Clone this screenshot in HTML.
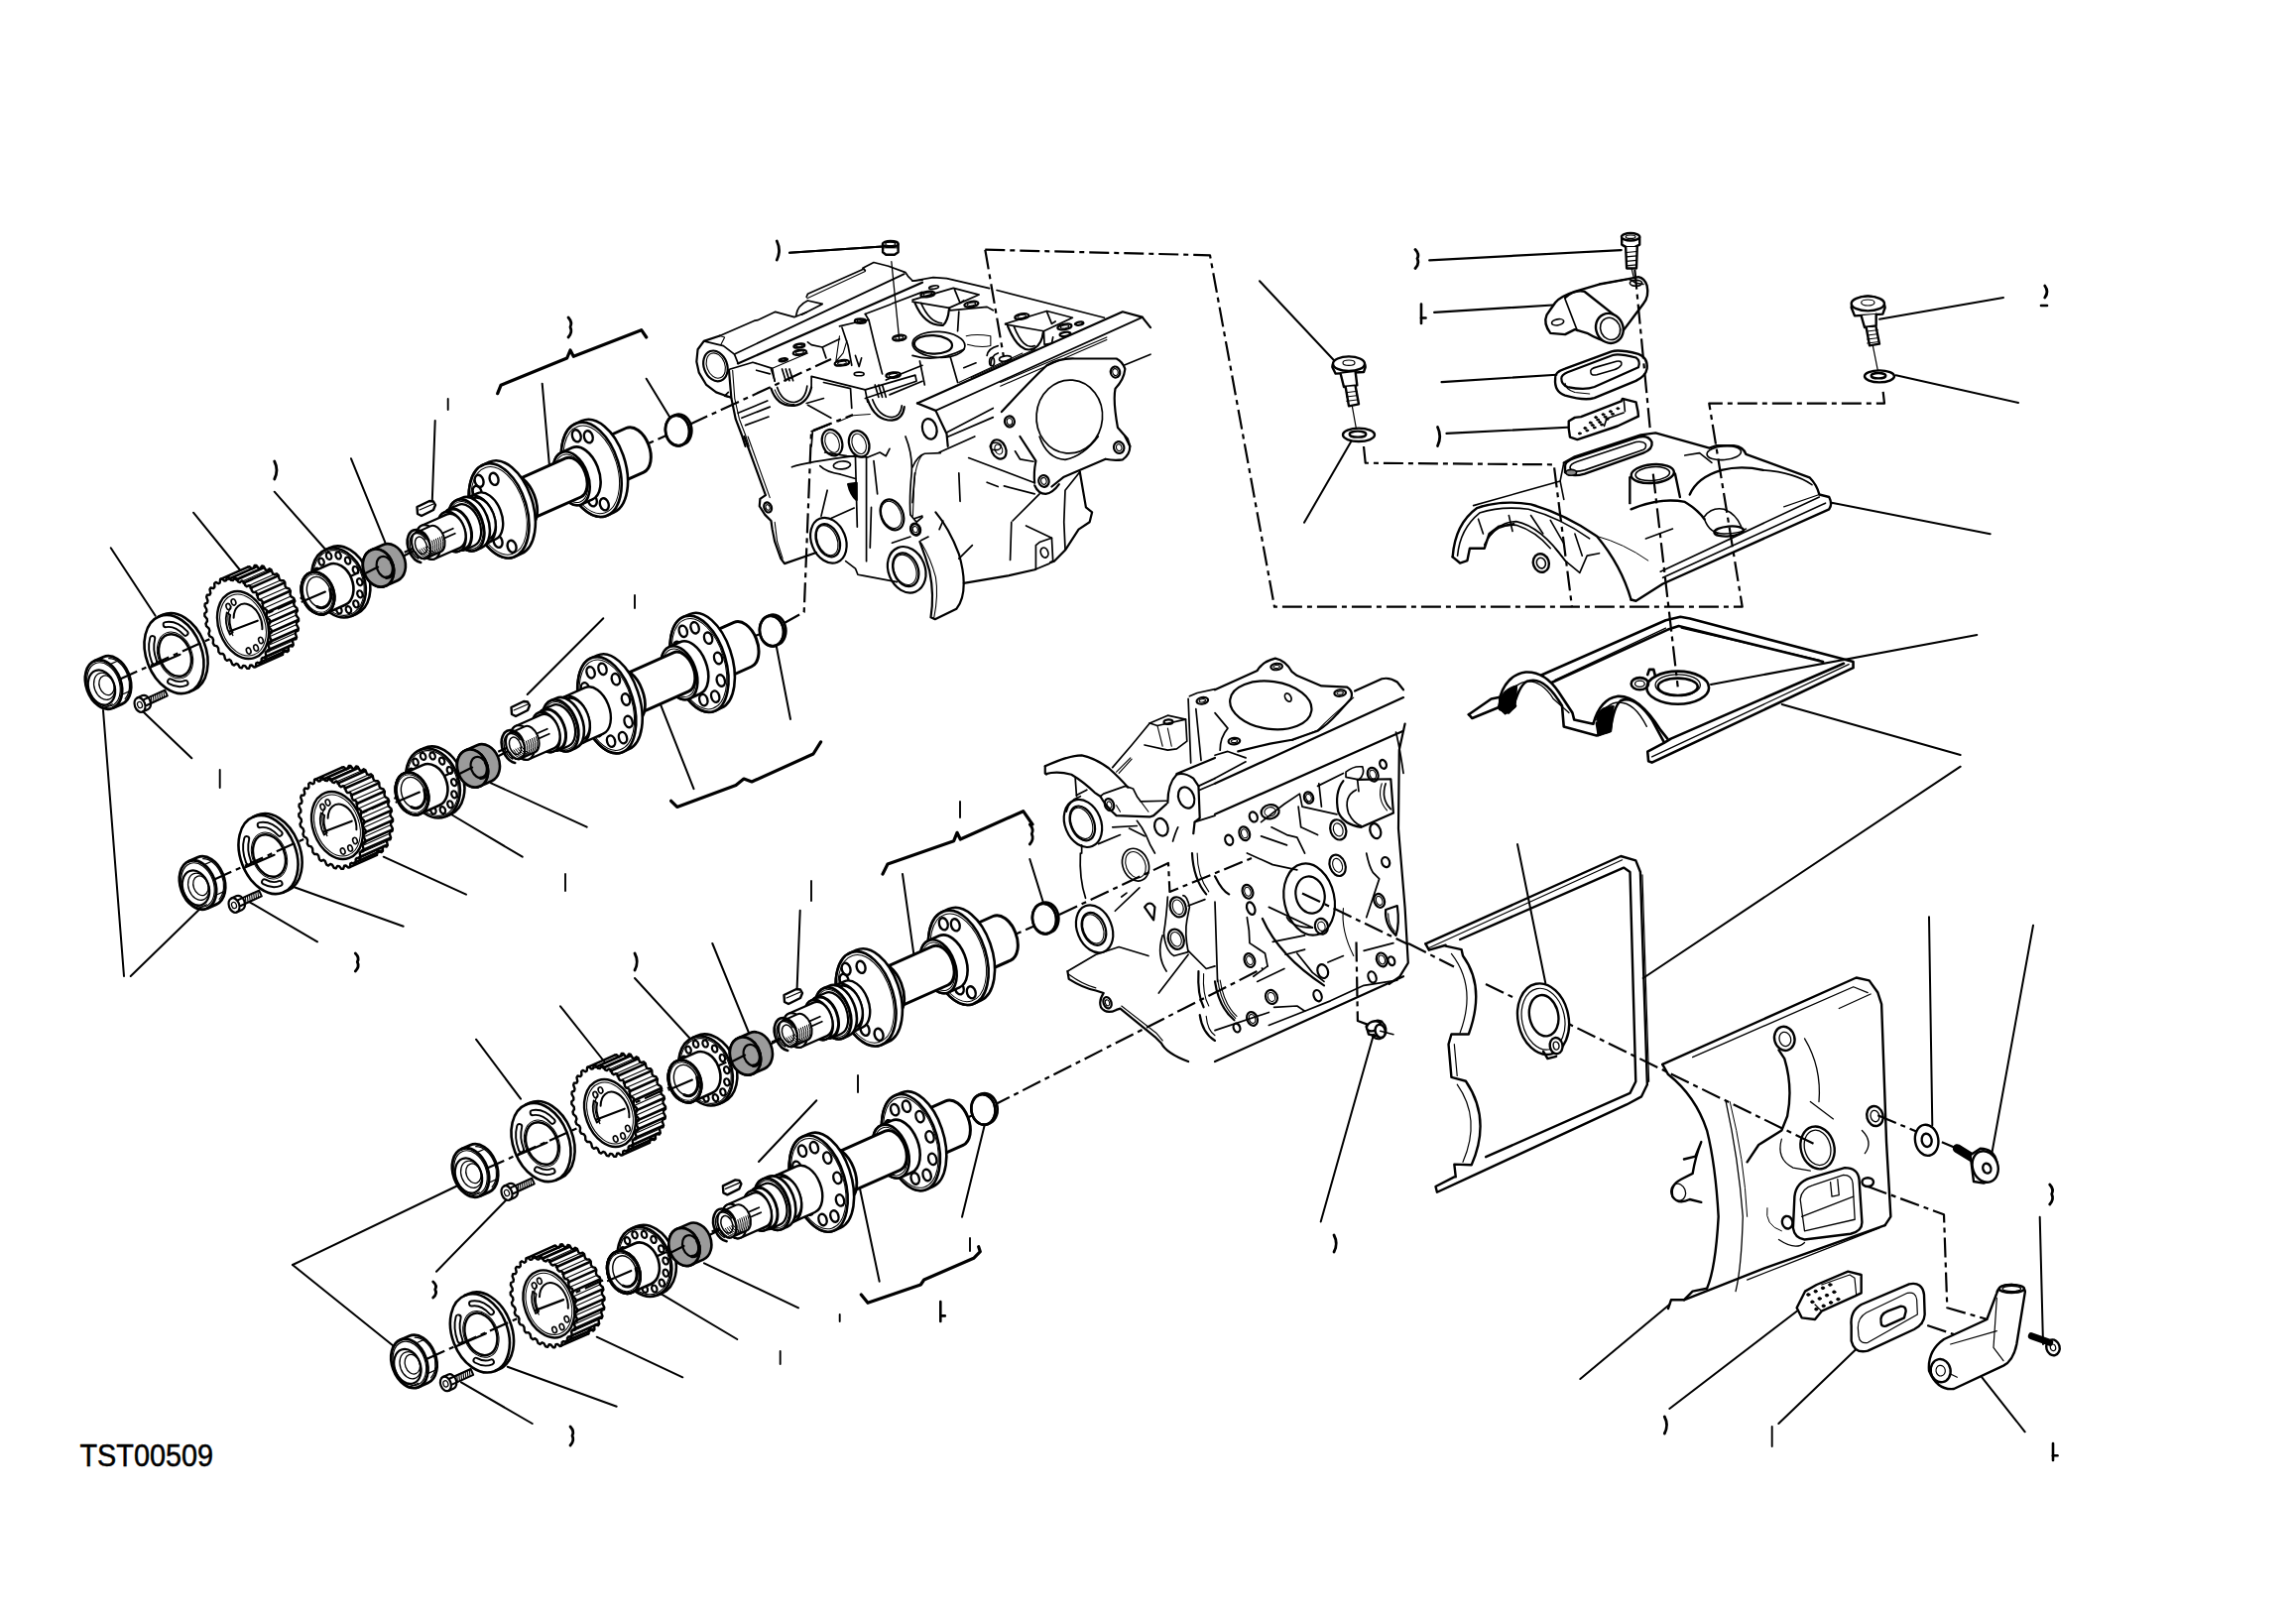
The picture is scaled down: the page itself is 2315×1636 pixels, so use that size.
<!DOCTYPE html>
<html><head><meta charset="utf-8"><style>
html,body{margin:0;padding:0;background:#fff;width:2315px;height:1636px;overflow:hidden}
svg{display:block;position:absolute;left:0;top:0}
.t{font-family:"Liberation Sans",sans-serif}
</style></head><body>
<svg width="2315" height="1636" viewBox="0 0 2315 1636">
<g fill="none" stroke="#000" stroke-linecap="round" stroke-linejoin="round">
<g transform="translate(690 250) scale(0.1232)">
<path d="M1695 110L1760 760" fill="none" stroke-width="1.3" vector-effect="non-scaling-stroke"/>
<path d="M380 1222L330 1205L260 1180L180 1120L120 1020L100 930L110 830L160 762L290 718" fill="none" stroke-width="2.2" vector-effect="non-scaling-stroke"/>
<ellipse cx="255" cy="965" rx="95" ry="128" transform="rotate(-20 255 965)" fill="none" stroke-width="2.2" vector-effect="non-scaling-stroke"/>
<ellipse cx="258" cy="962" rx="74" ry="106" transform="rotate(-20 258 962)" fill="none" stroke-width="1.1" vector-effect="non-scaling-stroke"/>
<path d="M160 762L320 800L410 870L440 945" fill="none" stroke-width="1.7" vector-effect="non-scaling-stroke"/>
<path d="M300 790L330 730L290 718" fill="none" stroke-width="1.1" vector-effect="non-scaling-stroke"/>
<path d="M290 718L570 596L600 590L745 522L900 565L940 550L1000 525" fill="none" stroke-width="1.7" vector-effect="non-scaling-stroke"/>
<path d="M915 550 Q925 470 1010 430 L1130 458 L960 545" fill="none" stroke-width="1.7" vector-effect="non-scaling-stroke"/>
<path d="M1000 400L1010 375L1470 170L1480 185" fill="none" stroke-width="1.7" vector-effect="non-scaling-stroke"/>
<path d="M1005 412L1480 190" fill="none" stroke-width="1.1" vector-effect="non-scaling-stroke"/>
<path d="M1460 165L1550 118L1670 148L1810 200L1830 230L1870 270L1948 262" fill="none" stroke-width="1.7" vector-effect="non-scaling-stroke"/>
<path d="M410 868L1800 212" fill="none" stroke-width="1.7" vector-effect="non-scaling-stroke"/>
<path d="M438 945L1948 282" fill="none" stroke-width="2.2" vector-effect="non-scaling-stroke"/>
<path d="M1480 540L1690 460" fill="none" stroke-width="1.7" vector-effect="non-scaling-stroke"/>
<path d="M1700 455L1948 360" fill="none" stroke-width="1.7" vector-effect="non-scaling-stroke"/>
<path d="M370 992L560 935L720 985L740 1090" fill="none" stroke-width="1.7" vector-effect="non-scaling-stroke"/>
<path d="M590 1000L700 1030" fill="none" stroke-width="1.7" vector-effect="non-scaling-stroke"/>
<path d="M720 985L1010 860" fill="none" stroke-width="1.1" vector-effect="non-scaling-stroke"/>
<path d="M365 1000L385 1230L420 1400L470 1530L500 1623" fill="none" stroke-width="2.2" vector-effect="non-scaling-stroke"/>
<path d="M395 1000L412 1230L450 1400L500 1530L530 1623" fill="none" stroke-width="1.1" vector-effect="non-scaling-stroke"/>
<path d="M370 1220L330 1210L360 1180" fill="none" stroke-width="1.7" vector-effect="non-scaling-stroke"/>
<path d="M710 1150 Q760 1300 900 1290 Q1010 1270 1040 1140" fill="none" stroke-width="2.2" vector-effect="non-scaling-stroke"/>
<path d="M760 1140 Q800 1260 900 1262 Q990 1250 1005 1130" fill="none" stroke-width="1.7" vector-effect="non-scaling-stroke"/>
<path d="M740 1160 Q790 1285 900 1278" fill="none" stroke-width="1.1" vector-effect="non-scaling-stroke"/>
<path d="M710 990L740 1085" fill="none" stroke-width="1.7" vector-effect="non-scaling-stroke"/>
<path d="M800 990L830 1085" fill="none" stroke-width="1.7" vector-effect="non-scaling-stroke"/>
<path d="M830 990L860 1085" fill="none" stroke-width="1.7" vector-effect="non-scaling-stroke"/>
<path d="M860 990L890 1085" fill="none" stroke-width="1.7" vector-effect="non-scaling-stroke"/>
<path d="M1040 1140L1040 1050L1480 1160L1890 1040L1900 1090L1480 1230" fill="none" stroke-width="1.7" vector-effect="non-scaling-stroke"/>
<path d="M1140 1100L1360 1150L1370 1310" fill="none" stroke-width="1.7" vector-effect="non-scaling-stroke"/>
<path d="M1480 1160L1500 1260" fill="none" stroke-width="1.7" vector-effect="non-scaling-stroke"/>
<path d="M1270 640L1420 605L1500 590" fill="none" stroke-width="1.7" vector-effect="non-scaling-stroke"/>
<path d="M1290 650L1340 800L1370 960" fill="none" stroke-width="1.7" vector-effect="non-scaling-stroke"/>
<path d="M1510 590L1560 800L1620 1030" fill="none" stroke-width="1.7" vector-effect="non-scaling-stroke"/>
<path d="M1480 540L1510 590" fill="none" stroke-width="1.7" vector-effect="non-scaling-stroke"/>
<path d="M1270 720 L1240 930 L1300 860 L1330 760" fill="none" stroke-width="1.1" vector-effect="non-scaling-stroke"/>
<path d="M1400 880L1430 970L1450 900" fill="none" stroke-width="1.7" vector-effect="non-scaling-stroke"/>
<ellipse cx="1440" cy="598" rx="45" ry="18" transform="rotate(0 1440 598)" fill="none" stroke-width="2.2" vector-effect="non-scaling-stroke"/>
<ellipse cx="1440" cy="598" rx="25" ry="9" transform="rotate(0 1440 598)" fill="none" stroke-width="1.1" vector-effect="non-scaling-stroke"/>
<path d="M1010 770L1040 792L1130 812L1270 745" fill="none" stroke-width="1.7" vector-effect="non-scaling-stroke"/>
<path d="M1130 812L1160 900" fill="none" stroke-width="1.7" vector-effect="non-scaling-stroke"/>
<ellipse cx="940" cy="800" rx="45" ry="16" transform="rotate(-8 940 800)" fill="none" stroke-width="2.2" vector-effect="non-scaling-stroke"/>
<ellipse cx="940" cy="800" rx="27" ry="8.8" transform="rotate(-8 940 800)" fill="none" stroke-width="1.1" vector-effect="non-scaling-stroke"/>
<ellipse cx="945" cy="855" rx="55" ry="20" transform="rotate(-8 945 855)" fill="none" stroke-width="2.2" vector-effect="non-scaling-stroke"/>
<ellipse cx="945" cy="855" rx="33" ry="11" transform="rotate(-8 945 855)" fill="none" stroke-width="1.1" vector-effect="non-scaling-stroke"/>
<ellipse cx="810" cy="915" rx="35" ry="12" transform="rotate(-8 810 915)" fill="none" stroke-width="2.2" vector-effect="non-scaling-stroke"/>
<ellipse cx="810" cy="915" rx="21" ry="6.6" transform="rotate(-8 810 915)" fill="none" stroke-width="1.1" vector-effect="non-scaling-stroke"/>
<ellipse cx="1290" cy="940" rx="60" ry="22" transform="rotate(-8 1290 940)" fill="none" stroke-width="2.2" vector-effect="non-scaling-stroke"/>
<ellipse cx="1290" cy="940" rx="36" ry="12.1" transform="rotate(-8 1290 940)" fill="none" stroke-width="1.1" vector-effect="non-scaling-stroke"/>
<ellipse cx="1760" cy="735" rx="55" ry="22" transform="rotate(-8 1760 735)" fill="none" stroke-width="2.2" vector-effect="non-scaling-stroke"/>
<ellipse cx="1760" cy="735" rx="33" ry="12.1" transform="rotate(-8 1760 735)" fill="none" stroke-width="1.1" vector-effect="non-scaling-stroke"/>
<ellipse cx="1710" cy="1040" rx="60" ry="22" transform="rotate(-8 1710 1040)" fill="none" stroke-width="2.2" vector-effect="non-scaling-stroke"/>
<ellipse cx="1710" cy="1040" rx="36" ry="12.1" transform="rotate(-8 1710 1040)" fill="none" stroke-width="1.1" vector-effect="non-scaling-stroke"/>
<ellipse cx="1430" cy="1030" rx="40" ry="15" transform="rotate(0 1430 1030)" fill="none" stroke-width="1.7" vector-effect="non-scaling-stroke"/>
<path d="M1500 1240 Q1560 1410 1700 1410 Q1790 1400 1800 1300" fill="none" stroke-width="2.2" vector-effect="non-scaling-stroke"/>
<path d="M1540 1240 Q1590 1380 1700 1385 Q1770 1380 1780 1290" fill="none" stroke-width="1.7" vector-effect="non-scaling-stroke"/>
<path d="M1560 1120L1590 1220" fill="none" stroke-width="1.7" vector-effect="non-scaling-stroke"/>
<path d="M1590 1120L1620 1220" fill="none" stroke-width="1.7" vector-effect="non-scaling-stroke"/>
<path d="M1620 1120L1650 1220" fill="none" stroke-width="1.7" vector-effect="non-scaling-stroke"/>
<path d="M1650 1080L1948 960" fill="none" stroke-width="1.7" vector-effect="non-scaling-stroke"/>
<path d="M1680 1200L1948 1090" fill="none" stroke-width="1.7" vector-effect="non-scaling-stroke"/>
<path d="M440 1350L680 1250" fill="none" stroke-width="1.7" vector-effect="non-scaling-stroke"/>
<path d="M470 1390L700 1300" fill="none" stroke-width="1.7" vector-effect="non-scaling-stroke"/>
<path d="M500 1450L690 1380" fill="none" stroke-width="1.7" vector-effect="non-scaling-stroke"/>
<path d="M1000 1270L1140 1230" fill="none" stroke-width="1.7" vector-effect="non-scaling-stroke"/>
<path d="M1010 1285L1200 1390" fill="none" stroke-width="1.7" vector-effect="non-scaling-stroke"/>
<path d="M1040 1500L1190 1440" fill="none" stroke-width="1.7" vector-effect="non-scaling-stroke"/>
<path d="M1040 1623L1050 1500L1190 1440" fill="none" stroke-width="1.7" vector-effect="non-scaling-stroke"/>
<path d="M1260 1420L1380 1370L1520 1360" fill="none" stroke-width="1.1" vector-effect="non-scaling-stroke"/>
</g>
<g transform="translate(920 250) scale(0.1232)">
<path d="M0 270L170 240L280 248L630 330" fill="none" stroke-width="1.7" vector-effect="non-scaling-stroke"/>
<path d="M690 345L1570 570" fill="none" stroke-width="1.7" vector-effect="non-scaling-stroke"/>
<path d="M0 425L335 328L545 382L300 490L0 440" fill="none" stroke-width="1.7" vector-effect="non-scaling-stroke"/>
<ellipse cx="125" cy="378" rx="58" ry="22" transform="rotate(-10 125 378)" fill="none" stroke-width="2.2" vector-effect="non-scaling-stroke"/>
<ellipse cx="125" cy="378" rx="35" ry="12" transform="rotate(-10 125 378)" fill="none" stroke-width="1.1" vector-effect="non-scaling-stroke"/>
<ellipse cx="175" cy="322" rx="40" ry="13" transform="rotate(-10 175 322)" fill="none" stroke-width="1.7" vector-effect="non-scaling-stroke"/>
<ellipse cx="482" cy="460" rx="58" ry="22" transform="rotate(-10 482 460)" fill="none" stroke-width="2.2" vector-effect="non-scaling-stroke"/>
<ellipse cx="482" cy="460" rx="35" ry="12" transform="rotate(-10 482 460)" fill="none" stroke-width="1.1" vector-effect="non-scaling-stroke"/>
<path d="M20 450 Q100 640 250 632 Q290 600 300 500" fill="none" stroke-width="2.2" vector-effect="non-scaling-stroke"/>
<path d="M70 450 Q140 610 240 615" fill="none" stroke-width="1.7" vector-effect="non-scaling-stroke"/>
<path d="M300 490L310 510L610 482L660 510" fill="none" stroke-width="1.7" vector-effect="non-scaling-stroke"/>
<path d="M380 520L370 680" fill="none" stroke-width="1.7" vector-effect="non-scaling-stroke"/>
<path d="M345 340L390 450L420 430" fill="none" stroke-width="1.7" vector-effect="non-scaling-stroke"/>
<path d="M760 620L1100 515L1310 570L1075 680L760 625" fill="none" stroke-width="1.7" vector-effect="non-scaling-stroke"/>
<ellipse cx="895" cy="560" rx="58" ry="22" transform="rotate(-10 895 560)" fill="none" stroke-width="2.2" vector-effect="non-scaling-stroke"/>
<ellipse cx="895" cy="560" rx="35" ry="12" transform="rotate(-10 895 560)" fill="none" stroke-width="1.1" vector-effect="non-scaling-stroke"/>
<ellipse cx="1245" cy="645" rx="58" ry="22" transform="rotate(-10 1245 645)" fill="none" stroke-width="2.2" vector-effect="non-scaling-stroke"/>
<ellipse cx="1245" cy="645" rx="35" ry="12" transform="rotate(-10 1245 645)" fill="none" stroke-width="1.1" vector-effect="non-scaling-stroke"/>
<ellipse cx="1365" cy="618" rx="35" ry="12" transform="rotate(-10 1365 618)" fill="none" stroke-width="2.2" vector-effect="non-scaling-stroke"/>
<ellipse cx="1250" cy="705" rx="45" ry="16" transform="rotate(-10 1250 705)" fill="none" stroke-width="2.2" vector-effect="non-scaling-stroke"/>
<path d="M780 640 Q880 880 1000 820 Q1060 780 1070 690" fill="none" stroke-width="2.2" vector-effect="non-scaling-stroke"/>
<path d="M830 640 Q910 840 1000 800" fill="none" stroke-width="1.7" vector-effect="non-scaling-stroke"/>
<path d="M1100 520L1140 620L1170 600" fill="none" stroke-width="1.7" vector-effect="non-scaling-stroke"/>
<path d="M1075 680L1080 790L1140 780L1150 730" fill="none" stroke-width="1.7" vector-effect="non-scaling-stroke"/>
<ellipse cx="170" cy="790" rx="155" ry="75" transform="rotate(3 170 790)" fill="none" stroke-width="2.2" vector-effect="non-scaling-stroke"/>
<ellipse cx="215" cy="790" rx="215" ry="105" transform="rotate(3 215 790)" fill="none" stroke-width="1.7" vector-effect="non-scaling-stroke"/>
<path d="M0 880 Q200 940 420 830" fill="none" stroke-width="1.7" vector-effect="non-scaling-stroke"/>
<path d="M60 925L100 1120" fill="none" stroke-width="1.7" vector-effect="non-scaling-stroke"/>
<path d="M310 890L370 1100" fill="none" stroke-width="1.7" vector-effect="non-scaling-stroke"/>
<path d="M440 720 Q520 700 640 720 L640 800 Q560 820 450 790" fill="none" stroke-width="1.1" vector-effect="non-scaling-stroke"/>
<path d="M610 880 Q620 820 700 800" fill="none" stroke-width="1.7" vector-effect="non-scaling-stroke"/>
<path d="M640 960 Q640 880 700 860" fill="none" stroke-width="1.7" vector-effect="non-scaling-stroke"/>
<path d="M420 980L520 940" fill="none" stroke-width="1.7" vector-effect="non-scaling-stroke"/>
<ellipse cx="760" cy="905" rx="50" ry="22" transform="rotate(-10 760 905)" fill="none" stroke-width="1.7" vector-effect="non-scaling-stroke"/>
<ellipse cx="650" cy="930" rx="20" ry="35" transform="rotate(0 650 930)" fill="none" stroke-width="1.7" vector-effect="non-scaling-stroke"/>
<path d="M380 1100L900 860" fill="none" stroke-width="1.1" vector-effect="non-scaling-stroke"/>
<path d="M480 1060L1000 830" fill="none" stroke-width="1.1" vector-effect="non-scaling-stroke"/>
<path d="M40 1270L1720 522L1880 565L1948 650" fill="none" stroke-width="2.2" vector-effect="non-scaling-stroke"/>
<path d="M190 1330L1885 565" fill="none" stroke-width="1.7" vector-effect="non-scaling-stroke"/>
<path d="M40 1270L190 1330L280 1520L290 1623" fill="none" stroke-width="2.2" vector-effect="non-scaling-stroke"/>
<path d="M280 1510L660 1310" fill="none" stroke-width="1.7" vector-effect="non-scaling-stroke"/>
<path d="M290 1545L660 1385" fill="none" stroke-width="1.7" vector-effect="non-scaling-stroke"/>
<path d="M720 1100L1590 730" fill="none" stroke-width="1.1" vector-effect="non-scaling-stroke"/>
<path d="M720 1130L1590 750" fill="none" stroke-width="1.1" vector-effect="non-scaling-stroke"/>
<path d="M1948 870L1730 960" fill="none" stroke-width="1.7" vector-effect="non-scaling-stroke"/>
<ellipse cx="140" cy="1480" rx="58" ry="85" transform="rotate(-15 140 1480)" fill="none" stroke-width="2.2" vector-effect="non-scaling-stroke"/>
<path d="M730 1340 Q950 1100 1100 960 Q1200 900 1330 905 L1670 905 Q1720 930 1740 990 Q1730 1080 1660 1150 Q1640 1250 1680 1470 L1760 1560 L1780 1623" fill="none" stroke-width="2.2" vector-effect="non-scaling-stroke"/>
<ellipse cx="1660" cy="1015" rx="38" ry="45" transform="rotate(-10 1660 1015)" fill="none" stroke-width="2.2" vector-effect="non-scaling-stroke"/>
<ellipse cx="1660" cy="1015" rx="22" ry="28" transform="rotate(-10 1660 1015)" fill="none" stroke-width="1.1" vector-effect="non-scaling-stroke"/>
<ellipse cx="795" cy="1420" rx="40" ry="45" transform="rotate(-10 795 1420)" fill="none" stroke-width="2.2" vector-effect="non-scaling-stroke"/>
<ellipse cx="795" cy="1420" rx="22" ry="28" transform="rotate(-10 795 1420)" fill="none" stroke-width="1.1" vector-effect="non-scaling-stroke"/>
<ellipse cx="1285" cy="1380" rx="270" ry="300" transform="rotate(5 1285 1380)" fill="none" stroke-width="1.7" vector-effect="non-scaling-stroke"/>
<ellipse cx="680" cy="1623" rx="45" ry="30" transform="rotate(0 680 1623)" fill="none" stroke-width="1.7" vector-effect="non-scaling-stroke"/>
</g>
<g transform="translate(690 440) scale(0.1232)">
<path d="M490 0L665 480L620 510L615 570L660 640L710 690L720 760L740 860L790 1000L820 1040L1080 950" fill="none" stroke-width="2.2" vector-effect="non-scaling-stroke"/>
<path d="M520 0L700 500" fill="none" stroke-width="1.1" vector-effect="non-scaling-stroke"/>
<path d="M740 700L760 860L805 1000" fill="none" stroke-width="1.1" vector-effect="non-scaling-stroke"/>
<ellipse cx="683" cy="580" rx="30" ry="42" transform="rotate(-20 683 580)" fill="none" stroke-width="2.2" vector-effect="non-scaling-stroke"/>
<ellipse cx="683" cy="580" rx="16" ry="24" transform="rotate(-20 683 580)" fill="none" stroke-width="1.1" vector-effect="non-scaling-stroke"/>
<ellipse cx="1180" cy="850" rx="140" ry="192" transform="rotate(-22 1180 850)" fill="none" stroke-width="2.2" vector-effect="non-scaling-stroke"/>
<ellipse cx="1175" cy="850" rx="92" ry="140" transform="rotate(-22 1175 850)" fill="none" stroke-width="2.2" vector-effect="non-scaling-stroke"/>
<ellipse cx="1170" cy="850" rx="80" ry="128" transform="rotate(-22 1170 850)" fill="none" stroke-width="1.1" vector-effect="non-scaling-stroke"/>
<ellipse cx="1700" cy="640" rx="90" ry="130" transform="rotate(-22 1700 640)" fill="none" stroke-width="2.2" vector-effect="non-scaling-stroke"/>
<ellipse cx="1695" cy="640" rx="78" ry="115" transform="rotate(-22 1695 640)" fill="none" stroke-width="1.1" vector-effect="non-scaling-stroke"/>
<path d="M1320 1020L1400 1080L1420 1130L1470 1140L1740 1190" fill="none" stroke-width="1.7" vector-effect="non-scaling-stroke"/>
<path d="M1400 170L1415 740" fill="none" stroke-width="1.7" vector-effect="non-scaling-stroke"/>
<path d="M1490 170L1490 1020" fill="none" stroke-width="1.7" vector-effect="non-scaling-stroke"/>
<path d="M1530 580L1520 910" fill="none" stroke-width="1.7" vector-effect="non-scaling-stroke"/>
<path d="M1550 200L1580 470" fill="none" stroke-width="1.7" vector-effect="non-scaling-stroke"/>
<ellipse cx="1210" cy="50" rx="80" ry="110" transform="rotate(-20 1210 50)" fill="none" stroke-width="2.2" vector-effect="non-scaling-stroke"/>
<ellipse cx="1210" cy="50" rx="55" ry="85" transform="rotate(-20 1210 50)" fill="none" stroke-width="1.1" vector-effect="non-scaling-stroke"/>
<ellipse cx="1430" cy="60" rx="80" ry="110" transform="rotate(-20 1430 60)" fill="none" stroke-width="2.2" vector-effect="non-scaling-stroke"/>
<ellipse cx="1430" cy="60" rx="55" ry="85" transform="rotate(-20 1430 60)" fill="none" stroke-width="1.1" vector-effect="non-scaling-stroke"/>
<path d="M1150 130L1330 160L1500 170L1600 130L1650 160L1680 100" fill="none" stroke-width="1.7" vector-effect="non-scaling-stroke"/>
<path d="M880 250 Q1000 210 1390 160" fill="none" stroke-width="1.7" vector-effect="non-scaling-stroke"/>
<ellipse cx="1290" cy="235" rx="70" ry="32" transform="rotate(-5 1290 235)" fill="none" stroke-width="1.7" vector-effect="non-scaling-stroke"/>
<path d="M1110 240 Q1160 290 1280 310 L1400 345" fill="none" stroke-width="1.7" vector-effect="non-scaling-stroke"/>
<path d="M1340 390 L1410 380 L1410 520 Q1360 480 1340 390 Z" fill="#000" stroke-width="2.2" vector-effect="non-scaling-stroke"/>
<path d="M1120 650L1170 440" fill="none" stroke-width="1.7" vector-effect="non-scaling-stroke"/>
<path d="M1200 670L1390 585" fill="none" stroke-width="1.7" vector-effect="non-scaling-stroke"/>
<path d="M1810 0 Q1870 150 1860 300 Q1840 500 1850 640 L1900 700 L1948 660" fill="none" stroke-width="1.7" vector-effect="non-scaling-stroke"/>
<path d="M1948 150 Q1890 220 1880 400 L1870 650" fill="none" stroke-width="1.1" vector-effect="non-scaling-stroke"/>
<ellipse cx="1890" cy="760" rx="35" ry="45" transform="rotate(-20 1890 760)" fill="none" stroke-width="2.2" vector-effect="non-scaling-stroke"/>
<ellipse cx="1890" cy="760" rx="20" ry="26" transform="rotate(-20 1890 760)" fill="none" stroke-width="1.1" vector-effect="non-scaling-stroke"/>
<path d="M1700 870L1850 820" fill="none" stroke-width="1.7" vector-effect="non-scaling-stroke"/>
<ellipse cx="1820" cy="1090" rx="150" ry="194" transform="rotate(-22 1820 1090)" fill="none" stroke-width="2.2" vector-effect="non-scaling-stroke"/>
<ellipse cx="1812" cy="1090" rx="100" ry="142" transform="rotate(-22 1812 1090)" fill="none" stroke-width="2.2" vector-effect="non-scaling-stroke"/>
<ellipse cx="1806" cy="1090" rx="88" ry="128" transform="rotate(-22 1806 1090)" fill="none" stroke-width="1.1" vector-effect="non-scaling-stroke"/>
</g>
<g transform="translate(920 440) scale(0.1232)">
<path d="M190 620 Q300 750 380 960 Q420 1100 420 1200 Q420 1340 360 1410 L185 1495 L150 1480 Q180 1300 140 1100 Q110 990 60 860" fill="none" stroke-width="2.2" vector-effect="non-scaling-stroke"/>
<path d="M75 875 Q150 1000 190 1150 Q215 1300 175 1490" fill="none" stroke-width="1.1" vector-effect="non-scaling-stroke"/>
<path d="M420 1200L780 1140L1000 1090L1010 1085" fill="none" stroke-width="2.2" vector-effect="non-scaling-stroke"/>
<path d="M1130 1030L1160 1020L1250 930L1360 760L1450 700L1470 620L1420 580L1370 290" fill="none" stroke-width="2.2" vector-effect="non-scaling-stroke"/>
<path d="M1250 920L1240 700L1250 440L1370 290" fill="none" stroke-width="1.7" vector-effect="non-scaling-stroke"/>
<path d="M1010 1085L1010 890L1040 865L1140 830L1150 1020L1120 1040L1010 1085" fill="none" stroke-width="1.7" vector-effect="non-scaling-stroke"/>
<ellipse cx="1080" cy="950" rx="30" ry="42" transform="rotate(-20 1080 950)" fill="none" stroke-width="1.7" vector-effect="non-scaling-stroke"/>
<path d="M930 730L1140 830" fill="none" stroke-width="1.7" vector-effect="non-scaling-stroke"/>
<path d="M820 690L1040 470" fill="none" stroke-width="1.7" vector-effect="non-scaling-stroke"/>
<path d="M800 1010L810 700" fill="none" stroke-width="1.7" vector-effect="non-scaling-stroke"/>
<path d="M220 130L510 0" fill="none" stroke-width="1.7" vector-effect="non-scaling-stroke"/>
<path d="M1580 185L1240 330L1140 410" fill="none" stroke-width="2.2" vector-effect="non-scaling-stroke"/>
<ellipse cx="1075" cy="365" rx="42" ry="48" transform="rotate(-15 1075 365)" fill="none" stroke-width="2.2" vector-effect="non-scaling-stroke"/>
<ellipse cx="1075" cy="365" rx="22" ry="28" transform="rotate(-15 1075 365)" fill="none" stroke-width="1.1" vector-effect="non-scaling-stroke"/>
<path d="M1000 380 Q990 300 1010 200 L880 0" fill="none" stroke-width="2.2" vector-effect="non-scaling-stroke"/>
<path d="M1000 400 Q1030 470 1090 470 Q1150 460 1200 390" fill="none" stroke-width="2.2" vector-effect="non-scaling-stroke"/>
<ellipse cx="1690" cy="90" rx="42" ry="48" transform="rotate(-15 1690 90)" fill="none" stroke-width="2.2" vector-effect="non-scaling-stroke"/>
<ellipse cx="1690" cy="90" rx="22" ry="28" transform="rotate(-15 1690 90)" fill="none" stroke-width="1.1" vector-effect="non-scaling-stroke"/>
<path d="M1580 185 Q1650 200 1720 190 Q1780 150 1780 80 L1740 0" fill="none" stroke-width="2.2" vector-effect="non-scaling-stroke"/>
<path d="M1040 0 Q1100 180 1250 190 Q1400 160 1520 0" fill="none" stroke-width="1.7" vector-effect="non-scaling-stroke"/>
<path d="M610 375L700 410" fill="none" stroke-width="1.7" vector-effect="non-scaling-stroke"/>
<path d="M750 405L1000 470" fill="none" stroke-width="1.7" vector-effect="non-scaling-stroke"/>
<path d="M460 175L990 375" fill="none" stroke-width="1.7" vector-effect="non-scaling-stroke"/>
<ellipse cx="705" cy="105" rx="58" ry="82" transform="rotate(-25 705 105)" fill="none" stroke-width="2.2" vector-effect="non-scaling-stroke"/>
<ellipse cx="705" cy="105" rx="30" ry="42" transform="rotate(-25 705 105)" fill="none" stroke-width="1.1" vector-effect="non-scaling-stroke"/>
<path d="M380 300L390 530" fill="none" stroke-width="1.7" vector-effect="non-scaling-stroke"/>
<path d="M0 250 Q40 160 100 140 L230 135" fill="none" stroke-width="1.7" vector-effect="non-scaling-stroke"/>
<path d="M0 540L20 300" fill="none" stroke-width="1.7" vector-effect="non-scaling-stroke"/>
<ellipse cx="25" cy="760" rx="40" ry="50" transform="rotate(-20 25 760)" fill="none" stroke-width="2.2" vector-effect="non-scaling-stroke"/>
<path d="M20 670L80 650" fill="none" stroke-width="1.7" vector-effect="non-scaling-stroke"/>
<path d="M70 850L130 820" fill="none" stroke-width="1.7" vector-effect="non-scaling-stroke"/>
<path d="M220 760L250 690" fill="none" stroke-width="1.7" vector-effect="non-scaling-stroke"/>
<path d="M380 1000L490 890" fill="none" stroke-width="1.7" vector-effect="non-scaling-stroke"/>
<path d="M840 120L880 185L990 205" fill="none" stroke-width="1.7" vector-effect="non-scaling-stroke"/>
</g>
<g transform="translate(690 240) scale(0.24641)">
<path d="M812 25L812 58L825 68L860 68L875 58L875 25" fill="#fff" stroke-width="2.4" vector-effect="non-scaling-stroke"/>
<ellipse cx="843" cy="24" rx="32" ry="12" transform="rotate(0 843 24)" fill="#fff" stroke-width="2.4" vector-effect="non-scaling-stroke"/>
<ellipse cx="843" cy="24" rx="20" ry="7" transform="rotate(0 843 24)" fill="none" stroke-width="1.2" vector-effect="non-scaling-stroke"/>
<path d="M815 40L872 40" fill="none" stroke-width="1.0" vector-effect="non-scaling-stroke"/>
</g>
<path d="M889.6 248.6L796 254.8" stroke-width="2.0"/>
<g transform="translate(1035 650) scale(0.12943)">
<path d="M145 945 Q330 860 430 860 Q530 880 640 960 Q730 1040 790 1110" fill="none" stroke-width="2.2" vector-effect="non-scaling-stroke"/>
<path d="M150 1005 Q240 980 350 1010 Q450 1070 530 1150 L575 1180 Q620 1260 700 1330 L960 1340 L990 1330 L1090 1240" fill="none" stroke-width="2.2" vector-effect="non-scaling-stroke"/>
<path d="M145 945L145 1000L155 1008" fill="none" stroke-width="2.2" vector-effect="non-scaling-stroke"/>
<path d="M575 1180L600 1160L770 1100L830 1120L860 1180L890 1220L1090 1215" fill="none" stroke-width="1.7" vector-effect="non-scaling-stroke"/>
<path d="M890 1220L950 1300" fill="none" stroke-width="1.1" vector-effect="non-scaling-stroke"/>
<path d="M730 1300L700 1250" fill="none" stroke-width="1.1" vector-effect="non-scaling-stroke"/>
<ellipse cx="645" cy="1245" rx="35" ry="48" transform="rotate(-20 645 1245)" fill="none" stroke-width="2.2" vector-effect="non-scaling-stroke"/>
<ellipse cx="645" cy="1245" rx="18" ry="26" transform="rotate(-20 645 1245)" fill="none" stroke-width="1.1" vector-effect="non-scaling-stroke"/>
<ellipse cx="440" cy="1390" rx="140" ry="192" transform="rotate(-22 440 1390)" fill="none" stroke-width="2.2" vector-effect="non-scaling-stroke"/>
<ellipse cx="435" cy="1390" rx="90" ry="140" transform="rotate(-22 435 1390)" fill="none" stroke-width="2.2" vector-effect="non-scaling-stroke"/>
<ellipse cx="430" cy="1390" rx="78" ry="126" transform="rotate(-22 430 1390)" fill="none" stroke-width="1.1" vector-effect="non-scaling-stroke"/>
<path d="M310 1300 Q330 1210 420 1180" fill="none" stroke-width="1.7" vector-effect="non-scaling-stroke"/>
<path d="M380 1040L390 1180" fill="none" stroke-width="1.7" vector-effect="non-scaling-stroke"/>
<path d="M390 1170L470 1130" fill="none" stroke-width="1.7" vector-effect="non-scaling-stroke"/>
<path d="M670 1420L860 1410" fill="none" stroke-width="1.7" vector-effect="non-scaling-stroke"/>
<path d="M800 1430L920 1490" fill="none" stroke-width="1.7" vector-effect="non-scaling-stroke"/>
<path d="M560 1550L730 1480" fill="none" stroke-width="1.7" vector-effect="non-scaling-stroke"/>
<path d="M430 1560L430 1623" fill="none" stroke-width="1.7" vector-effect="non-scaling-stroke"/>
<ellipse cx="1050" cy="1420" rx="50" ry="70" transform="rotate(-20 1050 1420)" fill="none" stroke-width="2.2" vector-effect="non-scaling-stroke"/>
<path d="M860 1370 Q900 1420 930 1480 Q960 1560 1000 1623" fill="none" stroke-width="1.7" vector-effect="non-scaling-stroke"/>
<path d="M1140 1530 Q1160 1460 1180 1420" fill="none" stroke-width="1.7" vector-effect="non-scaling-stroke"/>
<ellipse cx="1245" cy="1190" rx="60" ry="85" transform="rotate(-20 1245 1190)" fill="none" stroke-width="2.2" vector-effect="non-scaling-stroke"/>
<path d="M1100 1230 Q1100 1080 1170 1010 Q1230 990 1300 1040 L1340 1100 L1350 1350 L1310 1380 L1300 1470" fill="none" stroke-width="2.2" vector-effect="non-scaling-stroke"/>
<path d="M1170 1005L1468 880" fill="none" stroke-width="2.2" vector-effect="non-scaling-stroke"/>
<path d="M1340 1100L1468 1040" fill="none" stroke-width="1.7" vector-effect="non-scaling-stroke"/>
<path d="M1350 1130L1468 1080" fill="none" stroke-width="1.7" vector-effect="non-scaling-stroke"/>
<path d="M1310 1380L1468 1330" fill="none" stroke-width="1.7" vector-effect="non-scaling-stroke"/>
<path d="M960 610L1100 550L1240 580L1250 750L1170 810L1100 820L920 780" fill="none" stroke-width="1.7" vector-effect="non-scaling-stroke"/>
<path d="M960 610L1020 630L1240 580" fill="none" stroke-width="1.7" vector-effect="non-scaling-stroke"/>
<path d="M1020 630L1060 790" fill="none" stroke-width="1.1" vector-effect="non-scaling-stroke"/>
<ellipse cx="1105" cy="600" rx="35" ry="18" transform="rotate(-5 1105 600)" fill="none" stroke-width="2.2" vector-effect="non-scaling-stroke"/>
<path d="M1100 650L1130 790" fill="none" stroke-width="1.1" vector-effect="non-scaling-stroke"/>
<path d="M670 955L820 780L960 610" fill="none" stroke-width="1.7" vector-effect="non-scaling-stroke"/>
<path d="M700 990L810 880" fill="none" stroke-width="1.1" vector-effect="non-scaling-stroke"/>
<path d="M720 1000L820 890" fill="none" stroke-width="1.1" vector-effect="non-scaling-stroke"/>
<path d="M1270 400L1330 375L1468 345" fill="none" stroke-width="1.7" vector-effect="non-scaling-stroke"/>
<path d="M1260 420L1280 920" fill="none" stroke-width="1.7" vector-effect="non-scaling-stroke"/>
<path d="M1320 500L1360 900" fill="none" stroke-width="1.7" vector-effect="non-scaling-stroke"/>
<ellipse cx="1370" cy="435" rx="45" ry="25" transform="rotate(-10 1370 435)" fill="none" stroke-width="2.2" vector-effect="non-scaling-stroke"/>
<ellipse cx="1370" cy="435" rx="25" ry="12" transform="rotate(-10 1370 435)" fill="none" stroke-width="1.1" vector-effect="non-scaling-stroke"/>
</g>
<g transform="translate(1225 650) scale(0.12943)">
<path d="M0 350 L330 200 Q370 130 470 105 Q550 120 600 210 L640 240 L830 320 L1030 330 Q1080 360 1060 420 L950 540 Q880 620 800 670 L600 740 L430 770 L180 830" fill="none" stroke-width="2.2" vector-effect="non-scaling-stroke"/>
<path d="M40 820 Q40 720 100 650 L0 530" fill="none" stroke-width="1.7" vector-effect="non-scaling-stroke"/>
<path d="M600 745 L800 665 Q900 560 1080 410" fill="none" stroke-width="1.1" vector-effect="non-scaling-stroke"/>
<ellipse cx="480" cy="170" rx="45" ry="25" transform="rotate(-5 480 170)" fill="none" stroke-width="2.2" vector-effect="non-scaling-stroke"/>
<ellipse cx="480" cy="170" rx="25" ry="12" transform="rotate(-5 480 170)" fill="none" stroke-width="1.1" vector-effect="non-scaling-stroke"/>
<ellipse cx="975" cy="375" rx="45" ry="25" transform="rotate(-5 975 375)" fill="none" stroke-width="2.2" vector-effect="non-scaling-stroke"/>
<ellipse cx="975" cy="375" rx="25" ry="12" transform="rotate(-5 975 375)" fill="none" stroke-width="1.1" vector-effect="non-scaling-stroke"/>
<ellipse cx="150" cy="750" rx="45" ry="25" transform="rotate(-5 150 750)" fill="none" stroke-width="2.2" vector-effect="non-scaling-stroke"/>
<ellipse cx="150" cy="750" rx="25" ry="12" transform="rotate(-5 150 750)" fill="none" stroke-width="1.1" vector-effect="non-scaling-stroke"/>
<ellipse cx="435" cy="470" rx="320" ry="185" transform="rotate(8 435 470)" fill="none" stroke-width="2.2" vector-effect="non-scaling-stroke"/>
<ellipse cx="570" cy="410" rx="22" ry="35" transform="rotate(-30 570 410)" fill="none" stroke-width="1.7" vector-effect="non-scaling-stroke"/>
<path d="M1090 360 L1300 265 Q1360 250 1420 290 L1468 350" fill="none" stroke-width="2.2" vector-effect="non-scaling-stroke"/>
<path d="M0 1080L1468 410" fill="none" stroke-width="2.2" vector-effect="non-scaling-stroke"/>
<path d="M0 1320L1468 670" fill="none" stroke-width="2.2" vector-effect="non-scaling-stroke"/>
<path d="M0 1040L240 910" fill="none" stroke-width="1.7" vector-effect="non-scaling-stroke"/>
<path d="M0 860L100 830L240 880" fill="none" stroke-width="1.7" vector-effect="non-scaling-stroke"/>
<path d="M1410 680 Q1440 800 1468 1000" fill="none" stroke-width="1.7" vector-effect="non-scaling-stroke"/>
<path d="M1000 1060 Q930 1150 960 1300 Q1000 1400 1140 1420 L1390 1310 L1370 1045 L1110 1050" fill="none" stroke-width="2.2" vector-effect="non-scaling-stroke"/>
<path d="M1100 1130 Q1000 1180 1040 1310 Q1080 1390 1140 1410" fill="none" stroke-width="1.7" vector-effect="non-scaling-stroke"/>
<path d="M1330 1080 Q1290 1200 1370 1280" fill="none" stroke-width="1.7" vector-effect="non-scaling-stroke"/>
<path d="M1300 1080 Q1260 1200 1340 1290" fill="none" stroke-width="1.1" vector-effect="non-scaling-stroke"/>
<path d="M1020 990 Q1080 940 1150 950 Q1170 1010 1120 1050 L1020 1030 Z" fill="none" stroke-width="1.7" vector-effect="non-scaling-stroke"/>
<path d="M1110 1050L1120 1140" fill="none" stroke-width="1.7" vector-effect="non-scaling-stroke"/>
<ellipse cx="1230" cy="1010" rx="40" ry="55" transform="rotate(-20 1230 1010)" fill="none" stroke-width="2.2" vector-effect="non-scaling-stroke"/>
<ellipse cx="1230" cy="1010" rx="24" ry="35.8" transform="rotate(-20 1230 1010)" fill="none" stroke-width="1.1" vector-effect="non-scaling-stroke"/>
<ellipse cx="730" cy="1190" rx="35" ry="45" transform="rotate(-20 730 1190)" fill="none" stroke-width="2.2" vector-effect="non-scaling-stroke"/>
<ellipse cx="730" cy="1190" rx="21" ry="29.2" transform="rotate(-20 730 1190)" fill="none" stroke-width="1.1" vector-effect="non-scaling-stroke"/>
<ellipse cx="230" cy="1470" rx="40" ry="55" transform="rotate(-20 230 1470)" fill="none" stroke-width="2.2" vector-effect="non-scaling-stroke"/>
<ellipse cx="230" cy="1470" rx="24" ry="35.8" transform="rotate(-20 230 1470)" fill="none" stroke-width="1.1" vector-effect="non-scaling-stroke"/>
<ellipse cx="960" cy="1440" rx="60" ry="80" transform="rotate(-20 960 1440)" fill="none" stroke-width="2.2" vector-effect="non-scaling-stroke"/>
<ellipse cx="960" cy="1440" rx="36" ry="52" transform="rotate(-20 960 1440)" fill="none" stroke-width="1.1" vector-effect="non-scaling-stroke"/>
<ellipse cx="1310" cy="930" rx="25" ry="35" transform="rotate(-20 1310 930)" fill="none" stroke-width="2.2" vector-effect="non-scaling-stroke"/>
<ellipse cx="300" cy="1340" rx="30" ry="40" transform="rotate(-20 300 1340)" fill="none" stroke-width="2.2" vector-effect="non-scaling-stroke"/>
<ellipse cx="110" cy="1520" rx="30" ry="40" transform="rotate(-20 110 1520)" fill="none" stroke-width="2.2" vector-effect="non-scaling-stroke"/>
<ellipse cx="1250" cy="1450" rx="40" ry="60" transform="rotate(-20 1250 1450)" fill="none" stroke-width="2.2" vector-effect="non-scaling-stroke"/>
<path d="M360 1380L540 1240L660 1160L680 1260L950 1320" fill="none" stroke-width="1.7" vector-effect="non-scaling-stroke"/>
<path d="M650 1260L670 1420L800 1480" fill="none" stroke-width="1.7" vector-effect="non-scaling-stroke"/>
<path d="M440 1420L560 1480L640 1500L700 1623" fill="none" stroke-width="1.7" vector-effect="non-scaling-stroke"/>
<path d="M360 1490L560 1560" fill="none" stroke-width="1.7" vector-effect="non-scaling-stroke"/>
<ellipse cx="430" cy="1300" rx="70" ry="55" transform="rotate(-10 430 1300)" fill="none" stroke-width="2.2" vector-effect="non-scaling-stroke"/>
<ellipse cx="430" cy="1300" rx="45" ry="35" transform="rotate(-10 430 1300)" fill="none" stroke-width="1.1" vector-effect="non-scaling-stroke"/>
<path d="M810 1080L830 1260" fill="none" stroke-width="1.7" vector-effect="non-scaling-stroke"/>
<path d="M800 1100L1000 1000" fill="none" stroke-width="1.7" vector-effect="non-scaling-stroke"/>
</g>
<g transform="translate(1035 860) scale(0.12943)">
<ellipse cx="530" cy="590" rx="135" ry="192" transform="rotate(-22 530 590)" fill="none" stroke-width="2.2" vector-effect="non-scaling-stroke"/>
<ellipse cx="525" cy="590" rx="88" ry="132" transform="rotate(-22 525 590)" fill="none" stroke-width="2.2" vector-effect="non-scaling-stroke"/>
<ellipse cx="520" cy="590" rx="76" ry="118" transform="rotate(-22 520 590)" fill="none" stroke-width="1.1" vector-effect="non-scaling-stroke"/>
<path d="M320 920L540 790L720 730L950 800" fill="none" stroke-width="1.7" vector-effect="non-scaling-stroke"/>
<path d="M320 920 L330 980 Q440 1050 540 1070 L600 1090 Q560 1150 580 1200 Q620 1260 700 1220 L730 1210 L1000 1430 L1050 1480 Q1090 1560 1260 1623" fill="none" stroke-width="2.2" vector-effect="non-scaling-stroke"/>
<path d="M330 945 Q440 1025 540 1050" fill="none" stroke-width="1.1" vector-effect="non-scaling-stroke"/>
<path d="M740 1190 L1010 1400 L1060 1460" fill="none" stroke-width="1.1" vector-effect="non-scaling-stroke"/>
<ellipse cx="630" cy="1165" rx="30" ry="45" transform="rotate(-20 630 1165)" fill="none" stroke-width="2.2" vector-effect="non-scaling-stroke"/>
<ellipse cx="630" cy="1165" rx="16" ry="24" transform="rotate(-20 630 1165)" fill="none" stroke-width="1.1" vector-effect="non-scaling-stroke"/>
<path d="M420 0 Q410 200 460 350" fill="none" stroke-width="1.7" vector-effect="non-scaling-stroke"/>
<ellipse cx="850" cy="90" rx="100" ry="130" transform="rotate(-22 850 90)" fill="none" stroke-width="1.7" vector-effect="non-scaling-stroke"/>
<ellipse cx="850" cy="90" rx="75" ry="105" transform="rotate(-22 850 90)" fill="none" stroke-width="1.1" vector-effect="non-scaling-stroke"/>
<path d="M920 420 Q960 360 1000 420 L990 520 Z" fill="none" stroke-width="2.2" vector-effect="non-scaling-stroke"/>
<path d="M690 450L880 270" fill="none" stroke-width="1.7" vector-effect="non-scaling-stroke"/>
<path d="M740 340L780 310" fill="none" stroke-width="1.7" vector-effect="non-scaling-stroke"/>
<ellipse cx="1180" cy="420" rx="60" ry="80" transform="rotate(-20 1180 420)" fill="none" stroke-width="2.2" vector-effect="non-scaling-stroke"/>
<ellipse cx="1180" cy="420" rx="40" ry="58" transform="rotate(-20 1180 420)" fill="none" stroke-width="1.1" vector-effect="non-scaling-stroke"/>
<ellipse cx="1165" cy="670" rx="60" ry="80" transform="rotate(-20 1165 670)" fill="none" stroke-width="2.2" vector-effect="non-scaling-stroke"/>
<ellipse cx="1165" cy="670" rx="40" ry="58" transform="rotate(-20 1165 670)" fill="none" stroke-width="1.1" vector-effect="non-scaling-stroke"/>
<path d="M1100 340 Q1090 500 1070 620 Q1080 760 1150 800 L1260 770 Q1230 620 1250 520 L1270 420 Q1250 330 1220 330" fill="none" stroke-width="1.7" vector-effect="non-scaling-stroke"/>
<path d="M1060 640 Q1010 800 1090 920" fill="none" stroke-width="1.7" vector-effect="non-scaling-stroke"/>
<path d="M1030 1090L1260 790" fill="none" stroke-width="1.7" vector-effect="non-scaling-stroke"/>
<path d="M1260 410L1390 360" fill="none" stroke-width="1.7" vector-effect="non-scaling-stroke"/>
<path d="M1290 0 Q1300 200 1400 320" fill="none" stroke-width="2.2" vector-effect="non-scaling-stroke"/>
<path d="M1330 0 Q1330 180 1420 300" fill="none" stroke-width="1.1" vector-effect="non-scaling-stroke"/>
<path d="M1340 920 Q1330 1100 1380 1200" fill="none" stroke-width="2.2" vector-effect="non-scaling-stroke"/>
<path d="M1380 940 Q1370 1100 1420 1190" fill="none" stroke-width="1.1" vector-effect="non-scaling-stroke"/>
<path d="M1350 1260 Q1370 1400 1468 1460" fill="none" stroke-width="2.2" vector-effect="non-scaling-stroke"/>
<path d="M1400 1270 Q1410 1380 1468 1420" fill="none" stroke-width="1.1" vector-effect="non-scaling-stroke"/>
<path d="M1260 760L1400 900L1468 880" fill="none" stroke-width="1.7" vector-effect="non-scaling-stroke"/>
</g>
<g transform="translate(1225 860) scale(0.12943)">
<ellipse cx="735" cy="360" rx="195" ry="282" transform="rotate(-12 735 360)" fill="none" stroke-width="2.2" vector-effect="non-scaling-stroke"/>
<ellipse cx="742" cy="325" rx="112" ry="145" transform="rotate(-12 742 325)" fill="none" stroke-width="2.2" vector-effect="non-scaling-stroke"/>
<path d="M560 500 Q600 580 760 580" fill="none" stroke-width="1.7" vector-effect="non-scaling-stroke"/>
<ellipse cx="830" cy="570" rx="50" ry="62" transform="rotate(-15 830 570)" fill="none" stroke-width="2.2" vector-effect="non-scaling-stroke"/>
<ellipse cx="830" cy="570" rx="28" ry="36" transform="rotate(-15 830 570)" fill="none" stroke-width="1.1" vector-effect="non-scaling-stroke"/>
<ellipse cx="1270" cy="1375" rx="62" ry="72" transform="rotate(-10 1270 1375)" fill="#fff" stroke-width="2.2" vector-effect="non-scaling-stroke"/>
<path d="M1195 1340L1230 1320L1300 1310" fill="none" stroke-width="2.2" vector-effect="non-scaling-stroke"/>
<path d="M0 1623L1468 960" fill="none" stroke-width="2.2" vector-effect="non-scaling-stroke"/>
<path d="M0 1380L420 1240" fill="none" stroke-width="1.7" vector-effect="non-scaling-stroke"/>
<path d="M420 1340L700 1230L900 1150L1160 1030L1420 990" fill="none" stroke-width="1.7" vector-effect="non-scaling-stroke"/>
<path d="M0 380L20 1000" fill="none" stroke-width="1.7" vector-effect="non-scaling-stroke"/>
<path d="M250 500 Q270 600 270 700 L390 780 L410 880" fill="none" stroke-width="1.7" vector-effect="non-scaling-stroke"/>
<ellipse cx="255" cy="300" rx="40" ry="55" transform="rotate(-20 255 300)" fill="none" stroke-width="2.2" vector-effect="non-scaling-stroke"/>
<ellipse cx="255" cy="300" rx="24" ry="35.8" transform="rotate(-20 255 300)" fill="none" stroke-width="1.1" vector-effect="non-scaling-stroke"/>
<ellipse cx="270" cy="835" rx="40" ry="55" transform="rotate(-20 270 835)" fill="none" stroke-width="2.2" vector-effect="non-scaling-stroke"/>
<ellipse cx="270" cy="835" rx="24" ry="35.8" transform="rotate(-20 270 835)" fill="none" stroke-width="1.1" vector-effect="non-scaling-stroke"/>
<ellipse cx="290" cy="1290" rx="40" ry="55" transform="rotate(-20 290 1290)" fill="none" stroke-width="2.2" vector-effect="non-scaling-stroke"/>
<ellipse cx="290" cy="1290" rx="24" ry="35.8" transform="rotate(-20 290 1290)" fill="none" stroke-width="1.1" vector-effect="non-scaling-stroke"/>
<ellipse cx="1300" cy="830" rx="40" ry="55" transform="rotate(-20 1300 830)" fill="none" stroke-width="2.2" vector-effect="non-scaling-stroke"/>
<ellipse cx="1300" cy="830" rx="24" ry="35.8" transform="rotate(-20 1300 830)" fill="none" stroke-width="1.1" vector-effect="non-scaling-stroke"/>
<ellipse cx="1280" cy="370" rx="40" ry="55" transform="rotate(-20 1280 370)" fill="none" stroke-width="2.2" vector-effect="non-scaling-stroke"/>
<ellipse cx="1280" cy="370" rx="24" ry="35.8" transform="rotate(-20 1280 370)" fill="none" stroke-width="1.1" vector-effect="non-scaling-stroke"/>
<ellipse cx="955" cy="95" rx="60" ry="85" transform="rotate(-20 955 95)" fill="none" stroke-width="2.2" vector-effect="non-scaling-stroke"/>
<ellipse cx="955" cy="95" rx="36" ry="55.2" transform="rotate(-20 955 95)" fill="none" stroke-width="1.1" vector-effect="non-scaling-stroke"/>
<ellipse cx="440" cy="1120" rx="45" ry="55" transform="rotate(-20 440 1120)" fill="none" stroke-width="2.2" vector-effect="non-scaling-stroke"/>
<ellipse cx="440" cy="1120" rx="27" ry="35.8" transform="rotate(-20 440 1120)" fill="none" stroke-width="1.1" vector-effect="non-scaling-stroke"/>
<ellipse cx="280" cy="430" rx="30" ry="50" transform="rotate(-20 280 430)" fill="none" stroke-width="2.2" vector-effect="non-scaling-stroke"/>
<ellipse cx="170" cy="1360" rx="25" ry="35" transform="rotate(-20 170 1360)" fill="none" stroke-width="2.2" vector-effect="non-scaling-stroke"/>
<ellipse cx="800" cy="1110" rx="30" ry="45" transform="rotate(-20 800 1110)" fill="none" stroke-width="2.2" vector-effect="non-scaling-stroke"/>
<ellipse cx="1375" cy="840" rx="25" ry="35" transform="rotate(-20 1375 840)" fill="none" stroke-width="2.2" vector-effect="non-scaling-stroke"/>
<ellipse cx="1225" cy="965" rx="30" ry="45" transform="rotate(-20 1225 965)" fill="none" stroke-width="2.2" vector-effect="non-scaling-stroke"/>
<ellipse cx="1330" cy="70" rx="30" ry="40" transform="rotate(-20 1330 70)" fill="none" stroke-width="2.2" vector-effect="non-scaling-stroke"/>
<ellipse cx="840" cy="920" rx="40" ry="55" transform="rotate(-20 840 920)" fill="none" stroke-width="2.2" vector-effect="non-scaling-stroke"/>
<path d="M1330 440 L1420 410 Q1440 550 1410 640 Q1320 560 1330 440 Z" fill="none" stroke-width="2.2" vector-effect="non-scaling-stroke"/>
<path d="M1350 470 Q1350 560 1400 610" fill="none" stroke-width="1.1" vector-effect="non-scaling-stroke"/>
<path d="M0 1000 Q30 1200 150 1300" fill="none" stroke-width="2.2" vector-effect="non-scaling-stroke"/>
<path d="M40 990 Q70 1180 170 1270" fill="none" stroke-width="1.1" vector-effect="non-scaling-stroke"/>
<path d="M20 980 Q50 1190 160 1285" fill="none" stroke-width="1.1" vector-effect="non-scaling-stroke"/>
<path d="M0 180 Q60 300 110 320" fill="none" stroke-width="2.2" vector-effect="non-scaling-stroke"/>
<path d="M370 510 Q500 800 850 1030" fill="none" stroke-width="2.2" vector-effect="non-scaling-stroke"/>
<path d="M420 420L760 580" fill="none" stroke-width="1.7" vector-effect="non-scaling-stroke"/>
<path d="M450 690L700 640" fill="none" stroke-width="1.7" vector-effect="non-scaling-stroke"/>
<path d="M550 790L700 750" fill="none" stroke-width="1.7" vector-effect="non-scaling-stroke"/>
<path d="M640 780L760 930L850 1000" fill="none" stroke-width="1.7" vector-effect="non-scaling-stroke"/>
<path d="M300 960L410 880" fill="none" stroke-width="1.7" vector-effect="non-scaling-stroke"/>
<path d="M330 1000L540 900" fill="none" stroke-width="1.7" vector-effect="non-scaling-stroke"/>
<path d="M460 1200L640 1190L700 1230" fill="none" stroke-width="1.7" vector-effect="non-scaling-stroke"/>
<path d="M250 0L450 90L640 130" fill="none" stroke-width="1.7" vector-effect="non-scaling-stroke"/>
<path d="M1160 760L1390 700" fill="none" stroke-width="1.7" vector-effect="non-scaling-stroke"/>
<path d="M880 850L1000 800" fill="none" stroke-width="1.7" vector-effect="non-scaling-stroke"/>
<path d="M1000 430 Q980 600 1080 800" fill="none" stroke-width="1.1" vector-effect="non-scaling-stroke"/>
<path d="M1180 0 Q1200 100 1230 150 L1280 200 L1180 500" fill="none" stroke-width="1.7" vector-effect="non-scaling-stroke"/>
</g>
<path d="M1416.6 729.5L1410.8 756L1410 835.5L1416.6 915L1419.8 970.6L1411.3 984.4L1400.7 991.9" fill="none" stroke-width="2.2"/>
<g transform="translate(1440 220) scale(0.24648)">
<path d="M792 78L792 108L810 118L845 118L865 108L865 78" fill="#fff" stroke-width="2.4" vector-effect="non-scaling-stroke"/>
<ellipse cx="828" cy="76" rx="37" ry="15" transform="rotate(0 828 76)" fill="#fff" stroke-width="2.4" vector-effect="non-scaling-stroke"/>
<ellipse cx="828" cy="76" rx="20" ry="7" transform="rotate(0 828 76)" fill="none" stroke-width="1.2" vector-effect="non-scaling-stroke"/>
<path d="M808 118L812 205L852 205L855 118" fill="#fff" stroke-width="2.4" vector-effect="non-scaling-stroke"/>
<path d="M810 140L854 136" fill="none" stroke-width="1.2" vector-effect="non-scaling-stroke"/>
<path d="M810 158L854 154" fill="none" stroke-width="1.2" vector-effect="non-scaling-stroke"/>
<path d="M810 176L854 172" fill="none" stroke-width="1.2" vector-effect="non-scaling-stroke"/>
<path d="M810 194L854 190" fill="none" stroke-width="1.2" vector-effect="non-scaling-stroke"/>
<path d="M832 205L845 260" fill="none" stroke-width="1.2" vector-effect="non-scaling-stroke"/>
<path d="M485 395 Q470 430 500 470 L560 475 L600 455 L650 470 Q700 500 740 505 L790 470 L880 350 Q905 320 895 275 Q885 245 860 240 L820 248 L700 270 L600 300 Q540 320 520 345 Z" fill="#fff" stroke-width="2.4" vector-effect="non-scaling-stroke"/>
<path d="M560 325 Q600 290 640 300 L760 395" fill="none" stroke-width="2.4" vector-effect="non-scaling-stroke"/>
<ellipse cx="742" cy="450" rx="55" ry="62" transform="rotate(-25 742 450)" fill="#fff" stroke-width="2.4" vector-effect="non-scaling-stroke"/>
<ellipse cx="745" cy="452" rx="40" ry="46" transform="rotate(-25 745 452)" fill="none" stroke-width="1.6" vector-effect="non-scaling-stroke"/>
<ellipse cx="530" cy="425" rx="25" ry="12" transform="rotate(-10 530 425)" fill="none" stroke-width="1.6" vector-effect="non-scaling-stroke"/>
<path d="M820 248L850 265L880 270" fill="none" stroke-width="1.6" vector-effect="non-scaling-stroke"/>
<ellipse cx="850" cy="265" rx="25" ry="12" transform="rotate(0 850 265)" fill="none" stroke-width="1.6" vector-effect="non-scaling-stroke"/>
<path d="M700 270L810 250" fill="none" stroke-width="1.6" vector-effect="non-scaling-stroke"/>
<path d="M560 330L610 460" fill="none" stroke-width="1.6" vector-effect="non-scaling-stroke"/>
<path d="M520 655 Q515 630 560 615 L750 545 Q780 535 860 555 Q900 570 895 615 Q890 645 850 665 L680 735 Q640 748 560 725 Q515 710 520 655 Z" fill="#fff" stroke-width="2.4" vector-effect="non-scaling-stroke"/>
<path d="M545 655 Q545 640 570 630 L755 560 Q780 552 850 570 Q870 585 860 610 L680 690 Q640 705 570 690 Q545 680 545 655 Z" fill="none" stroke-width="2.2" vector-effect="non-scaling-stroke"/>
<path d="M560 675 Q560 700 600 712 L660 718" fill="none" stroke-width="1.2" vector-effect="non-scaling-stroke"/>
<path d="M665 630 Q660 615 690 608 L770 585 Q795 580 790 600 Q780 615 760 620 L690 640 Q665 645 665 630 Z" fill="none" stroke-width="1.6" vector-effect="non-scaling-stroke"/>
<path d="M575 830L600 815L625 812L790 748L795 738L850 752L858 790L860 810L775 850L610 905L580 895L575 860L575 830" fill="#fff" stroke-width="2.4" vector-effect="non-scaling-stroke"/>
<path d="M720 850L730 820L800 795" fill="none" stroke-width="1.6" vector-effect="non-scaling-stroke"/>
<path d="M800 740L805 790" fill="none" stroke-width="1.6" vector-effect="non-scaling-stroke"/>
<ellipse cx="620" cy="880" rx="6" ry="4" transform="rotate(0 620 880)" fill="#000" stroke-width="1.0" vector-effect="non-scaling-stroke"/>
<ellipse cx="642" cy="858" rx="6" ry="4" transform="rotate(0 642 858)" fill="#000" stroke-width="1.0" vector-effect="non-scaling-stroke"/>
<ellipse cx="664" cy="836" rx="6" ry="4" transform="rotate(0 664 836)" fill="#000" stroke-width="1.0" vector-effect="non-scaling-stroke"/>
<ellipse cx="686" cy="814" rx="6" ry="4" transform="rotate(0 686 814)" fill="#000" stroke-width="1.0" vector-effect="non-scaling-stroke"/>
<ellipse cx="650" cy="868" rx="6" ry="4" transform="rotate(0 650 868)" fill="#000" stroke-width="1.0" vector-effect="non-scaling-stroke"/>
<ellipse cx="672" cy="846" rx="6" ry="4" transform="rotate(0 672 846)" fill="#000" stroke-width="1.0" vector-effect="non-scaling-stroke"/>
<ellipse cx="694" cy="824" rx="6" ry="4" transform="rotate(0 694 824)" fill="#000" stroke-width="1.0" vector-effect="non-scaling-stroke"/>
<ellipse cx="716" cy="802" rx="6" ry="4" transform="rotate(0 716 802)" fill="#000" stroke-width="1.0" vector-effect="non-scaling-stroke"/>
<ellipse cx="680" cy="856" rx="6" ry="4" transform="rotate(0 680 856)" fill="#000" stroke-width="1.0" vector-effect="non-scaling-stroke"/>
<ellipse cx="702" cy="834" rx="6" ry="4" transform="rotate(0 702 834)" fill="#000" stroke-width="1.0" vector-effect="non-scaling-stroke"/>
<ellipse cx="724" cy="812" rx="6" ry="4" transform="rotate(0 724 812)" fill="#000" stroke-width="1.0" vector-effect="non-scaling-stroke"/>
<ellipse cx="746" cy="790" rx="6" ry="4" transform="rotate(0 746 790)" fill="#000" stroke-width="1.0" vector-effect="non-scaling-stroke"/>
<ellipse cx="710" cy="844" rx="6" ry="4" transform="rotate(0 710 844)" fill="#000" stroke-width="1.0" vector-effect="non-scaling-stroke"/>
<ellipse cx="732" cy="822" rx="6" ry="4" transform="rotate(0 732 822)" fill="#000" stroke-width="1.0" vector-effect="non-scaling-stroke"/>
<ellipse cx="754" cy="800" rx="6" ry="4" transform="rotate(0 754 800)" fill="#000" stroke-width="1.0" vector-effect="non-scaling-stroke"/>
<ellipse cx="776" cy="778" rx="6" ry="4" transform="rotate(0 776 778)" fill="#000" stroke-width="1.0" vector-effect="non-scaling-stroke"/>
<path d="M5 172L790 130" fill="none" stroke-width="2.2" vector-effect="non-scaling-stroke"/>
<path d="M25 385L510 355" fill="none" stroke-width="2.2" vector-effect="non-scaling-stroke"/>
<path d="M55 670L525 640" fill="none" stroke-width="2.2" vector-effect="non-scaling-stroke"/>
<path d="M75 880L570 855" fill="none" stroke-width="2.2" vector-effect="non-scaling-stroke"/>
<path d="M100 1385 Q110 1250 200 1185 Q300 1150 420 1170 Q560 1210 690 1300 Q790 1420 830 1560" fill="none" stroke-width="2.4" vector-effect="non-scaling-stroke"/>
<path d="M120 1380 Q130 1270 210 1205 Q300 1175 410 1190 Q540 1225 660 1310" fill="none" stroke-width="1.6" vector-effect="non-scaling-stroke"/>
<path d="M100 1385L130 1410L160 1400L170 1350L230 1350L250 1290L290 1260L350 1250" fill="none" stroke-width="2.4" vector-effect="non-scaling-stroke"/>
<path d="M250 1300 Q290 1250 360 1255 Q440 1280 500 1350" fill="none" stroke-width="1.6" vector-effect="non-scaling-stroke"/>
<path d="M520 1350L560 1400L620 1450L650 1380L700 1370" fill="none" stroke-width="1.6" vector-effect="non-scaling-stroke"/>
<ellipse cx="462" cy="1410" rx="32" ry="38" transform="rotate(-20 462 1410)" fill="none" stroke-width="2.4" vector-effect="non-scaling-stroke"/>
<ellipse cx="462" cy="1410" rx="18" ry="22" transform="rotate(-20 462 1410)" fill="none" stroke-width="1.6" vector-effect="non-scaling-stroke"/>
<path d="M205 1230L225 1290" fill="none" stroke-width="1.6" vector-effect="non-scaling-stroke"/>
<path d="M330 1215L345 1280" fill="none" stroke-width="1.6" vector-effect="non-scaling-stroke"/>
<path d="M420 1215L470 1290" fill="none" stroke-width="1.6" vector-effect="non-scaling-stroke"/>
<path d="M500 1235L555 1330" fill="none" stroke-width="1.6" vector-effect="non-scaling-stroke"/>
<path d="M600 1290L630 1380" fill="none" stroke-width="1.6" vector-effect="non-scaling-stroke"/>
<path d="M230 1335 Q280 1240 360 1240 Q460 1260 560 1400" fill="none" stroke-width="1.6" vector-effect="non-scaling-stroke"/>
<path d="M185 1175L380 1120L540 1075L555 1000" fill="none" stroke-width="1.6" vector-effect="non-scaling-stroke"/>
<path d="M540 1075L555 1150" fill="none" stroke-width="1.6" vector-effect="non-scaling-stroke"/>
<path d="M830 1560 L850 1565 L960 1495 L1640 1190 Q1655 1170 1640 1140 L1600 1130 Q1590 1090 1560 1060 L1300 965 Q1290 935 1250 930 L1180 930 L1150 940 L930 878 L870 886 L600 975 L555 1000" fill="none" stroke-width="2.4" vector-effect="non-scaling-stroke"/>
<path d="M960 1470L1625 1165" fill="none" stroke-width="1.6" vector-effect="non-scaling-stroke"/>
<path d="M950 1445L1600 1140" fill="none" stroke-width="1.6" vector-effect="non-scaling-stroke"/>
<path d="M1455 1180L1600 1130" fill="none" stroke-width="1.2" vector-effect="non-scaling-stroke"/>
<path d="M560 1020 Q555 995 600 980 L860 895 Q900 885 915 915 Q920 945 880 960 L640 1045 Q590 1060 560 1040 Z" fill="none" stroke-width="2.4" vector-effect="non-scaling-stroke"/>
<path d="M580 1020 Q580 1005 610 995 L850 915 Q880 910 890 925 Q895 945 870 950 L640 1030 Q600 1040 585 1030 Z" fill="none" stroke-width="1.6" vector-effect="non-scaling-stroke"/>
<ellipse cx="585" cy="1040" rx="22" ry="12" transform="rotate(0 585 1040)" fill="#888" stroke-width="1.6" vector-effect="non-scaling-stroke"/>
<path d="M825 1165L825 1060" fill="none" stroke-width="2.4" vector-effect="non-scaling-stroke"/>
<path d="M1010 1045L1030 1140" fill="none" stroke-width="2.4" vector-effect="non-scaling-stroke"/>
<ellipse cx="918" cy="1045" rx="88" ry="38" transform="rotate(-5 918 1045)" fill="none" stroke-width="2.4" vector-effect="non-scaling-stroke"/>
<ellipse cx="918" cy="1045" rx="70" ry="28" transform="rotate(-5 918 1045)" fill="none" stroke-width="1.6" vector-effect="non-scaling-stroke"/>
<path d="M1070 1130 Q1100 1060 1200 1030 Q1280 1010 1370 1030" fill="none" stroke-width="2.4" vector-effect="non-scaling-stroke"/>
<path d="M830 1190 Q950 1140 1050 1160 Q1100 1190 1130 1230" fill="none" stroke-width="2.4" vector-effect="non-scaling-stroke"/>
<path d="M1130 1230 Q1150 1290 1210 1290 Q1280 1290 1300 1270" fill="none" stroke-width="1.6" vector-effect="non-scaling-stroke"/>
<ellipse cx="1230" cy="1280" rx="60" ry="20" transform="rotate(-5 1230 1280)" fill="none" stroke-width="2.4" vector-effect="non-scaling-stroke"/>
<path d="M1130 1220 Q1160 1180 1210 1190 Q1260 1210 1280 1260" fill="none" stroke-width="1.6" vector-effect="non-scaling-stroke"/>
<path d="M1370 1030 Q1500 1040 1570 1090" fill="none" stroke-width="1.6" vector-effect="non-scaling-stroke"/>
<path d="M1050 970L1110 960L1160 1000" fill="none" stroke-width="1.6" vector-effect="non-scaling-stroke"/>
<ellipse cx="1210" cy="960" rx="70" ry="28" transform="rotate(-5 1210 960)" fill="none" stroke-width="1.6" vector-effect="non-scaling-stroke"/>
<path d="M690 1300 Q800 1330 900 1400" fill="none" stroke-width="1.0" vector-effect="non-scaling-stroke"/>
<path d="M890 1310L1000 1270" fill="none" stroke-width="1.6" vector-effect="non-scaling-stroke"/>
</g>
<path d="M993.3 251.7L1220 257.3L1285 611.7L1756.7 611.7L1723.3 406.7L1900 406.7L1898.3 391.7" fill="none" stroke-width="2.2" stroke-dasharray="20 5 5 5" stroke-linecap="butt"/>
<path d="M993.3 251.7L1012 360" fill="none" stroke-width="2.2" stroke-dasharray="20 5 5 5" stroke-linecap="butt"/>
<path d="M1375 450L1376.7 466.7L1566.7 468.3L1585 612" fill="none" stroke-width="2.2" stroke-dasharray="20 5 5 5" stroke-linecap="butt"/>
<path d="M1648.3 271.8L1664.3 438" fill="none" stroke-width="2.2" stroke-dasharray="20 5 5 5" stroke-linecap="butt"/>
<path d="M1666.8 477.6L1691.7 692.3" fill="none" stroke-width="2.2" stroke-dasharray="20 5 5 5" stroke-linecap="butt"/>
<path d="M1420 951L1466 974.5" fill="none" stroke-width="2.2" stroke-dasharray="20 5 5 5" stroke-linecap="butt"/>
<path d="M1498 992L1527 1006" fill="none" stroke-width="2.2" stroke-dasharray="20 5 5 5" stroke-linecap="butt"/>
<path d="M1559 1021L1831 1154" fill="none" stroke-width="2.2" stroke-dasharray="20 5 5 5" stroke-linecap="butt"/>
<path d="M1893.3 1124.3L1973.3 1157.7" fill="none" stroke-width="2.2" stroke-dasharray="20 5 5 5" stroke-linecap="butt"/>
<path d="M1883.3 1196L1960 1224.3L1963.3 1318.3L2010 1331.7" fill="none" stroke-width="2.2" stroke-dasharray="20 5 5 5" stroke-linecap="butt"/>
<path d="M1910 1325L2010 1358.3" fill="none" stroke-width="2.2" stroke-dasharray="20 5 5 5" stroke-linecap="butt"/>
<path d="M120 685L683 434" fill="none" stroke-width="2.2" stroke-dasharray="20 5 5 5" stroke-linecap="butt"/>
<path d="M695 428L838 362" fill="none" stroke-width="2.2" stroke-dasharray="20 5 5 5" stroke-linecap="butt"/>
<path d="M215 887L775 635" fill="none" stroke-width="2.2" stroke-dasharray="20 5 5 5" stroke-linecap="butt"/>
<path d="M788.6 629.3L810.7 617L818 434.7L860 418" fill="none" stroke-width="2.2" stroke-dasharray="20 5 5 5" stroke-linecap="butt"/>
<path d="M490 1178L1055 928" fill="none" stroke-width="2.2" stroke-dasharray="20 5 5 5" stroke-linecap="butt"/>
<path d="M1068 922L1178 870L1179.4 899L1263 864.6" fill="none" stroke-width="2.2" stroke-dasharray="20 5 5 5" stroke-linecap="butt"/>
<path d="M430 1370L990 1120" fill="none" stroke-width="2.2" stroke-dasharray="20 5 5 5" stroke-linecap="butt"/>
<path d="M1000 1115L1273.5 976" fill="none" stroke-width="2.2" stroke-dasharray="20 5 5 5" stroke-linecap="butt"/>
<path d="M1313 900.4L1420 952" fill="none" stroke-width="2.2" stroke-dasharray="20 5 5 5" stroke-linecap="butt"/>
<path d="M1367.5 949.4L1368.9 1029L1385 1035" fill="none" stroke-width="2.2" stroke-dasharray="20 5 5 5" stroke-linecap="butt"/>
<path d="M1270 283.3L1346.7 365" stroke-width="2.0"/>
<path d="M1315 526.7L1363.3 443.3" stroke-width="2.0"/>
<path d="M1895 321.7L2020 300" stroke-width="2.0"/>
<path d="M1911.7 378.3L2035 406" stroke-width="2.0"/>
<path d="M1846.7 506.7L2006.7 538.3" stroke-width="2.0"/>
<path d="M1725 690L1993.3 640" stroke-width="2.0"/>
<path d="M1796.7 710L1976.7 761" stroke-width="2.0"/>
<path d="M1656.7 986L1976.7 772.7" stroke-width="2.0"/>
<path d="M1530 851L1558.3 991" stroke-width="2.0"/>
<path d="M1945 924.3L1948.3 1134.3" stroke-width="2.0"/>
<path d="M2050 932.7L2008.3 1162.7" stroke-width="2.0"/>
<path d="M1683.3 1315L1593.3 1390" stroke-width="2.0"/>
<path d="M1811.7 1321.7L1683.3 1420" stroke-width="2.0"/>
<path d="M1873.3 1358.3L1793.3 1435" stroke-width="2.0"/>
<path d="M1998.3 1388.3L2041.7 1443.3" stroke-width="2.0"/>
<path d="M2056.7 1226.7L2060 1355" stroke-width="2.0"/>
<path d="M796 254.8L889.6 248.6" stroke-width="2.0"/>
<g transform="translate(1460 600) scale(0.17422)">
<path d="M540 462L1260 145L1345 125L1400 135L2345 385L2345 420L1180 968L1160 960L1155 905L1250 855L1290 830L2290 395" fill="none" stroke-width="2.6" vector-effect="non-scaling-stroke"/>
<path d="M600 505L1270 200L1335 178L2170 385" fill="none" stroke-width="2.6" vector-effect="non-scaling-stroke"/>
<path d="M620 490L1260 190" fill="none" stroke-width="1.3" vector-effect="non-scaling-stroke"/>
<path d="M1350 190L2150 375" fill="none" stroke-width="1.3" vector-effect="non-scaling-stroke"/>
<path d="M1180 935L2320 400" fill="none" stroke-width="1.3" vector-effect="non-scaling-stroke"/>
<path d="M120 690 L140 712 L290 650 L320 670 L380 640 Q420 500 470 495 Q560 470 660 640 L670 760 L860 812 L940 780 Q960 640 1000 610 Q1080 575 1180 720 L1250 850" fill="none" stroke-width="2.6" vector-effect="non-scaling-stroke"/>
<path d="M120 690 L250 600 L300 590 Q340 460 450 445 Q560 440 640 560 L720 680 L730 720 L840 745 Q880 600 980 585 Q1100 575 1230 780 L1270 830" fill="none" stroke-width="2.6" vector-effect="non-scaling-stroke"/>
<path d="M330 620 Q380 510 450 500 Q540 490 610 600 L700 680" fill="none" stroke-width="1.3" vector-effect="non-scaling-stroke"/>
<path d="M860 720 Q920 620 990 620 Q1080 620 1150 760" fill="none" stroke-width="1.3" vector-effect="non-scaling-stroke"/>
<path d="M300 590L300 660L350 680L390 640" fill="none" stroke-width="2.6" vector-effect="non-scaling-stroke"/>
<path d="M860 740L870 800L930 790L940 720" fill="none" stroke-width="2.6" vector-effect="non-scaling-stroke"/>
<path d="M300 600 Q320 540 400 520 L390 650 L330 690 L290 650 Z" fill="#000" stroke-width="1.0" vector-effect="non-scaling-stroke"/>
<path d="M860 700 Q880 640 960 640 L945 790 L870 815 Z" fill="#000" stroke-width="1.0" vector-effect="non-scaling-stroke"/>
<ellipse cx="1330" cy="535" rx="180" ry="95" transform="rotate(0 1330 535)" fill="none" stroke-width="2.6" vector-effect="non-scaling-stroke"/>
<ellipse cx="1330" cy="530" rx="115" ry="50" transform="rotate(0 1330 530)" fill="none" stroke-width="2.6" vector-effect="non-scaling-stroke"/>
<ellipse cx="1330" cy="520" rx="130" ry="62" transform="rotate(0 1330 520)" fill="none" stroke-width="1.3" vector-effect="non-scaling-stroke"/>
<ellipse cx="1110" cy="512" rx="50" ry="35" transform="rotate(0 1110 512)" fill="none" stroke-width="2.6" vector-effect="non-scaling-stroke"/>
<ellipse cx="1110" cy="512" rx="28" ry="18" transform="rotate(0 1110 512)" fill="none" stroke-width="1.3" vector-effect="non-scaling-stroke"/>
<path d="M1155 460L1165 430L1190 430L1200 470" fill="none" stroke-width="2.6" vector-effect="non-scaling-stroke"/>
</g>
<g transform="translate(1420 850) scale(0.28951)">
<path d="M60 350L740 45L792 60L808 100L832 840L812 882L760 910L215 1162L100 1215L95 1195L160 1162" fill="none" stroke-width="2.4" vector-effect="non-scaling-stroke"/>
<path d="M180 335L750 85L772 100L792 830L772 870L270 1092" fill="none" stroke-width="2.4" vector-effect="non-scaling-stroke"/>
<path d="M70 365L745 58" fill="none" stroke-width="1.2" vector-effect="non-scaling-stroke"/>
<path d="M815 110L838 830" fill="none" stroke-width="1.2" vector-effect="non-scaling-stroke"/>
<path d="M60 350L72 372L130 355" fill="none" stroke-width="2.4" vector-effect="non-scaling-stroke"/>
<path d="M130 358 L185 370 L190 392 Q270 500 210 665 L150 665 L140 700 L150 815 L200 828 Q290 960 220 1120 L160 1118 L165 1162" fill="none" stroke-width="2.4" vector-effect="non-scaling-stroke"/>
<path d="M150 385 Q240 500 180 660" fill="none" stroke-width="1.2" vector-effect="non-scaling-stroke"/>
<path d="M170 840 Q255 960 190 1110" fill="none" stroke-width="1.2" vector-effect="non-scaling-stroke"/>
<path d="M160 700L170 810" fill="none" stroke-width="1.2" vector-effect="non-scaling-stroke"/>
<ellipse cx="470" cy="612" rx="88" ry="125" transform="rotate(-12 470 612)" fill="#fff" stroke-width="2.4" vector-effect="non-scaling-stroke"/>
<ellipse cx="472" cy="600" rx="50" ry="72" transform="rotate(-12 472 600)" fill="none" stroke-width="2.4" vector-effect="non-scaling-stroke"/>
<ellipse cx="470" cy="612" rx="74" ry="108" transform="rotate(-12 470 612)" fill="none" stroke-width="1.2" vector-effect="non-scaling-stroke"/>
<ellipse cx="515" cy="705" rx="22" ry="28" transform="rotate(-10 515 705)" fill="#fff" stroke-width="2.4" vector-effect="non-scaling-stroke"/>
<ellipse cx="515" cy="705" rx="10" ry="14" transform="rotate(-10 515 705)" fill="none" stroke-width="1.4" vector-effect="non-scaling-stroke"/>
<path d="M470 725L485 750L515 742" fill="none" stroke-width="2.4" vector-effect="non-scaling-stroke"/>
</g>
<g transform="translate(1420 850) scale(0.28951)">
<path d="M885 770L1560 468L1605 478L1635 520L1648 560L1665 1040L1680 1300L1660 1330" fill="none" stroke-width="2.4" vector-effect="non-scaling-stroke"/>
<path d="M990 745L1550 500L1600 520" fill="none" stroke-width="1.3" vector-effect="non-scaling-stroke"/>
<path d="M1500 575L1610 525" fill="none" stroke-width="1.3" vector-effect="non-scaling-stroke"/>
<path d="M885 770 L905 805 Q1000 880 1040 1000 Q1070 1120 1080 1300 Q1070 1480 1040 1550 L990 1560 L960 1590 L915 1590 L905 1620" fill="none" stroke-width="2.4" vector-effect="non-scaling-stroke"/>
<path d="M1105 895 Q1150 1100 1165 1300 Q1160 1480 1140 1560" fill="none" stroke-width="1.3" vector-effect="non-scaling-stroke"/>
<path d="M1120 900 Q1170 1100 1180 1300" fill="none" stroke-width="1.0" vector-effect="non-scaling-stroke"/>
<path d="M960 1590L1240 1480L1660 1330" fill="none" stroke-width="2.4" vector-effect="non-scaling-stroke"/>
<path d="M1180 1520L1640 1340" fill="none" stroke-width="1.3" vector-effect="non-scaling-stroke"/>
<path d="M960 1100 L1000 1090 L1020 1040 Q1000 1090 990 1150 L950 1170 Q910 1190 920 1230 Q940 1260 980 1240 L1020 1250" fill="none" stroke-width="2.4" vector-effect="non-scaling-stroke"/>
<ellipse cx="940" cy="1215" rx="25" ry="30" transform="rotate(-20 940 1215)" fill="none" stroke-width="1.3" vector-effect="non-scaling-stroke"/>
<ellipse cx="1310" cy="680" rx="35" ry="42" transform="rotate(-15 1310 680)" fill="none" stroke-width="2.4" vector-effect="non-scaling-stroke"/>
<ellipse cx="1312" cy="682" rx="20" ry="25" transform="rotate(-15 1312 682)" fill="none" stroke-width="1.3" vector-effect="non-scaling-stroke"/>
<path d="M1290 720 L1310 750 Q1340 850 1320 950 L1300 1000 L1220 1050 L1180 1110" fill="none" stroke-width="2.4" vector-effect="non-scaling-stroke"/>
<path d="M1380 680 Q1440 780 1430 900" fill="none" stroke-width="1.3" vector-effect="non-scaling-stroke"/>
<path d="M1300 1030 Q1280 1100 1340 1130 L1400 1140" fill="none" stroke-width="1.2" vector-effect="non-scaling-stroke"/>
<ellipse cx="1425" cy="1060" rx="58" ry="75" transform="rotate(-15 1425 1060)" fill="none" stroke-width="2.4" vector-effect="non-scaling-stroke"/>
<ellipse cx="1425" cy="1060" rx="45" ry="62" transform="rotate(-15 1425 1060)" fill="none" stroke-width="1.3" vector-effect="non-scaling-stroke"/>
<ellipse cx="1625" cy="950" rx="28" ry="35" transform="rotate(-15 1625 950)" fill="none" stroke-width="2.4" vector-effect="non-scaling-stroke"/>
<ellipse cx="1625" cy="950" rx="15" ry="20" transform="rotate(-15 1625 950)" fill="none" stroke-width="1.3" vector-effect="non-scaling-stroke"/>
<path d="M1400 900 L1480 960" fill="none" stroke-width="1.3" vector-effect="non-scaling-stroke"/>
<path d="M1580 1000 Q1620 1040 1590 1080" fill="none" stroke-width="1.3" vector-effect="non-scaling-stroke"/>
<path d="M1345 1230 Q1350 1180 1400 1165 L1520 1130 Q1565 1130 1570 1170 L1580 1320 Q1580 1350 1540 1360 L1380 1380 Q1345 1375 1340 1340 Z" fill="none" stroke-width="2.4" vector-effect="non-scaling-stroke"/>
<path d="M1365 1240 Q1370 1200 1410 1190 L1515 1155 Q1545 1155 1548 1185 L1555 1310 L1380 1350 Z" fill="none" stroke-width="1.3" vector-effect="non-scaling-stroke"/>
<path d="M1370 1300L1550 1230" fill="none" stroke-width="1.3" vector-effect="non-scaling-stroke"/>
<path d="M1470 1180L1475 1230L1500 1225L1495 1170" fill="none" stroke-width="1.3" vector-effect="non-scaling-stroke"/>
<ellipse cx="1320" cy="1320" rx="18" ry="22" transform="rotate(-15 1320 1320)" fill="none" stroke-width="2.4" vector-effect="non-scaling-stroke"/>
<path d="M1250 1270 Q1240 1330 1300 1350" fill="none" stroke-width="1.0" vector-effect="non-scaling-stroke"/>
<path d="M1290 1380 Q1350 1420 1380 1390" fill="none" stroke-width="1.3" vector-effect="non-scaling-stroke"/>
<ellipse cx="1600" cy="1180" rx="20" ry="15" transform="rotate(0 1600 1180)" fill="none" stroke-width="2.4" vector-effect="non-scaling-stroke"/>
</g>
<g transform="translate(1530 1095) scale(0.3333333333333333)">
<path d="M845 670L870 620L905 600L1000 560L1040 570L1040 625L1020 635L920 680L900 705L860 700L845 670" fill="#fff" stroke-width="2.4" vector-effect="non-scaling-stroke"/>
<path d="M920 600L1005 570L1020 580L1025 630" fill="none" stroke-width="1.2" vector-effect="non-scaling-stroke"/>
<path d="M900 660L920 680" fill="none" stroke-width="1.2" vector-effect="non-scaling-stroke"/>
<ellipse cx="880" cy="630" rx="5" ry="4" transform="rotate(0 880 630)" fill="#000" stroke-width="1.0" vector-effect="non-scaling-stroke"/>
<ellipse cx="902" cy="620" rx="5" ry="4" transform="rotate(0 902 620)" fill="#000" stroke-width="1.0" vector-effect="non-scaling-stroke"/>
<ellipse cx="924" cy="610" rx="5" ry="4" transform="rotate(0 924 610)" fill="#000" stroke-width="1.0" vector-effect="non-scaling-stroke"/>
<ellipse cx="946" cy="600" rx="5" ry="4" transform="rotate(0 946 600)" fill="#000" stroke-width="1.0" vector-effect="non-scaling-stroke"/>
<ellipse cx="892" cy="652" rx="5" ry="4" transform="rotate(0 892 652)" fill="#000" stroke-width="1.0" vector-effect="non-scaling-stroke"/>
<ellipse cx="914" cy="642" rx="5" ry="4" transform="rotate(0 914 642)" fill="#000" stroke-width="1.0" vector-effect="non-scaling-stroke"/>
<ellipse cx="936" cy="632" rx="5" ry="4" transform="rotate(0 936 632)" fill="#000" stroke-width="1.0" vector-effect="non-scaling-stroke"/>
<ellipse cx="958" cy="622" rx="5" ry="4" transform="rotate(0 958 622)" fill="#000" stroke-width="1.0" vector-effect="non-scaling-stroke"/>
<ellipse cx="904" cy="674" rx="5" ry="4" transform="rotate(0 904 674)" fill="#000" stroke-width="1.0" vector-effect="non-scaling-stroke"/>
<ellipse cx="926" cy="664" rx="5" ry="4" transform="rotate(0 926 664)" fill="#000" stroke-width="1.0" vector-effect="non-scaling-stroke"/>
<ellipse cx="948" cy="654" rx="5" ry="4" transform="rotate(0 948 654)" fill="#000" stroke-width="1.0" vector-effect="non-scaling-stroke"/>
<ellipse cx="970" cy="644" rx="5" ry="4" transform="rotate(0 970 644)" fill="#000" stroke-width="1.0" vector-effect="non-scaling-stroke"/>
<path d="M1010 725 Q1005 680 1040 660 L1185 598 Q1225 590 1230 630 L1232 690 Q1230 720 1200 735 L1060 800 Q1020 810 1010 770 Z" fill="#fff" stroke-width="2.4" vector-effect="non-scaling-stroke"/>
<path d="M1030 730 Q1030 700 1055 685 L1180 625 Q1205 620 1208 645 L1210 690 L1060 775 Q1035 780 1032 755 Z" fill="none" stroke-width="1.2" vector-effect="non-scaling-stroke"/>
<path d="M1100 715 Q1095 690 1120 680 L1160 665 Q1175 665 1175 680 L1170 700 L1115 725 Q1100 728 1100 715 Z" fill="none" stroke-width="2.4" vector-effect="non-scaling-stroke"/>
<path d="M1245 860 Q1240 800 1290 765 L1420 705 L1450 625 Q1455 600 1495 600 Q1540 605 1535 625 L1510 780 Q1500 830 1470 845 L1320 915 Q1270 920 1245 860 Z" fill="#fff" stroke-width="2.4" vector-effect="non-scaling-stroke"/>
<ellipse cx="1495" cy="612" rx="38" ry="12" transform="rotate(0 1495 612)" fill="#fff" stroke-width="2.4" vector-effect="non-scaling-stroke"/>
<ellipse cx="1495" cy="612" rx="28" ry="8" transform="rotate(0 1495 612)" fill="none" stroke-width="1.2" vector-effect="non-scaling-stroke"/>
<ellipse cx="1280" cy="860" rx="30" ry="35" transform="rotate(-10 1280 860)" fill="none" stroke-width="2.4" vector-effect="non-scaling-stroke"/>
<ellipse cx="1280" cy="860" rx="14" ry="16" transform="rotate(-10 1280 860)" fill="none" stroke-width="1.2" vector-effect="non-scaling-stroke"/>
<path d="M1450 640L1440 790L1470 830" fill="none" stroke-width="1.2" vector-effect="non-scaling-stroke"/>
<path d="M1310 780L1450 740" fill="none" stroke-width="1.2" vector-effect="non-scaling-stroke"/>
<path d="M1310 870L1330 880" fill="none" stroke-width="1.2" vector-effect="non-scaling-stroke"/>
<ellipse cx="1620" cy="790" rx="20" ry="24" transform="rotate(-15 1620 790)" fill="#fff" stroke-width="2.4" vector-effect="non-scaling-stroke"/>
<ellipse cx="1620" cy="790" rx="8" ry="10" transform="rotate(-15 1620 790)" fill="none" stroke-width="1.2" vector-effect="non-scaling-stroke"/>
<path d="M1555 755L1610 775" fill="none" stroke-width="7.0" vector-effect="non-scaling-stroke"/>
</g>
<g transform="translate(1530 741) scale(0.3333333333333333)">
<ellipse cx="1238" cy="1225" rx="35" ry="47" transform="rotate(-10 1238 1225)" fill="#fff" stroke-width="2.4" vector-effect="non-scaling-stroke"/>
<ellipse cx="1238" cy="1225" rx="15" ry="20" transform="rotate(-10 1238 1225)" fill="none" stroke-width="2.4" vector-effect="non-scaling-stroke"/>
<path d="M1330 1250L1395 1290" fill="none" stroke-width="9.0" vector-effect="non-scaling-stroke"/>
<path d="M1370 1270 L1400 1250 Q1440 1250 1450 1290 Q1455 1340 1410 1355 L1380 1350 Z" fill="#fff" stroke-width="2.4" vector-effect="non-scaling-stroke"/>
<ellipse cx="1415" cy="1305" rx="38" ry="48" transform="rotate(-20 1415 1305)" fill="#fff" stroke-width="2.4" vector-effect="non-scaling-stroke"/>
<ellipse cx="1420" cy="1310" rx="12" ry="15" transform="rotate(-20 1420 1310)" fill="none" stroke-width="2.4" vector-effect="non-scaling-stroke"/>
</g>
<g transform="translate(1530 200) scale(0.3333333333333333)">
<path d="M1010 330 Q1010 300 1060 295 Q1110 300 1112 330 L1105 350 L1020 355 Z" fill="#fff" stroke-width="2.4" vector-effect="non-scaling-stroke"/>
<ellipse cx="1060" cy="318" rx="50" ry="22" transform="rotate(0 1060 318)" fill="#fff" stroke-width="2.4" vector-effect="non-scaling-stroke"/>
<ellipse cx="1060" cy="315" rx="20" ry="9" transform="rotate(0 1060 315)" fill="none" stroke-width="1.2" vector-effect="non-scaling-stroke"/>
<path d="M1040 355L1050 390L1085 385L1085 350" fill="#fff" stroke-width="2.4" vector-effect="non-scaling-stroke"/>
<path d="M1055 390L1065 445L1095 440L1085 390" fill="#fff" stroke-width="2.4" vector-effect="non-scaling-stroke"/>
<path d="M1058 402L1090 398" fill="none" stroke-width="1.0" vector-effect="non-scaling-stroke"/>
<path d="M1058 414L1090 410" fill="none" stroke-width="1.0" vector-effect="non-scaling-stroke"/>
<path d="M1058 426L1090 422" fill="none" stroke-width="1.0" vector-effect="non-scaling-stroke"/>
<path d="M1058 438L1090 434" fill="none" stroke-width="1.0" vector-effect="non-scaling-stroke"/>
<path d="M1075 445L1090 520" fill="none" stroke-width="1.2" vector-effect="non-scaling-stroke"/>
<ellipse cx="1095" cy="538" rx="45" ry="18" transform="rotate(0 1095 538)" fill="#fff" stroke-width="2.4" vector-effect="non-scaling-stroke"/>
<ellipse cx="1092" cy="536" rx="22" ry="8" transform="rotate(0 1092 536)" fill="none" stroke-width="2.4" vector-effect="non-scaling-stroke"/>
</g>
<g transform="translate(765 200) scale(0.3333333333333333)">
<path d="M1735 510 Q1735 485 1785 480 Q1835 485 1835 510 L1830 525 L1745 530 Z" fill="#fff" stroke-width="2.4" vector-effect="non-scaling-stroke"/>
<ellipse cx="1785" cy="500" rx="48" ry="22" transform="rotate(0 1785 500)" fill="#fff" stroke-width="2.4" vector-effect="non-scaling-stroke"/>
<ellipse cx="1785" cy="497" rx="18" ry="8" transform="rotate(0 1785 497)" fill="none" stroke-width="1.2" vector-effect="non-scaling-stroke"/>
<path d="M1760 530L1770 570L1810 565L1805 525" fill="#fff" stroke-width="2.4" vector-effect="non-scaling-stroke"/>
<path d="M1775 570L1785 628L1815 622L1805 568" fill="#fff" stroke-width="2.4" vector-effect="non-scaling-stroke"/>
<path d="M1778 587L1810 583" fill="none" stroke-width="1.0" vector-effect="non-scaling-stroke"/>
<path d="M1778 600L1810 596" fill="none" stroke-width="1.0" vector-effect="non-scaling-stroke"/>
<path d="M1778 613L1810 609" fill="none" stroke-width="1.0" vector-effect="non-scaling-stroke"/>
<path d="M1795 628L1808 700" fill="none" stroke-width="1.2" vector-effect="non-scaling-stroke"/>
<ellipse cx="1815" cy="715" rx="48" ry="20" transform="rotate(0 1815 715)" fill="#fff" stroke-width="2.4" vector-effect="non-scaling-stroke"/>
<ellipse cx="1812" cy="713" rx="25" ry="9" transform="rotate(0 1812 713)" fill="none" stroke-width="2.4" vector-effect="non-scaling-stroke"/>
</g>
<g transform="translate(765 741) scale(0.3333333333333333)">
<path d="M1838 880L1845 905L1880 912L1895 890" fill="#fff" stroke-width="2.4" vector-effect="non-scaling-stroke"/>
<ellipse cx="1860" cy="880" rx="22" ry="14" transform="rotate(-20 1860 880)" fill="#fff" stroke-width="2.4" vector-effect="non-scaling-stroke"/>
<ellipse cx="1880" cy="895" rx="15" ry="20" transform="rotate(-15 1880 895)" fill="#fff" stroke-width="2.4" vector-effect="non-scaling-stroke"/>
<path d="M1880 895L1920 905" fill="none" stroke-width="1.5" vector-effect="non-scaling-stroke"/>
</g>
<path d="M156.7 620.7L111.7 552.3" stroke-width="2.0"/>
<path d="M242.3 575L195 516.7" stroke-width="2.0"/>
<path d="M328.3 554L276.7 495.7" stroke-width="2.0"/>
<path d="M388.3 546.7L354 462.3" stroke-width="2.0"/>
<path d="M435.7 506.7L438.7 424" stroke-width="2.0"/>
<path d="M554 470L546.7 386.7" stroke-width="2.0"/>
<path d="M676.7 422.7L651.7 381.7" stroke-width="2.0"/>
<path d="M104 716L125 984" stroke-width="2.0"/>
<path d="M144.9 718L193.3 764.3" stroke-width="2.0"/>
<path d="M201.7 916L131.7 984" stroke-width="2.0"/>
<path d="M251.7 909.3L320 949.3" stroke-width="2.0"/>
<path d="M296.7 894.3L406.7 933.7" stroke-width="2.0"/>
<path d="M386.7 863.7L470 901.7" stroke-width="2.0"/>
<path d="M455 821L526.7 863.7" stroke-width="2.0"/>
<path d="M495 789.3L591.7 833.7" stroke-width="2.0"/>
<path d="M665.2 708.2L699.5 795.1" stroke-width="2.0"/>
<path d="M782.6 650.3L797 725" stroke-width="2.0"/>
<path d="M608.3 623.3L531.7 700" stroke-width="2.0"/>
<path d="M525 1107.7L480 1047.7" stroke-width="2.0"/>
<path d="M610 1071L565 1014.3" stroke-width="2.0"/>
<path d="M695 1046L640 986" stroke-width="2.0"/>
<path d="M755 1041L718.3 951" stroke-width="2.0"/>
<path d="M461.7 1195L295 1275" stroke-width="2.0"/>
<path d="M510 1210L440 1281.7" stroke-width="2.0"/>
<path d="M806.7 917.7L803.3 1004.3" stroke-width="2.0"/>
<path d="M910 881L921.7 964.3" stroke-width="2.0"/>
<path d="M1038.3 866L1053.3 914.3" stroke-width="2.0"/>
<path d="M396.7 1356.7L295 1275" stroke-width="2.0"/>
<path d="M465 1393.3L536.7 1435" stroke-width="2.0"/>
<path d="M511.7 1377.7L621.7 1417.7" stroke-width="2.0"/>
<path d="M601.7 1347.7L688.3 1388.3" stroke-width="2.0"/>
<path d="M666.7 1304.3L743.3 1350" stroke-width="2.0"/>
<path d="M710 1273.3L805 1318.3" stroke-width="2.0"/>
<path d="M823.3 1109.3L765 1171" stroke-width="2.0"/>
<path d="M866.7 1196.7L886.7 1291.7" stroke-width="2.0"/>
<path d="M993.3 1131.7L970 1226.7" stroke-width="2.0"/>
<path d="M1385 1042.7L1331.7 1231.5" stroke-width="2.0"/>
<path d="M501.7 396.7L505 388.3L571.7 361L575 353L578.3 359.3L646.7 332.7L651.7 340" fill="none" stroke-width="3.2"/>
<path d="M676.6 807.3L682.7 813.4L742 791.5L750 785L758 788L820 760L827.6 747.9" fill="none" stroke-width="3.2"/>
<path d="M890 881L895 871L961.7 847.7L965 839.3L968.3 846L1031.7 817.7L1041 831" fill="none" stroke-width="3.2"/>
<path d="M868.3 1305L875 1313.3L928.3 1295L931.7 1290L981.7 1268.3L988.3 1261.7L986.7 1256.7" fill="none" stroke-width="3.2"/>
<path d="M783.3 243Q787.8 252.5 783.3 262" fill="none" stroke-width="2.8"/>
<path d="M1427 251.5Q1431.5 256.2 1429 260.6 Q1431.5 265.8 1427 270.5" fill="none" stroke-width="2.8"/>
<path d="M1433 306.5L1433 326" stroke-width="2.6"/>
<path d="M1433 320.5L1437.5 320.5" stroke-width="2.6"/>
<path d="M1449.5 430.5Q1454 440 1449.5 449.5" fill="none" stroke-width="2.8"/>
<path d="M2061.7 288Q2066.2 294 2061.7 300" fill="none" stroke-width="2.8"/>
<path d="M573 320Q577.5 325 575 329.6 Q577.5 335 573 340" fill="none" stroke-width="2.8"/>
<path d="M276.7 465Q281.2 474 276.7 483" fill="none" stroke-width="2.8"/>
<path d="M451.7 402L451.7 413" stroke-width="1.9"/>
<path d="M640 600L640 613" stroke-width="1.9"/>
<path d="M221.7 776L221.7 794" stroke-width="1.9"/>
<path d="M358.3 961Q362.8 965.5 360.3 969.6 Q362.8 974.5 358.3 979" fill="none" stroke-width="2.8"/>
<path d="M570 881L570 898" stroke-width="1.9"/>
<path d="M640 961Q644.5 969.5 640 978" fill="none" stroke-width="2.8"/>
<path d="M1038.3 831Q1042.8 836 1040.3 840.6 Q1042.8 846 1038.3 851" fill="none" stroke-width="2.8"/>
<path d="M818 888L818 908" stroke-width="1.9"/>
<path d="M968 808L968 824" stroke-width="1.9"/>
<path d="M865 1084L865 1101" stroke-width="1.9"/>
<path d="M978 1248L978 1261" stroke-width="1.9"/>
<path d="M1345 1245Q1349.5 1253.5 1345 1262" fill="none" stroke-width="2.8"/>
<path d="M436.7 1292Q441.2 1296 438.7 1299.7 Q441.2 1304 436.7 1308" fill="none" stroke-width="2.8"/>
<path d="M575 1438Q579.5 1442.8 577 1447.1 Q579.5 1452.2 575 1457" fill="none" stroke-width="2.8"/>
<path d="M948.3 1312L948.3 1332" stroke-width="2.6"/>
<path d="M948.3 1326.4L952.8 1326.4" stroke-width="2.6"/>
<path d="M846.7 1325L846.7 1332" stroke-width="1.9"/>
<path d="M786.7 1362L786.7 1375" stroke-width="1.9"/>
<path d="M2066.7 1194Q2071.2 1199 2068.7 1203.6 Q2071.2 1209 2066.7 1214" fill="none" stroke-width="2.8"/>
<path d="M1678.3 1428Q1682.8 1436.5 1678.3 1445" fill="none" stroke-width="2.8"/>
<path d="M1786.7 1438L1786.7 1458" stroke-width="1.9"/>
<path d="M2070 1455L2070 1472" stroke-width="2.6"/>
<path d="M2070 1467.2L2074.5 1467.2" stroke-width="2.6"/>
<path d="M2058 308L2064 308" stroke-width="2.6"/>
<path d="M114 713.6L123.1 709.6A25.5 17.5 70 0 0 129.6 678.8A25.5 17.5 70 0 0 104.1 662.3L95 666.4" fill="none" stroke-width="2.8"/>
<ellipse cx="104.5" cy="690" rx="25.5" ry="17.5" transform="rotate(70 104.5 690)" fill="none" stroke-width="2.8"/>
<ellipse cx="104.5" cy="690" rx="22.9" ry="15.8" transform="rotate(70 104.5 690)" fill="none" stroke-width="1.2"/>
<ellipse cx="102.5" cy="693" rx="18" ry="13" transform="rotate(70 102.5 693)" fill="none" stroke-width="2.2"/>
<ellipse cx="105.2" cy="691.8" rx="14" ry="10.1" transform="rotate(70 105.2 691.8)" fill="none" stroke-width="1.3" stroke-dasharray="0"/>
<ellipse cx="107.5" cy="690.8" rx="10.1" ry="7.3" transform="rotate(70 107.5 690.8)" fill="none" stroke-width="1.3" stroke-dasharray="0"/>
<path d="M122.8 700.2L131.9 696.1" stroke-width="1.2"/>
<path d="M111 669.6L120.1 665.5" stroke-width="1.2"/>
<path d="M104.3 713.9L113.4 709.8" stroke-width="1.2"/>
<path d="M126.1 704.4A22.9 15.8 70 0 0 109.7 663.7" fill="none" stroke-width="1.2"/>
<path d="M143.8 717.5L149.3 715A7.5 5.2 70 0 0 151.2 705.9A7.5 5.2 70 0 0 143.7 701.1L138.2 703.5" fill="none" stroke-width="2.2"/>
<ellipse cx="141" cy="710.5" rx="7.5" ry="5.2" transform="rotate(70 141 710.5)" fill="none" stroke-width="2.2"/>
<ellipse cx="141" cy="710.5" rx="3.2" ry="2.4" transform="rotate(70 141 710.5)" fill="none" stroke-width="1.2"/>
<path d="M147.8 711L168.8 701.4L166.2 695.6L145.2 705.1" fill="none" stroke-width="2.0"/>
<path d="M153 708.6L152.3 701.9" stroke-width="1.1"/>
<path d="M155.1 707.6L154.4 701" stroke-width="1.1"/>
<path d="M157.2 706.7L156.5 700" stroke-width="1.1"/>
<path d="M159.3 705.7L158.6 699.1" stroke-width="1.1"/>
<path d="M161.4 704.8L160.7 698.1" stroke-width="1.1"/>
<path d="M163.5 703.8L162.8 697.2" stroke-width="1.1"/>
<path d="M165.6 702.9L164.9 696.2" stroke-width="1.1"/>
<path d="M191.1 697.4L195.2 695.6A41 28 69 0 0 205.2 646.3A41 28 69 0 0 164 619.8L159.9 621.6" fill="none" stroke-width="2.6"/>
<ellipse cx="175.5" cy="659.5" rx="41" ry="28" transform="rotate(69 175.5 659.5)" fill="none" stroke-width="2.6"/>
<ellipse cx="176.5" cy="660.5" rx="22" ry="15.5" transform="rotate(69 176.5 660.5)" fill="none" stroke-width="2.4"/>
<ellipse cx="176.5" cy="660.5" rx="24.2" ry="17.1" transform="rotate(69 176.5 660.5)" fill="none" stroke-width="1.0"/>
<path d="M187 638.2A31.2 21.3 69 0 0 167.2 629.6" fill="none" stroke-width="7.0"/>
<path d="M187 638.2A31.2 21.3 69 0 0 167.2 629.6" fill="none" stroke="#fff" stroke-width="3.2"/>
<path d="M153.7 643.6A31.2 21.3 69 0 0 155.5 666.8" fill="none" stroke-width="7.0"/>
<path d="M153.7 643.6A31.2 21.3 69 0 0 155.5 666.8" fill="none" stroke="#fff" stroke-width="3.2"/>
<path d="M171.6 686.9A31.2 21.3 69 0 0 187 688.5" fill="none" stroke-width="7.0"/>
<path d="M171.6 686.9A31.2 21.3 69 0 0 187 688.5" fill="none" stroke="#fff" stroke-width="3.2"/>
<path d="M256.2 672.6L257.9 672L258.3 668.6L259.7 667.7L262.4 669.1L263.8 667.9L263.6 664.3L264.8 662.9L267.5 663.5L268.5 661.9L267.7 658.1L268.6 656.4L271.2 656.2L271.8 654.1L270.5 650.5L270.9 648.4L273.3 647.4L273.5 645L271.7 641.7L271.7 639.4L273.7 637.7L273.6 635.1L271.3 632.3L271 629.9L272.5 627.4L271.9 624.9L269.4 622.6L268.6 620.2L269.6 617.2L268.6 614.7L265.9 613.2L264.9 611L265.2 607.6L263.9 605.3L261.2 604.6L259.9 602.6L259.6 598.9L258 597L255.4 597.1L253.9 595.5L253 591.7L251.2 590.2L248.9 591.2L247.2 590L245.8 586.4L243.9 585.4L241.9 587.1L240.1 586.4L238.2 583.1L236.3 582.6L234.8 585.1L233 584.9L230.7 582.1L228.9 582.2L227.9 585.2L226.3 585.5L223.8 583.4L222.1 584L221.7 587.4L220.3 588.3L217.6 586.9L216.2 588.1L216.4 591.7L215.2 593.1L212.5 592.5L211.5 594.1L212.3 597.9L211.4 599.6L208.8 599.8L208.2 601.9L209.5 605.5L209.1 607.6L206.7 608.6L206.5 611L208.3 614.3L208.3 616.6L206.3 618.3L206.4 620.9L208.7 623.7L209 626.1L207.5 628.6L208.1 631.1L210.6 633.4L211.4 635.8L210.4 638.8L211.4 641.3L214.1 642.8L215.1 645L214.8 648.4L216.1 650.7L218.8 651.4L220.1 653.4L220.4 657.1L222 659L224.6 658.9L226.1 660.5L227 664.3L228.8 665.8L231.1 664.8L232.8 666L234.2 669.6L236.1 670.6L238.1 668.9L239.9 669.6L241.8 672.9L243.7 673.4L245.2 670.9L247 671.1L249.3 673.9L251.1 673.8L252.1 670.8L253.7 670.5L256.2 672.6Z" fill="#fff" stroke-width="2.4"/>
<path d="M285 659.9L285.4 656.5L286.9 655.6L289.6 657.1L291 655.9L290.8 652.3L292 650.9L294.7 651.6L295.8 650L295 646.2L295.8 644.5L298.4 644.3L299.1 642.3L297.8 638.7L298.3 636.6L300.6 635.6L300.9 633.3L299.1 629.9L299.1 627.6L301.1 625.9L301 623.4L298.8 620.5L298.4 618.1L300 615.7L299.4 613.1L296.9 610.9L296.2 608.5L297.2 605.5L296.2 603L293.5 601.4L292.5 599.2L292.9 595.8L291.6 593.5L288.9 592.7L287.5 590.7L287.3 587.1L285.7 585.1L283.1 585.2L281.5 583.5L280.7 579.8L279 578.3L276.6 579.2L274.9 578L273.5 574.4L271.6 573.3L269.6 575L267.8 574.3L265.9 571L264.1 570.5L262.5 572.9L260.7 572.7L258.5 569.9L256.7 570L255.6 572.9L254 573.3L251.5 571.1L249.8 571.7" fill="none" stroke-width="2.4"/>
<path d="M257.6 672.1L285 659.9" stroke-width="2.4"/>
<path d="M222.4 583.9L249.8 571.7" stroke-width="2.4"/>
<path d="M261.8 667.9L289.2 655.7" stroke-width="2.6"/>
<path d="M263.6 664.3L291 652.1" stroke-width="1.1"/>
<path d="M266.7 662.5L294.1 650.3" stroke-width="2.6"/>
<path d="M267.7 658.1L295.1 645.9" stroke-width="1.1"/>
<path d="M270.2 655.3L297.6 643.1" stroke-width="2.6"/>
<path d="M270.5 650.5L297.9 638.3" stroke-width="1.1"/>
<path d="M272.3 646.8L299.7 634.6" stroke-width="2.6"/>
<path d="M271.7 641.7L299.1 629.5" stroke-width="1.1"/>
<path d="M272.7 637.4L300.1 625.2" stroke-width="2.6"/>
<path d="M271.3 632.3L298.7 620.1" stroke-width="1.1"/>
<path d="M271.5 627.4L298.9 615.2" stroke-width="2.6"/>
<path d="M269.4 622.6L296.8 610.4" stroke-width="1.1"/>
<path d="M268.7 617.5L296.1 605.3" stroke-width="2.6"/>
<path d="M265.9 613.2L293.3 601" stroke-width="1.1"/>
<path d="M264.5 608.2L291.9 596" stroke-width="2.6"/>
<path d="M261.2 604.6L288.6 592.4" stroke-width="1.1"/>
<path d="M259 599.8L286.4 587.6" stroke-width="2.6"/>
<path d="M255.4 597.1L282.8 584.9" stroke-width="1.1"/>
<path d="M252.6 592.8L280 580.6" stroke-width="2.6"/>
<path d="M248.9 591.2L276.3 579" stroke-width="1.1"/>
<path d="M245.6 587.6L273 575.4" stroke-width="2.6"/>
<path d="M241.9 587.1L269.3 574.9" stroke-width="1.1"/>
<path d="M238.3 584.5L265.7 572.3" stroke-width="2.6"/>
<path d="M234.8 585.1L262.2 572.9" stroke-width="1.1"/>
<path d="M231 583.5L258.4 571.3" stroke-width="2.6"/>
<path d="M227.9 585.2L255.3 573" stroke-width="1.1"/>
<ellipse cx="245" cy="630" rx="35" ry="24.5" transform="rotate(70 245 630)" fill="none" stroke-width="2.4"/>
<ellipse cx="245" cy="630" rx="32" ry="22" transform="rotate(70 245 630)" fill="none" stroke-width="1.0"/>
<path d="M264.4 634.3A20 13.5 70 0 0 250.7 609.5A20 13.5 70 0 0 235.6 622.8" fill="none" stroke-width="2.0"/>
<path d="M233 611.2A24 16 70 0 0 234.9 640.6" fill="none" stroke-width="1.2"/>
<ellipse cx="235.5" cy="606.9" rx="3.2" ry="2.2" transform="rotate(70 235.5 606.9)" fill="none" stroke-width="1.6"/>
<ellipse cx="230.3" cy="611.5" rx="3.2" ry="2.2" transform="rotate(70 230.3 611.5)" fill="none" stroke-width="1.6"/>
<ellipse cx="250.7" cy="656.1" rx="3.2" ry="2.2" transform="rotate(70 250.7 656.1)" fill="none" stroke-width="1.6"/>
<ellipse cx="258.1" cy="653.1" rx="3.2" ry="2.2" transform="rotate(70 258.1 653.1)" fill="none" stroke-width="1.6"/>
<ellipse cx="263" cy="645.4" rx="3.2" ry="2.2" transform="rotate(70 263 645.4)" fill="none" stroke-width="1.6"/>
<path d="M228.7 617.4A24 16 70 0 0 231.8 639.6L234.7 637.5A19 12.5 70 0 1 232.2 620Z" fill="none" stroke-width="1.8"/>
<path d="M355 620.8L359.6 618.8A36 26 70 0 0 369.8 574.9A36 26 70 0 0 332.5 552.1L328 554.2" fill="none" stroke-width="2.6"/>
<ellipse cx="341.5" cy="587.5" rx="36" ry="26" transform="rotate(70 341.5 587.5)" fill="none" stroke-width="2.6"/>
<ellipse cx="341.5" cy="587.5" rx="33.8" ry="24.4" transform="rotate(70 341.5 587.5)" fill="none" stroke-width="1.1"/>
<ellipse cx="351.4" cy="614.6" rx="3.6" ry="2.6" transform="rotate(70 351.4 614.6)" fill="none" stroke-width="2.2"/>
<ellipse cx="358.9" cy="608.8" rx="3.6" ry="2.6" transform="rotate(70 358.9 608.8)" fill="none" stroke-width="2.2"/>
<ellipse cx="362.9" cy="598.8" rx="3.6" ry="2.6" transform="rotate(70 362.9 598.8)" fill="none" stroke-width="2.2"/>
<ellipse cx="362.7" cy="586.6" rx="3.6" ry="2.6" transform="rotate(70 362.7 586.6)" fill="none" stroke-width="2.2"/>
<ellipse cx="358.4" cy="574.5" rx="3.6" ry="2.6" transform="rotate(70 358.4 574.5)" fill="none" stroke-width="2.2"/>
<ellipse cx="350.6" cy="565.1" rx="3.6" ry="2.6" transform="rotate(70 350.6 565.1)" fill="none" stroke-width="2.2"/>
<ellipse cx="341.1" cy="560" rx="3.6" ry="2.6" transform="rotate(70 341.1 560)" fill="none" stroke-width="2.2"/>
<ellipse cx="331.6" cy="560.4" rx="3.6" ry="2.6" transform="rotate(70 331.6 560.4)" fill="none" stroke-width="2.2"/>
<ellipse cx="324.1" cy="566.2" rx="3.6" ry="2.6" transform="rotate(70 324.1 566.2)" fill="none" stroke-width="2.2"/>
<ellipse cx="320.1" cy="576.2" rx="3.6" ry="2.6" transform="rotate(70 320.1 576.2)" fill="none" stroke-width="2.2"/>
<ellipse cx="320.3" cy="588.4" rx="3.6" ry="2.6" transform="rotate(70 320.3 588.4)" fill="none" stroke-width="2.2"/>
<ellipse cx="324.6" cy="600.5" rx="3.6" ry="2.6" transform="rotate(70 324.6 600.5)" fill="none" stroke-width="2.2"/>
<ellipse cx="332.4" cy="609.9" rx="3.6" ry="2.6" transform="rotate(70 332.4 609.9)" fill="none" stroke-width="2.2"/>
<ellipse cx="341.9" cy="615" rx="3.6" ry="2.6" transform="rotate(70 341.9 615)" fill="none" stroke-width="2.2"/>
<path d="M328.8 618.4L348 609.8A22 16 70 0 0 354.3 582.9A22 16 70 0 0 331.4 569.1L312.2 577.6A22 16 70 0 0 305.9 604.5A22 16 70 0 0 328.8 618.4Z" fill="#fff" stroke-width="2.6"/>
<ellipse cx="320.5" cy="598" rx="22" ry="16" transform="rotate(70 320.5 598)" fill="none" stroke-width="2.6"/>
<ellipse cx="320.5" cy="598" rx="22" ry="16" transform="rotate(70 320.5 598)" fill="none" stroke-width="2.6"/>
<ellipse cx="320.5" cy="598" rx="19.8" ry="14.4" transform="rotate(70 320.5 598)" fill="none" stroke-width="1.0"/>
<ellipse cx="321.5" cy="597" rx="16" ry="11.5" transform="rotate(70 321.5 597)" fill="none" stroke-width="1.4"/>
<path d="M319.9 611.6A16 11.5 70 0 0 332.7 594.1" fill="none" stroke-width="3.0"/>
<path d="M388.9 590.5L400.8 585.2A19.5 15 70 0 0 407.1 561.1A19.5 15 70 0 0 386 549.2L374.1 554.5A19.5 15 70 0 0 367.8 578.6A19.5 15 70 0 0 388.9 590.5Z" fill="#9b9b9b" stroke-width="2.6"/>
<ellipse cx="381.5" cy="572.5" rx="19.5" ry="15" transform="rotate(70 381.5 572.5)" fill="none" stroke-width="2.6"/>
<ellipse cx="381.5" cy="572.5" rx="19.5" ry="15" transform="rotate(70 381.5 572.5)" fill="#9b9b9b" stroke-width="2.6"/>
<ellipse cx="388" cy="571.5" rx="11" ry="8" transform="rotate(70 388 571.5)" fill="#9b9b9b" stroke-width="2.2"/>
<path d="M389.4 582.2A11 8 70 0 0 394.5 566.5" fill="none" stroke-width="3.5"/>
<path d="M150.7 673.1L181.5 659.8" stroke-width="2.2"/>
<path d="M231.4 636.5L259.7 625.7" stroke-width="2.2"/>
<path d="M304.6 606.6L327.9 596.6" stroke-width="2.2"/>
<path d="M367.8 578.3L381.1 571.6" stroke-width="2.2"/>
<path d="M407.8 560L421 553.3" stroke-width="2.2"/>
<path d="M612.4 492.4L648.9 476.1A24 14.9 70 0 0 653.7 447.7A24 14.9 70 0 0 631.3 431.5L594.8 447.8A24 14.9 70 0 0 590 476.1A24 14.9 70 0 0 612.4 492.4Z" fill="#fff" stroke-width="3.0"/>
<ellipse cx="603.6" cy="470.1" rx="24" ry="14.9" transform="rotate(70 603.6 470.1)" fill="#fff" stroke-width="3.0"/>
<path d="M612.4 519.5L618.8 516.6A49 28 73 0 0 628.4 459A49 28 73 0 0 586.5 424.3L580.1 427.1A49 28 73 0 0 570.6 484.8A49 28 73 0 0 612.4 519.5Z" fill="#fff" stroke-width="2.6"/>
<ellipse cx="596.3" cy="473.3" rx="49" ry="28" transform="rotate(73 596.3 473.3)" fill="#fff" stroke-width="2.6"/>
<ellipse cx="596.3" cy="473.3" rx="45.6" ry="26" transform="rotate(73 596.3 473.3)" fill="none" stroke-width="1.0"/>
<ellipse cx="581.3" cy="439.3" rx="6.2" ry="4.3" transform="rotate(73 581.3 439.3)" fill="none" stroke-width="2.4"/>
<ellipse cx="593.3" cy="440.3" rx="6.2" ry="4.3" transform="rotate(73 593.3 440.3)" fill="none" stroke-width="2.4"/>
<ellipse cx="597.3" cy="504.3" rx="6.2" ry="4.3" transform="rotate(73 597.3 504.3)" fill="none" stroke-width="2.4"/>
<ellipse cx="609.3" cy="508.3" rx="6.2" ry="4.3" transform="rotate(73 609.3 508.3)" fill="none" stroke-width="2.4"/>
<path d="M586.4 508.3L597.4 503.4A28 16.8 70 0 0 602.5 470.5A28 16.8 70 0 0 576.9 451.3L565.9 456.2A28 16.8 70 0 0 560.8 489.1A28 16.8 70 0 0 586.4 508.3Z" fill="#fff" stroke-width="2.6"/>
<ellipse cx="576.2" cy="482.3" rx="28" ry="16.8" transform="rotate(70 576.2 482.3)" fill="#fff" stroke-width="2.6"/>
<ellipse cx="576.2" cy="482.3" rx="25.2" ry="15.1" transform="rotate(70 576.2 482.3)" fill="none" stroke-width="1.0"/>
<path d="M521.8 529.4L585.7 501A21 13 70 0 0 589.9 476.2A21 13 70 0 0 570.3 461.9L506.3 490.4A21 13 70 0 0 502.1 515.2A21 13 70 0 0 521.8 529.4Z" fill="#fff" stroke-width="3.0"/>
<ellipse cx="514.1" cy="509.9" rx="21" ry="13" transform="rotate(70 514.1 509.9)" fill="#fff" stroke-width="3.0"/>
<path d="M525.6 534.3L534.8 530.2A27 14.9 70 0 0 538.6 499A27 14.9 70 0 0 515.3 479.9L506.1 484A27 14.9 70 0 0 502.3 515.2A27 14.9 70 0 0 525.6 534.3Z" fill="#fff" stroke-width="2.8"/>
<ellipse cx="515.9" cy="509.1" rx="27" ry="14.9" transform="rotate(70 515.9 509.1)" fill="#fff" stroke-width="2.8"/>
<path d="M519.3 561L525.7 558.1A49 28 73 0 0 535.2 500.5A49 28 73 0 0 493.3 465.8L486.9 468.6A49 28 73 0 0 477.4 526.3A49 28 73 0 0 519.3 561Z" fill="#fff" stroke-width="2.6"/>
<ellipse cx="503.1" cy="514.8" rx="49" ry="28" transform="rotate(73 503.1 514.8)" fill="#fff" stroke-width="2.6"/>
<ellipse cx="503.1" cy="514.8" rx="45.6" ry="26" transform="rotate(73 503.1 514.8)" fill="none" stroke-width="1.0"/>
<ellipse cx="483.1" cy="484.8" rx="6.2" ry="4.3" transform="rotate(73 483.1 484.8)" fill="none" stroke-width="2.4"/>
<ellipse cx="498.1" cy="482.8" rx="6.2" ry="4.3" transform="rotate(73 498.1 482.8)" fill="none" stroke-width="2.4"/>
<ellipse cx="481.1" cy="495.8" rx="6.2" ry="4.3" transform="rotate(73 481.1 495.8)" fill="none" stroke-width="2.4"/>
<ellipse cx="502.1" cy="545.8" rx="6.2" ry="4.3" transform="rotate(73 502.1 545.8)" fill="none" stroke-width="2.4"/>
<ellipse cx="516.1" cy="550.8" rx="6.2" ry="4.3" transform="rotate(73 516.1 550.8)" fill="none" stroke-width="2.4"/>
<path d="M492.2 547L499.5 543.7A25 15.5 70 0 0 504.5 514.2A25 15.5 70 0 0 481.1 497.3L473.8 500.5A25 15.5 70 0 0 468.8 530.1A25 15.5 70 0 0 492.2 547Z" fill="#fff" stroke-width="2.4"/>
<ellipse cx="483" cy="523.8" rx="25" ry="15.5" transform="rotate(70 483 523.8)" fill="#fff" stroke-width="2.4"/>
<ellipse cx="483" cy="523.8" rx="22.5" ry="14" transform="rotate(70 483 523.8)" fill="none" stroke-width="1.0"/>
<path d="M483.8 547.5L492.9 543.4A22 13.6 70 0 0 497.3 517.4A22 13.6 70 0 0 476.7 502.5L467.6 506.6A22 13.6 70 0 0 463.2 532.6A22 13.6 70 0 0 483.8 547.5Z" fill="#fff" stroke-width="2.2"/>
<ellipse cx="475.7" cy="527" rx="22" ry="13.6" transform="rotate(70 475.7 527)" fill="#fff" stroke-width="2.2"/>
<path d="M480.1 554.5L485.6 552.1A27 16.7 70 0 0 491 520.2A27 16.7 70 0 0 465.8 501.9L460.3 504.3A27 16.7 70 0 0 454.9 536.3A27 16.7 70 0 0 480.1 554.5Z" fill="#fff" stroke-width="2.6"/>
<ellipse cx="470.2" cy="529.4" rx="27" ry="16.7" transform="rotate(70 470.2 529.4)" fill="#fff" stroke-width="2.6"/>
<ellipse cx="470.2" cy="529.4" rx="24.8" ry="15.4" transform="rotate(70 470.2 529.4)" fill="none" stroke-width="1.0"/>
<path d="M469.1 554L478.3 549.9A22 13.6 70 0 0 482.7 523.9A22 13.6 70 0 0 462.1 509L453 513.1A22 13.6 70 0 0 448.6 539.1A22 13.6 70 0 0 469.1 554Z" fill="#fff" stroke-width="2.2"/>
<ellipse cx="461.1" cy="533.5" rx="22" ry="13.6" transform="rotate(70 461.1 533.5)" fill="#fff" stroke-width="2.2"/>
<path d="M463.3 555.5L468.8 553A21 13 70 0 0 473 528.2A21 13 70 0 0 453.4 514L447.9 516.4A21 13 70 0 0 443.7 541.3A21 13 70 0 0 463.3 555.5Z" fill="#fff" stroke-width="2.4"/>
<ellipse cx="455.6" cy="536" rx="21" ry="13" transform="rotate(70 455.6 536)" fill="#fff" stroke-width="2.4"/>
<ellipse cx="455.6" cy="536" rx="18.9" ry="11.7" transform="rotate(70 455.6 536)" fill="none" stroke-width="1.0"/>
<path d="M438.4 563.3L464 551.9A18 11.2 70 0 0 467.6 530.6A18 11.2 70 0 0 450.8 518.4L425.2 529.8A18 11.2 70 0 0 421.6 551.1A18 11.2 70 0 0 438.4 563.3Z" fill="#fff" stroke-width="2.2"/>
<ellipse cx="431.8" cy="546.5" rx="18" ry="11.2" transform="rotate(70 431.8 546.5)" fill="#fff" stroke-width="2.2"/>
<path d="M438.5 540.9L456.8 532.8" stroke-width="1.8"/>
<path d="M440.5 545.9L458.8 537.8" stroke-width="1.8"/>
<path d="M429.7 562.8L444.3 556.3A14 8.7 70 0 0 447.1 539.7A14 8.7 70 0 0 434 530.3L419.4 536.8A14 8.7 70 0 0 416.6 553.3A14 8.7 70 0 0 429.7 562.8Z" fill="#fff" stroke-width="2.0"/>
<ellipse cx="424.5" cy="549.8" rx="14" ry="8.7" transform="rotate(70 424.5 549.8)" fill="#fff" stroke-width="2.0"/>
<path d="M418.9 555.8A14 8.7 70 0 0 431.4 561.9A14 8.7 70 0 0 433.5 546" fill="none" stroke-width="1.0"/>
<path d="M420.9 554.9A14 8.7 70 0 0 433.4 561A14 8.7 70 0 0 435.5 545.1" fill="none" stroke-width="1.0"/>
<path d="M422.9 554A14 8.7 70 0 0 435.4 560.2A14 8.7 70 0 0 437.5 544.2" fill="none" stroke-width="1.0"/>
<path d="M424.9 553.1A14 8.7 70 0 0 437.4 559.3A14 8.7 70 0 0 439.5 543.3" fill="none" stroke-width="1.0"/>
<path d="M426.9 552.2A14 8.7 70 0 0 439.4 558.4A14 8.7 70 0 0 441.5 542.4" fill="none" stroke-width="1.0"/>
<path d="M428.9 551.3A14 8.7 70 0 0 441.4 557.5A14 8.7 70 0 0 443.5 541.6" fill="none" stroke-width="1.0"/>
<path d="M430.9 550.4A14 8.7 70 0 0 443.5 556.6A14 8.7 70 0 0 445.5 540.7" fill="none" stroke-width="1.0"/>
<ellipse cx="424.5" cy="549.8" rx="9" ry="5.6" transform="rotate(70 424.5 549.8)" fill="none" stroke-width="1.5"/>
<path d="M432.4 544.7A17 11.2 70 0 0 411.7 540.3A17 11.2 70 0 0 424.2 566.9" fill="none" stroke-width="2.6"/>
<path d="M429.2 543.6A13.6 9 70 0 0 413.9 542.4A13.6 9 70 0 0 421.9 563" fill="none" stroke-width="1.4"/>
<path d="M687.7 448.6L690 447.6A15.5 12 82 0 0 696.4 428A15.5 12 82 0 0 680.6 418.4L678.3 419.4A15.5 12 82 0 0 671.9 439A15.5 12 82 0 0 687.7 448.6Z" fill="#fff" stroke-width="2.6"/>
<ellipse cx="683" cy="434" rx="15.5" ry="12" transform="rotate(82 683 434)" fill="#fff" stroke-width="2.6"/>
<ellipse cx="683" cy="434" rx="14.4" ry="11.2" transform="rotate(82 683 434)" fill="none" stroke-width="1.0"/>
<path d="M420.5 511L433 505L437 505.5L439 509L437 514L425 520L421 518Z" fill="#fff" stroke-width="2.4"/>
<path d="M423 514L437 508" stroke-width="1.2"/>
<path d="M209 915.6L218.1 911.6A25.5 17.5 70 0 0 224.6 880.8A25.5 17.5 70 0 0 199.1 864.3L190 868.4" fill="none" stroke-width="2.8"/>
<ellipse cx="199.5" cy="892" rx="25.5" ry="17.5" transform="rotate(70 199.5 892)" fill="none" stroke-width="2.8"/>
<ellipse cx="199.5" cy="892" rx="22.9" ry="15.8" transform="rotate(70 199.5 892)" fill="none" stroke-width="1.2"/>
<ellipse cx="197.5" cy="895" rx="18" ry="13" transform="rotate(70 197.5 895)" fill="none" stroke-width="2.2"/>
<ellipse cx="200.2" cy="893.8" rx="14" ry="10.1" transform="rotate(70 200.2 893.8)" fill="none" stroke-width="1.3" stroke-dasharray="0"/>
<ellipse cx="202.4" cy="892.8" rx="10.1" ry="7.3" transform="rotate(70 202.4 892.8)" fill="none" stroke-width="1.3" stroke-dasharray="0"/>
<path d="M217.8 902.2L226.9 898.1" stroke-width="1.2"/>
<path d="M206 871.6L215.1 867.5" stroke-width="1.2"/>
<path d="M199.3 915.9L208.4 911.8" stroke-width="1.2"/>
<path d="M221.1 906.4A22.9 15.8 70 0 0 204.7 865.7" fill="none" stroke-width="1.2"/>
<path d="M238.8 919.5L244.3 917A7.5 5.2 70 0 0 246.2 907.9A7.5 5.2 70 0 0 238.7 903.1L233.2 905.5" fill="none" stroke-width="2.2"/>
<ellipse cx="236" cy="912.5" rx="7.5" ry="5.2" transform="rotate(70 236 912.5)" fill="none" stroke-width="2.2"/>
<ellipse cx="236" cy="912.5" rx="3.2" ry="2.4" transform="rotate(70 236 912.5)" fill="none" stroke-width="1.2"/>
<path d="M242.8 913L263.8 903.4L261.2 897.6L240.2 907.1" fill="none" stroke-width="2.0"/>
<path d="M248 910.6L247.3 903.9" stroke-width="1.1"/>
<path d="M250.1 909.6L249.4 903" stroke-width="1.1"/>
<path d="M252.2 908.7L251.5 902" stroke-width="1.1"/>
<path d="M254.3 907.7L253.6 901.1" stroke-width="1.1"/>
<path d="M256.4 906.8L255.7 900.1" stroke-width="1.1"/>
<path d="M258.5 905.8L257.8 899.2" stroke-width="1.1"/>
<path d="M260.6 904.9L259.9 898.2" stroke-width="1.1"/>
<path d="M286.1 899.4L290.2 897.6A41 28 69 0 0 300.2 848.3A41 28 69 0 0 259 821.8L254.9 823.6" fill="none" stroke-width="2.6"/>
<ellipse cx="270.5" cy="861.5" rx="41" ry="28" transform="rotate(69 270.5 861.5)" fill="none" stroke-width="2.6"/>
<ellipse cx="271.5" cy="862.5" rx="22" ry="15.5" transform="rotate(69 271.5 862.5)" fill="none" stroke-width="2.4"/>
<ellipse cx="271.5" cy="862.5" rx="24.2" ry="17.1" transform="rotate(69 271.5 862.5)" fill="none" stroke-width="1.0"/>
<path d="M282 840.2A31.2 21.3 69 0 0 262.2 831.6" fill="none" stroke-width="7.0"/>
<path d="M282 840.2A31.2 21.3 69 0 0 262.2 831.6" fill="none" stroke="#fff" stroke-width="3.2"/>
<path d="M248.7 845.6A31.2 21.3 69 0 0 250.5 868.8" fill="none" stroke-width="7.0"/>
<path d="M248.7 845.6A31.2 21.3 69 0 0 250.5 868.8" fill="none" stroke="#fff" stroke-width="3.2"/>
<path d="M266.6 888.9A31.2 21.3 69 0 0 282 890.5" fill="none" stroke-width="7.0"/>
<path d="M266.6 888.9A31.2 21.3 69 0 0 282 890.5" fill="none" stroke="#fff" stroke-width="3.2"/>
<path d="M351.2 874.6L352.9 874L353.3 870.6L354.7 869.7L357.4 871.1L358.8 869.9L358.6 866.3L359.8 864.9L362.5 865.5L363.5 863.9L362.7 860.1L363.6 858.4L366.2 858.2L366.8 856.1L365.5 852.5L365.9 850.4L368.3 849.4L368.5 847L366.7 843.7L366.7 841.4L368.7 839.7L368.6 837.1L366.3 834.3L366 831.9L367.5 829.4L366.9 826.9L364.4 824.6L363.6 822.2L364.6 819.2L363.6 816.7L360.9 815.2L359.9 813L360.2 809.6L358.9 807.3L356.2 806.6L354.9 804.6L354.6 800.9L353 799L350.4 799.1L348.9 797.5L348 793.7L346.2 792.2L343.9 793.2L342.2 792L340.8 788.4L338.9 787.4L336.9 789.1L335.1 788.4L333.2 785.1L331.3 784.6L329.8 787.1L328 786.9L325.7 784.1L323.9 784.2L322.9 787.2L321.3 787.5L318.8 785.4L317.1 786L316.7 789.4L315.3 790.3L312.6 788.9L311.2 790.1L311.4 793.7L310.2 795.1L307.5 794.5L306.5 796.1L307.3 799.9L306.4 801.6L303.8 801.8L303.2 803.9L304.5 807.5L304.1 809.6L301.7 810.6L301.5 813L303.3 816.3L303.3 818.6L301.3 820.3L301.4 822.9L303.7 825.7L304 828.1L302.5 830.6L303.1 833.1L305.6 835.4L306.4 837.8L305.4 840.8L306.4 843.3L309.1 844.8L310.1 847L309.8 850.4L311.1 852.7L313.8 853.4L315.1 855.4L315.4 859.1L317 861L319.6 860.9L321.1 862.5L322 866.3L323.8 867.8L326.1 866.8L327.8 868L329.2 871.6L331.1 872.6L333.1 870.9L334.9 871.6L336.8 874.9L338.7 875.4L340.2 872.9L342 873.1L344.3 875.9L346.1 875.8L347.1 872.8L348.7 872.5L351.2 874.6Z" fill="#fff" stroke-width="2.4"/>
<path d="M380 861.9L380.4 858.5L381.9 857.6L384.6 859.1L386 857.9L385.8 854.3L387 852.9L389.7 853.6L390.8 852L390 848.2L390.8 846.5L393.4 846.3L394.1 844.3L392.8 840.7L393.3 838.6L395.6 837.6L395.9 835.3L394.1 831.9L394.1 829.6L396.1 827.9L396 825.4L393.8 822.5L393.4 820.1L395 817.7L394.4 815.1L391.9 812.9L391.2 810.5L392.2 807.5L391.2 805L388.5 803.4L387.5 801.2L387.9 797.8L386.6 795.5L383.9 794.7L382.5 792.7L382.3 789.1L380.7 787.1L378.1 787.2L376.5 785.5L375.7 781.8L374 780.3L371.6 781.2L369.9 780L368.5 776.4L366.6 775.3L364.6 777L362.8 776.3L360.9 773L359.1 772.5L357.5 774.9L355.7 774.7L353.5 771.9L351.7 772L350.6 774.9L349 775.3L346.5 773.1L344.8 773.7" fill="none" stroke-width="2.4"/>
<path d="M352.6 874.1L380 861.9" stroke-width="2.4"/>
<path d="M317.4 785.9L344.8 773.7" stroke-width="2.4"/>
<path d="M356.8 869.9L384.2 857.7" stroke-width="2.6"/>
<path d="M358.6 866.3L386 854.1" stroke-width="1.1"/>
<path d="M361.7 864.5L389.1 852.3" stroke-width="2.6"/>
<path d="M362.7 860.1L390.1 847.9" stroke-width="1.1"/>
<path d="M365.2 857.3L392.6 845.1" stroke-width="2.6"/>
<path d="M365.5 852.5L392.9 840.3" stroke-width="1.1"/>
<path d="M367.3 848.8L394.7 836.6" stroke-width="2.6"/>
<path d="M366.7 843.7L394.1 831.5" stroke-width="1.1"/>
<path d="M367.7 839.4L395.1 827.2" stroke-width="2.6"/>
<path d="M366.3 834.3L393.7 822.1" stroke-width="1.1"/>
<path d="M366.5 829.4L393.9 817.2" stroke-width="2.6"/>
<path d="M364.4 824.6L391.8 812.4" stroke-width="1.1"/>
<path d="M363.7 819.5L391.1 807.3" stroke-width="2.6"/>
<path d="M360.9 815.2L388.3 803" stroke-width="1.1"/>
<path d="M359.5 810.2L386.9 798" stroke-width="2.6"/>
<path d="M356.2 806.6L383.6 794.4" stroke-width="1.1"/>
<path d="M354 801.8L381.4 789.6" stroke-width="2.6"/>
<path d="M350.4 799.1L377.8 786.9" stroke-width="1.1"/>
<path d="M347.6 794.8L375 782.6" stroke-width="2.6"/>
<path d="M343.9 793.2L371.3 781" stroke-width="1.1"/>
<path d="M340.6 789.6L368 777.4" stroke-width="2.6"/>
<path d="M336.9 789.1L364.3 776.9" stroke-width="1.1"/>
<path d="M333.3 786.5L360.7 774.3" stroke-width="2.6"/>
<path d="M329.8 787.1L357.2 774.9" stroke-width="1.1"/>
<path d="M326 785.5L353.4 773.3" stroke-width="2.6"/>
<path d="M322.9 787.2L350.3 775" stroke-width="1.1"/>
<ellipse cx="340" cy="832" rx="35" ry="24.5" transform="rotate(70 340 832)" fill="none" stroke-width="2.4"/>
<ellipse cx="340" cy="832" rx="32" ry="22" transform="rotate(70 340 832)" fill="none" stroke-width="1.0"/>
<path d="M359.4 836.3A20 13.5 70 0 0 345.7 811.5A20 13.5 70 0 0 330.6 824.8" fill="none" stroke-width="2.0"/>
<path d="M328 813.2A24 16 70 0 0 329.9 842.6" fill="none" stroke-width="1.2"/>
<ellipse cx="330.5" cy="808.9" rx="3.2" ry="2.2" transform="rotate(70 330.5 808.9)" fill="none" stroke-width="1.6"/>
<ellipse cx="325.3" cy="813.5" rx="3.2" ry="2.2" transform="rotate(70 325.3 813.5)" fill="none" stroke-width="1.6"/>
<ellipse cx="345.7" cy="858.1" rx="3.2" ry="2.2" transform="rotate(70 345.7 858.1)" fill="none" stroke-width="1.6"/>
<ellipse cx="353.1" cy="855.1" rx="3.2" ry="2.2" transform="rotate(70 353.1 855.1)" fill="none" stroke-width="1.6"/>
<ellipse cx="358" cy="847.4" rx="3.2" ry="2.2" transform="rotate(70 358 847.4)" fill="none" stroke-width="1.6"/>
<path d="M323.7 819.4A24 16 70 0 0 326.8 841.6L329.7 839.5A19 12.5 70 0 1 327.2 822Z" fill="none" stroke-width="1.8"/>
<path d="M450 822.8L454.6 820.8A36 26 70 0 0 464.8 776.9A36 26 70 0 0 427.5 754.1L423 756.2" fill="none" stroke-width="2.6"/>
<ellipse cx="436.5" cy="789.5" rx="36" ry="26" transform="rotate(70 436.5 789.5)" fill="none" stroke-width="2.6"/>
<ellipse cx="436.5" cy="789.5" rx="33.8" ry="24.4" transform="rotate(70 436.5 789.5)" fill="none" stroke-width="1.1"/>
<ellipse cx="446.4" cy="816.6" rx="3.6" ry="2.6" transform="rotate(70 446.4 816.6)" fill="none" stroke-width="2.2"/>
<ellipse cx="453.9" cy="810.8" rx="3.6" ry="2.6" transform="rotate(70 453.9 810.8)" fill="none" stroke-width="2.2"/>
<ellipse cx="457.9" cy="800.8" rx="3.6" ry="2.6" transform="rotate(70 457.9 800.8)" fill="none" stroke-width="2.2"/>
<ellipse cx="457.7" cy="788.6" rx="3.6" ry="2.6" transform="rotate(70 457.7 788.6)" fill="none" stroke-width="2.2"/>
<ellipse cx="453.4" cy="776.5" rx="3.6" ry="2.6" transform="rotate(70 453.4 776.5)" fill="none" stroke-width="2.2"/>
<ellipse cx="445.6" cy="767.1" rx="3.6" ry="2.6" transform="rotate(70 445.6 767.1)" fill="none" stroke-width="2.2"/>
<ellipse cx="436.1" cy="762" rx="3.6" ry="2.6" transform="rotate(70 436.1 762)" fill="none" stroke-width="2.2"/>
<ellipse cx="426.6" cy="762.4" rx="3.6" ry="2.6" transform="rotate(70 426.6 762.4)" fill="none" stroke-width="2.2"/>
<ellipse cx="419.1" cy="768.2" rx="3.6" ry="2.6" transform="rotate(70 419.1 768.2)" fill="none" stroke-width="2.2"/>
<ellipse cx="415.1" cy="778.2" rx="3.6" ry="2.6" transform="rotate(70 415.1 778.2)" fill="none" stroke-width="2.2"/>
<ellipse cx="415.3" cy="790.4" rx="3.6" ry="2.6" transform="rotate(70 415.3 790.4)" fill="none" stroke-width="2.2"/>
<ellipse cx="419.6" cy="802.5" rx="3.6" ry="2.6" transform="rotate(70 419.6 802.5)" fill="none" stroke-width="2.2"/>
<ellipse cx="427.4" cy="811.9" rx="3.6" ry="2.6" transform="rotate(70 427.4 811.9)" fill="none" stroke-width="2.2"/>
<ellipse cx="436.9" cy="817" rx="3.6" ry="2.6" transform="rotate(70 436.9 817)" fill="none" stroke-width="2.2"/>
<path d="M423.8 820.4L443 811.8A22 16 70 0 0 449.3 784.9A22 16 70 0 0 426.4 771.1L407.2 779.6A22 16 70 0 0 400.9 806.5A22 16 70 0 0 423.8 820.4Z" fill="#fff" stroke-width="2.6"/>
<ellipse cx="415.5" cy="800" rx="22" ry="16" transform="rotate(70 415.5 800)" fill="none" stroke-width="2.6"/>
<ellipse cx="415.5" cy="800" rx="22" ry="16" transform="rotate(70 415.5 800)" fill="none" stroke-width="2.6"/>
<ellipse cx="415.5" cy="800" rx="19.8" ry="14.4" transform="rotate(70 415.5 800)" fill="none" stroke-width="1.0"/>
<ellipse cx="416.5" cy="799" rx="16" ry="11.5" transform="rotate(70 416.5 799)" fill="none" stroke-width="1.4"/>
<path d="M414.9 813.6A16 11.5 70 0 0 427.7 796.1" fill="none" stroke-width="3.0"/>
<path d="M483.9 792.5L495.8 787.2A19.5 15 70 0 0 502.1 763.1A19.5 15 70 0 0 481 751.2L469.1 756.5A19.5 15 70 0 0 462.8 780.6A19.5 15 70 0 0 483.9 792.5Z" fill="#9b9b9b" stroke-width="2.6"/>
<ellipse cx="476.5" cy="774.5" rx="19.5" ry="15" transform="rotate(70 476.5 774.5)" fill="none" stroke-width="2.6"/>
<ellipse cx="476.5" cy="774.5" rx="19.5" ry="15" transform="rotate(70 476.5 774.5)" fill="#9b9b9b" stroke-width="2.6"/>
<ellipse cx="483" cy="773.5" rx="11" ry="8" transform="rotate(70 483 773.5)" fill="#9b9b9b" stroke-width="2.2"/>
<path d="M484.4 784.2A11 8 70 0 0 489.5 768.5" fill="none" stroke-width="3.5"/>
<path d="M245.7 875.1L276.5 861.8" stroke-width="2.2"/>
<path d="M326.4 838.5L354.7 827.7" stroke-width="2.2"/>
<path d="M399.6 808.6L422.9 798.6" stroke-width="2.2"/>
<path d="M462.8 780.3L476.1 773.6" stroke-width="2.2"/>
<path d="M502.8 762L516 755.3" stroke-width="2.2"/>
<path d="M721.1 688.3L757.6 672A24 14.9 70 0 0 762.4 643.6A24 14.9 70 0 0 740 627.4L703.5 643.7A24 14.9 70 0 0 698.7 672A24 14.9 70 0 0 721.1 688.3Z" fill="#fff" stroke-width="3.0"/>
<ellipse cx="712.3" cy="666" rx="24" ry="14.9" transform="rotate(70 712.3 666)" fill="#fff" stroke-width="3.0"/>
<path d="M721 716.5L727.4 713.6A50 27 73.5 0 0 736.2 655.3A50 27 73.5 0 0 695.4 619.1L689 621.9A50 27 73.5 0 0 680.2 680.3A50 27 73.5 0 0 721 716.5Z" fill="#fff" stroke-width="2.6"/>
<ellipse cx="705" cy="669.2" rx="50" ry="27" transform="rotate(73.5 705 669.2)" fill="#fff" stroke-width="2.6"/>
<ellipse cx="705" cy="669.2" rx="47" ry="25.4" transform="rotate(73.5 705 669.2)" fill="none" stroke-width="1.0"/>
<ellipse cx="721.2" cy="702.1" rx="5.8" ry="4" transform="rotate(73.5 721.2 702.1)" fill="none" stroke-width="2.4"/>
<ellipse cx="726.8" cy="686" rx="5.8" ry="4" transform="rotate(73.5 726.8 686)" fill="none" stroke-width="2.4"/>
<ellipse cx="724.1" cy="663.5" rx="5.8" ry="4" transform="rotate(73.5 724.1 663.5)" fill="none" stroke-width="2.4"/>
<ellipse cx="714.1" cy="643.2" rx="5.8" ry="4" transform="rotate(73.5 714.1 643.2)" fill="none" stroke-width="2.4"/>
<ellipse cx="700.6" cy="632.8" rx="5.8" ry="4" transform="rotate(73.5 700.6 632.8)" fill="none" stroke-width="2.4"/>
<ellipse cx="688.8" cy="636.3" rx="5.8" ry="4" transform="rotate(73.5 688.8 636.3)" fill="none" stroke-width="2.4"/>
<ellipse cx="683.1" cy="652.4" rx="5.8" ry="4" transform="rotate(73.5 683.1 652.4)" fill="none" stroke-width="2.4"/>
<ellipse cx="685.8" cy="674.9" rx="5.8" ry="4" transform="rotate(73.5 685.8 674.9)" fill="none" stroke-width="2.4"/>
<ellipse cx="695.8" cy="695.2" rx="5.8" ry="4" transform="rotate(73.5 695.8 695.2)" fill="none" stroke-width="2.4"/>
<ellipse cx="709.3" cy="705.6" rx="5.8" ry="4" transform="rotate(73.5 709.3 705.6)" fill="none" stroke-width="2.4"/>
<path d="M695.1 704.2L706.1 699.3A28 16.8 70 0 0 711.2 666.4A28 16.8 70 0 0 685.6 647.2L674.6 652.1A28 16.8 70 0 0 669.5 685A28 16.8 70 0 0 695.1 704.2Z" fill="#fff" stroke-width="2.6"/>
<ellipse cx="684.9" cy="678.2" rx="28" ry="16.8" transform="rotate(70 684.9 678.2)" fill="#fff" stroke-width="2.6"/>
<ellipse cx="684.9" cy="678.2" rx="25.2" ry="15.1" transform="rotate(70 684.9 678.2)" fill="none" stroke-width="1.0"/>
<path d="M630.5 725.3L694.4 696.9A21 13 70 0 0 698.6 672.1A21 13 70 0 0 679 657.8L615.1 686.3A21 13 70 0 0 610.8 711.1A21 13 70 0 0 630.5 725.3Z" fill="#fff" stroke-width="3.0"/>
<ellipse cx="622.8" cy="705.8" rx="21" ry="13" transform="rotate(70 622.8 705.8)" fill="#fff" stroke-width="3.0"/>
<path d="M634.3 730.2L643.5 726.1A27 14.9 70 0 0 647.3 694.9A27 14.9 70 0 0 624 675.8L614.8 679.9A27 14.9 70 0 0 611 711.1A27 14.9 70 0 0 634.3 730.2Z" fill="#fff" stroke-width="2.8"/>
<ellipse cx="624.6" cy="705" rx="27" ry="14.9" transform="rotate(70 624.6 705)" fill="#fff" stroke-width="2.8"/>
<path d="M627.8 758L634.2 755.1A50 27 73.5 0 0 643 696.8A50 27 73.5 0 0 602.2 660.6L595.8 663.4A50 27 73.5 0 0 587 721.8A50 27 73.5 0 0 627.8 758Z" fill="#fff" stroke-width="2.6"/>
<ellipse cx="611.8" cy="710.7" rx="50" ry="27" transform="rotate(73.5 611.8 710.7)" fill="#fff" stroke-width="2.6"/>
<ellipse cx="611.8" cy="710.7" rx="47" ry="25.4" transform="rotate(73.5 611.8 710.7)" fill="none" stroke-width="1.0"/>
<ellipse cx="628" cy="743.6" rx="5.8" ry="4" transform="rotate(73.5 628 743.6)" fill="none" stroke-width="2.4"/>
<ellipse cx="633.6" cy="727.5" rx="5.8" ry="4" transform="rotate(73.5 633.6 727.5)" fill="none" stroke-width="2.4"/>
<ellipse cx="631" cy="705" rx="5.8" ry="4" transform="rotate(73.5 631 705)" fill="none" stroke-width="2.4"/>
<ellipse cx="620.9" cy="684.7" rx="5.8" ry="4" transform="rotate(73.5 620.9 684.7)" fill="none" stroke-width="2.4"/>
<ellipse cx="607.5" cy="674.3" rx="5.8" ry="4" transform="rotate(73.5 607.5 674.3)" fill="none" stroke-width="2.4"/>
<ellipse cx="595.6" cy="677.8" rx="5.8" ry="4" transform="rotate(73.5 595.6 677.8)" fill="none" stroke-width="2.4"/>
<ellipse cx="590" cy="693.9" rx="5.8" ry="4" transform="rotate(73.5 590 693.9)" fill="none" stroke-width="2.4"/>
<ellipse cx="592.6" cy="716.4" rx="5.8" ry="4" transform="rotate(73.5 592.6 716.4)" fill="none" stroke-width="2.4"/>
<ellipse cx="602.6" cy="736.7" rx="5.8" ry="4" transform="rotate(73.5 602.6 736.7)" fill="none" stroke-width="2.4"/>
<ellipse cx="616.1" cy="747.1" rx="5.8" ry="4" transform="rotate(73.5 616.1 747.1)" fill="none" stroke-width="2.4"/>
<path d="M587.2 749L608.2 739.6A25 15.5 70 0 0 613.2 710.1A25 15.5 70 0 0 589.8 693.2L568.8 702.5A25 15.5 70 0 0 563.8 732.1A25 15.5 70 0 0 587.2 749Z" fill="#fff" stroke-width="2.4"/>
<ellipse cx="578" cy="725.8" rx="25" ry="15.5" transform="rotate(70 578 725.8)" fill="#fff" stroke-width="2.4"/>
<ellipse cx="578" cy="725.8" rx="22.5" ry="14" transform="rotate(70 578 725.8)" fill="none" stroke-width="1.0"/>
<path d="M578.8 749.5L587.9 745.4A22 13.6 70 0 0 592.3 719.4A22 13.6 70 0 0 571.7 704.5L562.6 708.6A22 13.6 70 0 0 558.2 734.6A22 13.6 70 0 0 578.8 749.5Z" fill="#fff" stroke-width="2.2"/>
<ellipse cx="570.7" cy="729" rx="22" ry="13.6" transform="rotate(70 570.7 729)" fill="#fff" stroke-width="2.2"/>
<path d="M575.1 756.5L580.6 754.1A27 16.7 70 0 0 586 722.2A27 16.7 70 0 0 560.8 703.9L555.3 706.3A27 16.7 70 0 0 549.9 738.3A27 16.7 70 0 0 575.1 756.5Z" fill="#fff" stroke-width="2.6"/>
<ellipse cx="565.2" cy="731.4" rx="27" ry="16.7" transform="rotate(70 565.2 731.4)" fill="#fff" stroke-width="2.6"/>
<ellipse cx="565.2" cy="731.4" rx="24.8" ry="15.4" transform="rotate(70 565.2 731.4)" fill="none" stroke-width="1.0"/>
<path d="M564.1 756L573.3 751.9A22 13.6 70 0 0 577.7 725.9A22 13.6 70 0 0 557.1 711L548 715.1A22 13.6 70 0 0 543.6 741.1A22 13.6 70 0 0 564.1 756Z" fill="#fff" stroke-width="2.2"/>
<ellipse cx="556.1" cy="735.5" rx="22" ry="13.6" transform="rotate(70 556.1 735.5)" fill="#fff" stroke-width="2.2"/>
<path d="M558.3 757.5L563.8 755A21 13 70 0 0 568 730.2A21 13 70 0 0 548.4 716L542.9 718.4A21 13 70 0 0 538.7 743.3A21 13 70 0 0 558.3 757.5Z" fill="#fff" stroke-width="2.4"/>
<ellipse cx="550.6" cy="738" rx="21" ry="13" transform="rotate(70 550.6 738)" fill="#fff" stroke-width="2.4"/>
<ellipse cx="550.6" cy="738" rx="18.9" ry="11.7" transform="rotate(70 550.6 738)" fill="none" stroke-width="1.0"/>
<path d="M533.4 765.3L559 753.9A18 11.2 70 0 0 562.6 732.6A18 11.2 70 0 0 545.8 720.4L520.2 731.8A18 11.2 70 0 0 516.6 753.1A18 11.2 70 0 0 533.4 765.3Z" fill="#fff" stroke-width="2.2"/>
<ellipse cx="526.8" cy="748.5" rx="18" ry="11.2" transform="rotate(70 526.8 748.5)" fill="#fff" stroke-width="2.2"/>
<path d="M533.5 742.9L551.8 734.8" stroke-width="1.8"/>
<path d="M535.5 747.9L553.8 739.8" stroke-width="1.8"/>
<path d="M524.7 764.8L539.3 758.3A14 8.7 70 0 0 542.1 741.7A14 8.7 70 0 0 529 732.3L514.4 738.8A14 8.7 70 0 0 511.6 755.3A14 8.7 70 0 0 524.7 764.8Z" fill="#fff" stroke-width="2.0"/>
<ellipse cx="519.5" cy="751.8" rx="14" ry="8.7" transform="rotate(70 519.5 751.8)" fill="#fff" stroke-width="2.0"/>
<path d="M513.9 757.8A14 8.7 70 0 0 526.4 763.9A14 8.7 70 0 0 528.5 748" fill="none" stroke-width="1.0"/>
<path d="M515.9 756.9A14 8.7 70 0 0 528.4 763A14 8.7 70 0 0 530.5 747.1" fill="none" stroke-width="1.0"/>
<path d="M517.9 756A14 8.7 70 0 0 530.4 762.2A14 8.7 70 0 0 532.5 746.2" fill="none" stroke-width="1.0"/>
<path d="M519.9 755.1A14 8.7 70 0 0 532.4 761.3A14 8.7 70 0 0 534.5 745.3" fill="none" stroke-width="1.0"/>
<path d="M521.9 754.2A14 8.7 70 0 0 534.4 760.4A14 8.7 70 0 0 536.5 744.4" fill="none" stroke-width="1.0"/>
<path d="M523.9 753.3A14 8.7 70 0 0 536.4 759.5A14 8.7 70 0 0 538.5 743.6" fill="none" stroke-width="1.0"/>
<path d="M525.9 752.4A14 8.7 70 0 0 538.5 758.6A14 8.7 70 0 0 540.5 742.7" fill="none" stroke-width="1.0"/>
<ellipse cx="519.5" cy="751.8" rx="9" ry="5.6" transform="rotate(70 519.5 751.8)" fill="none" stroke-width="1.5"/>
<path d="M527.4 746.7A17 11.2 70 0 0 506.7 742.3A17 11.2 70 0 0 519.2 768.9" fill="none" stroke-width="2.6"/>
<path d="M524.2 745.6A13.6 9 70 0 0 508.9 744.4A13.6 9 70 0 0 516.9 765" fill="none" stroke-width="1.4"/>
<path d="M782.7 650.6L785 649.6A15.5 12 82 0 0 791.4 630A15.5 12 82 0 0 775.6 620.4L773.3 621.4A15.5 12 82 0 0 766.9 641A15.5 12 82 0 0 782.7 650.6Z" fill="#fff" stroke-width="2.6"/>
<ellipse cx="778" cy="636" rx="15.5" ry="12" transform="rotate(82 778 636)" fill="#fff" stroke-width="2.6"/>
<ellipse cx="778" cy="636" rx="14.4" ry="11.2" transform="rotate(82 778 636)" fill="none" stroke-width="1.0"/>
<path d="M515.5 713L528 707L532 707.5L534 711L532 716L520 722L516 720Z" fill="#fff" stroke-width="2.4"/>
<path d="M518 716L532 710" stroke-width="1.2"/>
<path d="M484 1205.6L493.1 1201.6A25.5 17.5 70 0 0 499.6 1170.8A25.5 17.5 70 0 0 474.1 1154.3L465 1158.4" fill="none" stroke-width="2.8"/>
<ellipse cx="474.5" cy="1182" rx="25.5" ry="17.5" transform="rotate(70 474.5 1182)" fill="none" stroke-width="2.8"/>
<ellipse cx="474.5" cy="1182" rx="22.9" ry="15.8" transform="rotate(70 474.5 1182)" fill="none" stroke-width="1.2"/>
<ellipse cx="472.5" cy="1185" rx="18" ry="13" transform="rotate(70 472.5 1185)" fill="none" stroke-width="2.2"/>
<ellipse cx="475.2" cy="1183.8" rx="14" ry="10.1" transform="rotate(70 475.2 1183.8)" fill="none" stroke-width="1.3" stroke-dasharray="0"/>
<ellipse cx="477.4" cy="1182.8" rx="10.1" ry="7.3" transform="rotate(70 477.4 1182.8)" fill="none" stroke-width="1.3" stroke-dasharray="0"/>
<path d="M492.8 1192.2L501.9 1188.1" stroke-width="1.2"/>
<path d="M481 1161.6L490.1 1157.5" stroke-width="1.2"/>
<path d="M474.3 1205.9L483.4 1201.8" stroke-width="1.2"/>
<path d="M496.1 1196.4A22.9 15.8 70 0 0 479.7 1155.7" fill="none" stroke-width="1.2"/>
<path d="M513.8 1209.5L519.3 1207A7.5 5.2 70 0 0 521.2 1197.9A7.5 5.2 70 0 0 513.7 1193.1L508.2 1195.5" fill="none" stroke-width="2.2"/>
<ellipse cx="511" cy="1202.5" rx="7.5" ry="5.2" transform="rotate(70 511 1202.5)" fill="none" stroke-width="2.2"/>
<ellipse cx="511" cy="1202.5" rx="3.2" ry="2.4" transform="rotate(70 511 1202.5)" fill="none" stroke-width="1.2"/>
<path d="M517.8 1203L538.8 1193.4L536.2 1187.6L515.2 1197.1" fill="none" stroke-width="2.0"/>
<path d="M523 1200.6L522.3 1193.9" stroke-width="1.1"/>
<path d="M525.1 1199.6L524.4 1193" stroke-width="1.1"/>
<path d="M527.2 1198.7L526.5 1192" stroke-width="1.1"/>
<path d="M529.3 1197.7L528.6 1191.1" stroke-width="1.1"/>
<path d="M531.4 1196.8L530.7 1190.1" stroke-width="1.1"/>
<path d="M533.5 1195.8L532.8 1189.2" stroke-width="1.1"/>
<path d="M535.6 1194.9L534.9 1188.2" stroke-width="1.1"/>
<path d="M561.1 1189.4L565.2 1187.6A41 28 69 0 0 575.2 1138.3A41 28 69 0 0 534 1111.8L529.9 1113.6" fill="none" stroke-width="2.6"/>
<ellipse cx="545.5" cy="1151.5" rx="41" ry="28" transform="rotate(69 545.5 1151.5)" fill="none" stroke-width="2.6"/>
<ellipse cx="546.5" cy="1152.5" rx="22" ry="15.5" transform="rotate(69 546.5 1152.5)" fill="none" stroke-width="2.4"/>
<ellipse cx="546.5" cy="1152.5" rx="24.2" ry="17.1" transform="rotate(69 546.5 1152.5)" fill="none" stroke-width="1.0"/>
<path d="M557 1130.2A31.2 21.3 69 0 0 537.2 1121.6" fill="none" stroke-width="7.0"/>
<path d="M557 1130.2A31.2 21.3 69 0 0 537.2 1121.6" fill="none" stroke="#fff" stroke-width="3.2"/>
<path d="M523.7 1135.6A31.2 21.3 69 0 0 525.5 1158.8" fill="none" stroke-width="7.0"/>
<path d="M523.7 1135.6A31.2 21.3 69 0 0 525.5 1158.8" fill="none" stroke="#fff" stroke-width="3.2"/>
<path d="M541.6 1178.9A31.2 21.3 69 0 0 557 1180.5" fill="none" stroke-width="7.0"/>
<path d="M541.6 1178.9A31.2 21.3 69 0 0 557 1180.5" fill="none" stroke="#fff" stroke-width="3.2"/>
<path d="M626.2 1164.6L627.9 1164L628.3 1160.6L629.7 1159.7L632.4 1161.1L633.8 1159.9L633.6 1156.3L634.8 1154.9L637.5 1155.5L638.5 1153.9L637.7 1150.1L638.6 1148.4L641.2 1148.2L641.8 1146.1L640.5 1142.5L640.9 1140.4L643.3 1139.4L643.5 1137L641.7 1133.7L641.7 1131.4L643.7 1129.7L643.6 1127.1L641.3 1124.3L641 1121.9L642.5 1119.4L641.9 1116.9L639.4 1114.6L638.6 1112.2L639.6 1109.2L638.6 1106.7L635.9 1105.2L634.9 1103L635.2 1099.6L633.9 1097.3L631.2 1096.6L629.9 1094.6L629.6 1090.9L628 1089L625.4 1089.1L623.9 1087.5L623 1083.7L621.2 1082.2L618.9 1083.2L617.2 1082L615.8 1078.4L613.9 1077.4L611.9 1079.1L610.1 1078.4L608.2 1075.1L606.3 1074.6L604.8 1077.1L603 1076.9L600.7 1074.1L598.9 1074.2L597.9 1077.2L596.3 1077.5L593.8 1075.4L592.1 1076L591.7 1079.4L590.3 1080.3L587.6 1078.9L586.2 1080.1L586.4 1083.7L585.2 1085.1L582.5 1084.5L581.5 1086.1L582.3 1089.9L581.4 1091.6L578.8 1091.8L578.2 1093.9L579.5 1097.5L579.1 1099.6L576.7 1100.6L576.5 1103L578.3 1106.3L578.3 1108.6L576.3 1110.3L576.4 1112.9L578.7 1115.7L579 1118.1L577.5 1120.6L578.1 1123.1L580.6 1125.4L581.4 1127.8L580.4 1130.8L581.4 1133.3L584.1 1134.8L585.1 1137L584.8 1140.4L586.1 1142.7L588.8 1143.4L590.1 1145.4L590.4 1149.1L592 1151L594.6 1150.9L596.1 1152.5L597 1156.3L598.8 1157.8L601.1 1156.8L602.8 1158L604.2 1161.6L606.1 1162.6L608.1 1160.9L609.9 1161.6L611.8 1164.9L613.7 1165.4L615.2 1162.9L617 1163.1L619.3 1165.9L621.1 1165.8L622.1 1162.8L623.7 1162.5L626.2 1164.6Z" fill="#fff" stroke-width="2.4"/>
<path d="M655 1151.9L655.4 1148.5L656.9 1147.6L659.6 1149.1L661 1147.9L660.8 1144.3L662 1142.9L664.7 1143.6L665.8 1142L665 1138.2L665.8 1136.5L668.4 1136.3L669.1 1134.3L667.8 1130.7L668.3 1128.6L670.6 1127.6L670.9 1125.3L669.1 1121.9L669.1 1119.6L671.1 1117.9L671 1115.4L668.8 1112.5L668.4 1110.1L670 1107.7L669.4 1105.1L666.9 1102.9L666.2 1100.5L667.2 1097.5L666.2 1095L663.5 1093.4L662.5 1091.2L662.9 1087.8L661.6 1085.5L658.9 1084.7L657.5 1082.7L657.3 1079.1L655.7 1077.1L653.1 1077.2L651.5 1075.5L650.7 1071.8L649 1070.3L646.6 1071.2L644.9 1070L643.5 1066.4L641.6 1065.3L639.6 1067L637.8 1066.3L635.9 1063L634.1 1062.5L632.5 1064.9L630.7 1064.7L628.5 1061.9L626.7 1062L625.6 1064.9L624 1065.3L621.5 1063.1L619.8 1063.7" fill="none" stroke-width="2.4"/>
<path d="M627.6 1164.1L655 1151.9" stroke-width="2.4"/>
<path d="M592.4 1075.9L619.8 1063.7" stroke-width="2.4"/>
<path d="M631.8 1159.9L659.2 1147.7" stroke-width="2.6"/>
<path d="M633.6 1156.3L661 1144.1" stroke-width="1.1"/>
<path d="M636.7 1154.5L664.1 1142.3" stroke-width="2.6"/>
<path d="M637.7 1150.1L665.1 1137.9" stroke-width="1.1"/>
<path d="M640.2 1147.3L667.6 1135.1" stroke-width="2.6"/>
<path d="M640.5 1142.5L667.9 1130.3" stroke-width="1.1"/>
<path d="M642.3 1138.8L669.7 1126.6" stroke-width="2.6"/>
<path d="M641.7 1133.7L669.1 1121.5" stroke-width="1.1"/>
<path d="M642.7 1129.4L670.1 1117.2" stroke-width="2.6"/>
<path d="M641.3 1124.3L668.7 1112.1" stroke-width="1.1"/>
<path d="M641.5 1119.4L668.9 1107.2" stroke-width="2.6"/>
<path d="M639.4 1114.6L666.8 1102.4" stroke-width="1.1"/>
<path d="M638.7 1109.5L666.1 1097.3" stroke-width="2.6"/>
<path d="M635.9 1105.2L663.3 1093" stroke-width="1.1"/>
<path d="M634.5 1100.2L661.9 1088" stroke-width="2.6"/>
<path d="M631.2 1096.6L658.6 1084.4" stroke-width="1.1"/>
<path d="M629 1091.8L656.4 1079.6" stroke-width="2.6"/>
<path d="M625.4 1089.1L652.8 1076.9" stroke-width="1.1"/>
<path d="M622.6 1084.8L650 1072.6" stroke-width="2.6"/>
<path d="M618.9 1083.2L646.3 1071" stroke-width="1.1"/>
<path d="M615.6 1079.6L643 1067.4" stroke-width="2.6"/>
<path d="M611.9 1079.1L639.3 1066.9" stroke-width="1.1"/>
<path d="M608.3 1076.5L635.7 1064.3" stroke-width="2.6"/>
<path d="M604.8 1077.1L632.2 1064.9" stroke-width="1.1"/>
<path d="M601 1075.5L628.4 1063.3" stroke-width="2.6"/>
<path d="M597.9 1077.2L625.3 1065" stroke-width="1.1"/>
<ellipse cx="615" cy="1122" rx="35" ry="24.5" transform="rotate(70 615 1122)" fill="none" stroke-width="2.4"/>
<ellipse cx="615" cy="1122" rx="32" ry="22" transform="rotate(70 615 1122)" fill="none" stroke-width="1.0"/>
<path d="M634.4 1126.3A20 13.5 70 0 0 620.7 1101.5A20 13.5 70 0 0 605.6 1114.8" fill="none" stroke-width="2.0"/>
<path d="M603 1103.2A24 16 70 0 0 604.9 1132.6" fill="none" stroke-width="1.2"/>
<ellipse cx="605.5" cy="1098.9" rx="3.2" ry="2.2" transform="rotate(70 605.5 1098.9)" fill="none" stroke-width="1.6"/>
<ellipse cx="600.3" cy="1103.5" rx="3.2" ry="2.2" transform="rotate(70 600.3 1103.5)" fill="none" stroke-width="1.6"/>
<ellipse cx="620.7" cy="1148.1" rx="3.2" ry="2.2" transform="rotate(70 620.7 1148.1)" fill="none" stroke-width="1.6"/>
<ellipse cx="628.1" cy="1145.1" rx="3.2" ry="2.2" transform="rotate(70 628.1 1145.1)" fill="none" stroke-width="1.6"/>
<ellipse cx="633" cy="1137.4" rx="3.2" ry="2.2" transform="rotate(70 633 1137.4)" fill="none" stroke-width="1.6"/>
<path d="M598.7 1109.4A24 16 70 0 0 601.8 1131.6L604.7 1129.5A19 12.5 70 0 1 602.2 1112Z" fill="none" stroke-width="1.8"/>
<path d="M725 1112.8L729.6 1110.8A36 26 70 0 0 739.8 1066.9A36 26 70 0 0 702.5 1044.1L698 1046.2" fill="none" stroke-width="2.6"/>
<ellipse cx="711.5" cy="1079.5" rx="36" ry="26" transform="rotate(70 711.5 1079.5)" fill="none" stroke-width="2.6"/>
<ellipse cx="711.5" cy="1079.5" rx="33.8" ry="24.4" transform="rotate(70 711.5 1079.5)" fill="none" stroke-width="1.1"/>
<ellipse cx="721.4" cy="1106.6" rx="3.6" ry="2.6" transform="rotate(70 721.4 1106.6)" fill="none" stroke-width="2.2"/>
<ellipse cx="728.9" cy="1100.8" rx="3.6" ry="2.6" transform="rotate(70 728.9 1100.8)" fill="none" stroke-width="2.2"/>
<ellipse cx="732.9" cy="1090.8" rx="3.6" ry="2.6" transform="rotate(70 732.9 1090.8)" fill="none" stroke-width="2.2"/>
<ellipse cx="732.7" cy="1078.6" rx="3.6" ry="2.6" transform="rotate(70 732.7 1078.6)" fill="none" stroke-width="2.2"/>
<ellipse cx="728.4" cy="1066.5" rx="3.6" ry="2.6" transform="rotate(70 728.4 1066.5)" fill="none" stroke-width="2.2"/>
<ellipse cx="720.6" cy="1057.1" rx="3.6" ry="2.6" transform="rotate(70 720.6 1057.1)" fill="none" stroke-width="2.2"/>
<ellipse cx="711.1" cy="1052" rx="3.6" ry="2.6" transform="rotate(70 711.1 1052)" fill="none" stroke-width="2.2"/>
<ellipse cx="701.6" cy="1052.4" rx="3.6" ry="2.6" transform="rotate(70 701.6 1052.4)" fill="none" stroke-width="2.2"/>
<ellipse cx="694.1" cy="1058.2" rx="3.6" ry="2.6" transform="rotate(70 694.1 1058.2)" fill="none" stroke-width="2.2"/>
<ellipse cx="690.1" cy="1068.2" rx="3.6" ry="2.6" transform="rotate(70 690.1 1068.2)" fill="none" stroke-width="2.2"/>
<ellipse cx="690.3" cy="1080.4" rx="3.6" ry="2.6" transform="rotate(70 690.3 1080.4)" fill="none" stroke-width="2.2"/>
<ellipse cx="694.6" cy="1092.5" rx="3.6" ry="2.6" transform="rotate(70 694.6 1092.5)" fill="none" stroke-width="2.2"/>
<ellipse cx="702.4" cy="1101.9" rx="3.6" ry="2.6" transform="rotate(70 702.4 1101.9)" fill="none" stroke-width="2.2"/>
<ellipse cx="711.9" cy="1107" rx="3.6" ry="2.6" transform="rotate(70 711.9 1107)" fill="none" stroke-width="2.2"/>
<path d="M698.8 1110.4L718 1101.8A22 16 70 0 0 724.3 1074.9A22 16 70 0 0 701.4 1061.1L682.2 1069.6A22 16 70 0 0 675.9 1096.5A22 16 70 0 0 698.8 1110.4Z" fill="#fff" stroke-width="2.6"/>
<ellipse cx="690.5" cy="1090" rx="22" ry="16" transform="rotate(70 690.5 1090)" fill="none" stroke-width="2.6"/>
<ellipse cx="690.5" cy="1090" rx="22" ry="16" transform="rotate(70 690.5 1090)" fill="none" stroke-width="2.6"/>
<ellipse cx="690.5" cy="1090" rx="19.8" ry="14.4" transform="rotate(70 690.5 1090)" fill="none" stroke-width="1.0"/>
<ellipse cx="691.5" cy="1089" rx="16" ry="11.5" transform="rotate(70 691.5 1089)" fill="none" stroke-width="1.4"/>
<path d="M689.9 1103.6A16 11.5 70 0 0 702.7 1086.1" fill="none" stroke-width="3.0"/>
<path d="M758.9 1082.5L770.8 1077.2A19.5 15 70 0 0 777.1 1053.1A19.5 15 70 0 0 756 1041.2L744.1 1046.5A19.5 15 70 0 0 737.8 1070.6A19.5 15 70 0 0 758.9 1082.5Z" fill="#9b9b9b" stroke-width="2.6"/>
<ellipse cx="751.5" cy="1064.5" rx="19.5" ry="15" transform="rotate(70 751.5 1064.5)" fill="none" stroke-width="2.6"/>
<ellipse cx="751.5" cy="1064.5" rx="19.5" ry="15" transform="rotate(70 751.5 1064.5)" fill="#9b9b9b" stroke-width="2.6"/>
<ellipse cx="758" cy="1063.5" rx="11" ry="8" transform="rotate(70 758 1063.5)" fill="#9b9b9b" stroke-width="2.2"/>
<path d="M759.4 1074.2A11 8 70 0 0 764.5 1058.5" fill="none" stroke-width="3.5"/>
<path d="M520.7 1165.1L551.5 1151.8" stroke-width="2.2"/>
<path d="M601.4 1128.5L629.7 1117.7" stroke-width="2.2"/>
<path d="M674.6 1098.6L697.9 1088.6" stroke-width="2.2"/>
<path d="M737.8 1070.3L751.1 1063.6" stroke-width="2.2"/>
<path d="M777.8 1052L791 1045.3" stroke-width="2.2"/>
<path d="M982.4 984.4L1018.9 968.1A24 14.9 70 0 0 1023.7 939.7A24 14.9 70 0 0 1001.3 923.5L964.8 939.8A24 14.9 70 0 0 960 968.1A24 14.9 70 0 0 982.4 984.4Z" fill="#fff" stroke-width="3.0"/>
<ellipse cx="973.6" cy="962.1" rx="24" ry="14.9" transform="rotate(70 973.6 962.1)" fill="#fff" stroke-width="3.0"/>
<path d="M982.4 1011.5L988.8 1008.6A49 28 73 0 0 998.4 951A49 28 73 0 0 956.5 916.3L950.1 919.1A49 28 73 0 0 940.6 976.8A49 28 73 0 0 982.4 1011.5Z" fill="#fff" stroke-width="2.6"/>
<ellipse cx="966.3" cy="965.3" rx="49" ry="28" transform="rotate(73 966.3 965.3)" fill="#fff" stroke-width="2.6"/>
<ellipse cx="966.3" cy="965.3" rx="45.6" ry="26" transform="rotate(73 966.3 965.3)" fill="none" stroke-width="1.0"/>
<ellipse cx="951.3" cy="931.3" rx="6.2" ry="4.3" transform="rotate(73 951.3 931.3)" fill="none" stroke-width="2.4"/>
<ellipse cx="963.3" cy="932.3" rx="6.2" ry="4.3" transform="rotate(73 963.3 932.3)" fill="none" stroke-width="2.4"/>
<ellipse cx="967.3" cy="996.3" rx="6.2" ry="4.3" transform="rotate(73 967.3 996.3)" fill="none" stroke-width="2.4"/>
<ellipse cx="979.3" cy="1000.3" rx="6.2" ry="4.3" transform="rotate(73 979.3 1000.3)" fill="none" stroke-width="2.4"/>
<path d="M956.4 1000.3L967.4 995.4A28 16.8 70 0 0 972.5 962.5A28 16.8 70 0 0 946.9 943.3L935.9 948.2A28 16.8 70 0 0 930.8 981.1A28 16.8 70 0 0 956.4 1000.3Z" fill="#fff" stroke-width="2.6"/>
<ellipse cx="946.2" cy="974.3" rx="28" ry="16.8" transform="rotate(70 946.2 974.3)" fill="#fff" stroke-width="2.6"/>
<ellipse cx="946.2" cy="974.3" rx="25.2" ry="15.1" transform="rotate(70 946.2 974.3)" fill="none" stroke-width="1.0"/>
<path d="M891.8 1021.4L955.7 993A21 13 70 0 0 959.9 968.2A21 13 70 0 0 940.3 953.9L876.3 982.4A21 13 70 0 0 872.1 1007.2A21 13 70 0 0 891.8 1021.4Z" fill="#fff" stroke-width="3.0"/>
<ellipse cx="884.1" cy="1001.9" rx="21" ry="13" transform="rotate(70 884.1 1001.9)" fill="#fff" stroke-width="3.0"/>
<path d="M895.6 1026.3L904.8 1022.2A27 14.9 70 0 0 908.6 991A27 14.9 70 0 0 885.3 971.9L876.1 976A27 14.9 70 0 0 872.3 1007.2A27 14.9 70 0 0 895.6 1026.3Z" fill="#fff" stroke-width="2.8"/>
<ellipse cx="885.9" cy="1001.1" rx="27" ry="14.9" transform="rotate(70 885.9 1001.1)" fill="#fff" stroke-width="2.8"/>
<path d="M889.3 1053L895.7 1050.1A49 28 73 0 0 905.2 992.5A49 28 73 0 0 863.3 957.8L856.9 960.6A49 28 73 0 0 847.4 1018.3A49 28 73 0 0 889.3 1053Z" fill="#fff" stroke-width="2.6"/>
<ellipse cx="873.1" cy="1006.8" rx="49" ry="28" transform="rotate(73 873.1 1006.8)" fill="#fff" stroke-width="2.6"/>
<ellipse cx="873.1" cy="1006.8" rx="45.6" ry="26" transform="rotate(73 873.1 1006.8)" fill="none" stroke-width="1.0"/>
<ellipse cx="853.1" cy="976.8" rx="6.2" ry="4.3" transform="rotate(73 853.1 976.8)" fill="none" stroke-width="2.4"/>
<ellipse cx="868.1" cy="974.8" rx="6.2" ry="4.3" transform="rotate(73 868.1 974.8)" fill="none" stroke-width="2.4"/>
<ellipse cx="851.1" cy="987.8" rx="6.2" ry="4.3" transform="rotate(73 851.1 987.8)" fill="none" stroke-width="2.4"/>
<ellipse cx="872.1" cy="1037.8" rx="6.2" ry="4.3" transform="rotate(73 872.1 1037.8)" fill="none" stroke-width="2.4"/>
<ellipse cx="886.1" cy="1042.8" rx="6.2" ry="4.3" transform="rotate(73 886.1 1042.8)" fill="none" stroke-width="2.4"/>
<path d="M862.2 1039L869.5 1035.7A25 15.5 70 0 0 874.5 1006.2A25 15.5 70 0 0 851.1 989.3L843.8 992.5A25 15.5 70 0 0 838.8 1022.1A25 15.5 70 0 0 862.2 1039Z" fill="#fff" stroke-width="2.4"/>
<ellipse cx="853" cy="1015.8" rx="25" ry="15.5" transform="rotate(70 853 1015.8)" fill="#fff" stroke-width="2.4"/>
<ellipse cx="853" cy="1015.8" rx="22.5" ry="14" transform="rotate(70 853 1015.8)" fill="none" stroke-width="1.0"/>
<path d="M853.8 1039.5L862.9 1035.4A22 13.6 70 0 0 867.3 1009.4A22 13.6 70 0 0 846.7 994.5L837.6 998.6A22 13.6 70 0 0 833.2 1024.6A22 13.6 70 0 0 853.8 1039.5Z" fill="#fff" stroke-width="2.2"/>
<ellipse cx="845.7" cy="1019" rx="22" ry="13.6" transform="rotate(70 845.7 1019)" fill="#fff" stroke-width="2.2"/>
<path d="M850.1 1046.5L855.6 1044.1A27 16.7 70 0 0 861 1012.2A27 16.7 70 0 0 835.8 993.9L830.3 996.3A27 16.7 70 0 0 824.9 1028.3A27 16.7 70 0 0 850.1 1046.5Z" fill="#fff" stroke-width="2.6"/>
<ellipse cx="840.2" cy="1021.4" rx="27" ry="16.7" transform="rotate(70 840.2 1021.4)" fill="#fff" stroke-width="2.6"/>
<ellipse cx="840.2" cy="1021.4" rx="24.8" ry="15.4" transform="rotate(70 840.2 1021.4)" fill="none" stroke-width="1.0"/>
<path d="M839.1 1046L848.3 1041.9A22 13.6 70 0 0 852.7 1015.9A22 13.6 70 0 0 832.1 1001L823 1005.1A22 13.6 70 0 0 818.6 1031.1A22 13.6 70 0 0 839.1 1046Z" fill="#fff" stroke-width="2.2"/>
<ellipse cx="831.1" cy="1025.5" rx="22" ry="13.6" transform="rotate(70 831.1 1025.5)" fill="#fff" stroke-width="2.2"/>
<path d="M833.3 1047.5L838.8 1045A21 13 70 0 0 843 1020.2A21 13 70 0 0 823.4 1006L817.9 1008.4A21 13 70 0 0 813.7 1033.3A21 13 70 0 0 833.3 1047.5Z" fill="#fff" stroke-width="2.4"/>
<ellipse cx="825.6" cy="1028" rx="21" ry="13" transform="rotate(70 825.6 1028)" fill="#fff" stroke-width="2.4"/>
<ellipse cx="825.6" cy="1028" rx="18.9" ry="11.7" transform="rotate(70 825.6 1028)" fill="none" stroke-width="1.0"/>
<path d="M808.4 1055.3L834 1043.9A18 11.2 70 0 0 837.6 1022.6A18 11.2 70 0 0 820.8 1010.4L795.2 1021.8A18 11.2 70 0 0 791.6 1043.1A18 11.2 70 0 0 808.4 1055.3Z" fill="#fff" stroke-width="2.2"/>
<ellipse cx="801.8" cy="1038.5" rx="18" ry="11.2" transform="rotate(70 801.8 1038.5)" fill="#fff" stroke-width="2.2"/>
<path d="M808.5 1032.9L826.8 1024.8" stroke-width="1.8"/>
<path d="M810.5 1037.9L828.8 1029.8" stroke-width="1.8"/>
<path d="M799.7 1054.8L814.3 1048.3A14 8.7 70 0 0 817.1 1031.7A14 8.7 70 0 0 804 1022.3L789.4 1028.8A14 8.7 70 0 0 786.6 1045.3A14 8.7 70 0 0 799.7 1054.8Z" fill="#fff" stroke-width="2.0"/>
<ellipse cx="794.5" cy="1041.8" rx="14" ry="8.7" transform="rotate(70 794.5 1041.8)" fill="#fff" stroke-width="2.0"/>
<path d="M788.9 1047.8A14 8.7 70 0 0 801.4 1053.9A14 8.7 70 0 0 803.5 1038" fill="none" stroke-width="1.0"/>
<path d="M790.9 1046.9A14 8.7 70 0 0 803.4 1053A14 8.7 70 0 0 805.5 1037.1" fill="none" stroke-width="1.0"/>
<path d="M792.9 1046A14 8.7 70 0 0 805.4 1052.2A14 8.7 70 0 0 807.5 1036.2" fill="none" stroke-width="1.0"/>
<path d="M794.9 1045.1A14 8.7 70 0 0 807.4 1051.3A14 8.7 70 0 0 809.5 1035.3" fill="none" stroke-width="1.0"/>
<path d="M796.9 1044.2A14 8.7 70 0 0 809.4 1050.4A14 8.7 70 0 0 811.5 1034.4" fill="none" stroke-width="1.0"/>
<path d="M798.9 1043.3A14 8.7 70 0 0 811.4 1049.5A14 8.7 70 0 0 813.5 1033.6" fill="none" stroke-width="1.0"/>
<path d="M800.9 1042.4A14 8.7 70 0 0 813.5 1048.6A14 8.7 70 0 0 815.5 1032.7" fill="none" stroke-width="1.0"/>
<ellipse cx="794.5" cy="1041.8" rx="9" ry="5.6" transform="rotate(70 794.5 1041.8)" fill="none" stroke-width="1.5"/>
<path d="M802.4 1036.7A17 11.2 70 0 0 781.7 1032.3A17 11.2 70 0 0 794.2 1058.9" fill="none" stroke-width="2.6"/>
<path d="M799.2 1035.6A13.6 9 70 0 0 783.9 1034.4A13.6 9 70 0 0 791.9 1055" fill="none" stroke-width="1.4"/>
<path d="M1057.7 940.6L1060 939.6A15.5 12 82 0 0 1066.4 920A15.5 12 82 0 0 1050.6 910.4L1048.3 911.4A15.5 12 82 0 0 1041.9 931A15.5 12 82 0 0 1057.7 940.6Z" fill="#fff" stroke-width="2.6"/>
<ellipse cx="1053" cy="926" rx="15.5" ry="12" transform="rotate(82 1053 926)" fill="#fff" stroke-width="2.6"/>
<ellipse cx="1053" cy="926" rx="14.4" ry="11.2" transform="rotate(82 1053 926)" fill="none" stroke-width="1.0"/>
<path d="M790.5 1003L803 997L807 997.5L809 1001L807 1006L795 1012L791 1010Z" fill="#fff" stroke-width="2.4"/>
<path d="M793 1006L807 1000" stroke-width="1.2"/>
<path d="M422.4 1398L431.5 1394A25.5 17.5 70 0 0 438 1363.2A25.5 17.5 70 0 0 412.5 1346.7L403.4 1350.8" fill="none" stroke-width="2.8"/>
<ellipse cx="412.9" cy="1374.4" rx="25.5" ry="17.5" transform="rotate(70 412.9 1374.4)" fill="none" stroke-width="2.8"/>
<ellipse cx="412.9" cy="1374.4" rx="22.9" ry="15.8" transform="rotate(70 412.9 1374.4)" fill="none" stroke-width="1.2"/>
<ellipse cx="410.9" cy="1377.4" rx="18" ry="13" transform="rotate(70 410.9 1377.4)" fill="none" stroke-width="2.2"/>
<ellipse cx="413.6" cy="1376.2" rx="14" ry="10.1" transform="rotate(70 413.6 1376.2)" fill="none" stroke-width="1.3" stroke-dasharray="0"/>
<ellipse cx="415.8" cy="1375.2" rx="10.1" ry="7.3" transform="rotate(70 415.8 1375.2)" fill="none" stroke-width="1.3" stroke-dasharray="0"/>
<path d="M431.2 1384.6L440.3 1380.5" stroke-width="1.2"/>
<path d="M419.4 1354L428.5 1349.9" stroke-width="1.2"/>
<path d="M412.7 1398.3L421.8 1394.2" stroke-width="1.2"/>
<path d="M434.5 1388.8A22.9 15.8 70 0 0 418.1 1348.1" fill="none" stroke-width="1.2"/>
<path d="M452.2 1401.9L457.7 1399.4A7.5 5.2 70 0 0 459.6 1390.3A7.5 5.2 70 0 0 452.1 1385.5L446.6 1387.9" fill="none" stroke-width="2.2"/>
<ellipse cx="449.4" cy="1394.9" rx="7.5" ry="5.2" transform="rotate(70 449.4 1394.9)" fill="none" stroke-width="2.2"/>
<ellipse cx="449.4" cy="1394.9" rx="3.2" ry="2.4" transform="rotate(70 449.4 1394.9)" fill="none" stroke-width="1.2"/>
<path d="M456.2 1395.4L477.2 1385.8L474.6 1380L453.6 1389.5" fill="none" stroke-width="2.0"/>
<path d="M461.4 1393L460.7 1386.3" stroke-width="1.1"/>
<path d="M463.5 1392L462.8 1385.4" stroke-width="1.1"/>
<path d="M465.6 1391.1L464.9 1384.4" stroke-width="1.1"/>
<path d="M467.7 1390.1L467 1383.5" stroke-width="1.1"/>
<path d="M469.8 1389.2L469.1 1382.5" stroke-width="1.1"/>
<path d="M471.9 1388.2L471.2 1381.6" stroke-width="1.1"/>
<path d="M474 1387.3L473.3 1380.6" stroke-width="1.1"/>
<path d="M499.5 1381.8L503.6 1380A41 28 69 0 0 513.6 1330.7A41 28 69 0 0 472.4 1304.2L468.3 1306" fill="none" stroke-width="2.6"/>
<ellipse cx="483.9" cy="1343.9" rx="41" ry="28" transform="rotate(69 483.9 1343.9)" fill="none" stroke-width="2.6"/>
<ellipse cx="484.9" cy="1344.9" rx="22" ry="15.5" transform="rotate(69 484.9 1344.9)" fill="none" stroke-width="2.4"/>
<ellipse cx="484.9" cy="1344.9" rx="24.2" ry="17.1" transform="rotate(69 484.9 1344.9)" fill="none" stroke-width="1.0"/>
<path d="M495.4 1322.6A31.2 21.3 69 0 0 475.6 1314" fill="none" stroke-width="7.0"/>
<path d="M495.4 1322.6A31.2 21.3 69 0 0 475.6 1314" fill="none" stroke="#fff" stroke-width="3.2"/>
<path d="M462.1 1328A31.2 21.3 69 0 0 463.9 1351.2" fill="none" stroke-width="7.0"/>
<path d="M462.1 1328A31.2 21.3 69 0 0 463.9 1351.2" fill="none" stroke="#fff" stroke-width="3.2"/>
<path d="M480 1371.3A31.2 21.3 69 0 0 495.4 1372.9" fill="none" stroke-width="7.0"/>
<path d="M480 1371.3A31.2 21.3 69 0 0 495.4 1372.9" fill="none" stroke="#fff" stroke-width="3.2"/>
<path d="M564.6 1357L566.3 1356.4L566.7 1353L568.1 1352.1L570.8 1353.5L572.2 1352.3L572 1348.7L573.2 1347.3L575.9 1347.9L576.9 1346.3L576.1 1342.5L577 1340.8L579.6 1340.6L580.2 1338.5L578.9 1334.9L579.3 1332.8L581.7 1331.8L581.9 1329.4L580.1 1326.1L580.1 1323.8L582.1 1322.1L582 1319.5L579.7 1316.7L579.4 1314.3L580.9 1311.8L580.3 1309.3L577.8 1307L577 1304.6L578 1301.6L577 1299.1L574.3 1297.6L573.3 1295.4L573.6 1292L572.3 1289.7L569.6 1289L568.3 1287L568 1283.3L566.4 1281.4L563.8 1281.5L562.3 1279.9L561.4 1276.1L559.6 1274.6L557.3 1275.6L555.6 1274.4L554.2 1270.8L552.3 1269.8L550.3 1271.5L548.5 1270.8L546.6 1267.5L544.7 1267L543.2 1269.5L541.4 1269.3L539.1 1266.5L537.3 1266.6L536.3 1269.6L534.7 1269.9L532.2 1267.8L530.5 1268.4L530.1 1271.8L528.7 1272.7L526 1271.3L524.6 1272.5L524.8 1276.1L523.6 1277.5L520.9 1276.9L519.9 1278.5L520.7 1282.3L519.8 1284L517.2 1284.2L516.6 1286.3L517.9 1289.9L517.5 1292L515.1 1293L514.9 1295.4L516.7 1298.7L516.7 1301L514.7 1302.7L514.8 1305.3L517.1 1308.1L517.4 1310.5L515.9 1313L516.5 1315.5L519 1317.8L519.8 1320.2L518.8 1323.2L519.8 1325.7L522.5 1327.2L523.5 1329.4L523.2 1332.8L524.5 1335.1L527.2 1335.8L528.5 1337.8L528.8 1341.5L530.4 1343.4L533 1343.3L534.5 1344.9L535.4 1348.7L537.2 1350.2L539.5 1349.2L541.2 1350.4L542.6 1354L544.5 1355L546.5 1353.3L548.3 1354L550.2 1357.3L552.1 1357.8L553.6 1355.3L555.4 1355.5L557.7 1358.3L559.5 1358.2L560.5 1355.2L562.1 1354.9L564.6 1357Z" fill="#fff" stroke-width="2.4"/>
<path d="M593.4 1344.3L593.8 1340.9L595.3 1340L598 1341.5L599.4 1340.3L599.2 1336.7L600.4 1335.3L603.1 1336L604.2 1334.4L603.4 1330.6L604.2 1328.9L606.8 1328.7L607.5 1326.7L606.2 1323.1L606.7 1321L609 1320L609.3 1317.7L607.5 1314.3L607.5 1312L609.5 1310.3L609.4 1307.8L607.2 1304.9L606.8 1302.5L608.4 1300.1L607.8 1297.5L605.3 1295.3L604.6 1292.9L605.6 1289.9L604.6 1287.4L601.9 1285.8L600.9 1283.6L601.3 1280.2L600 1277.9L597.3 1277.1L595.9 1275.1L595.7 1271.5L594.1 1269.5L591.5 1269.6L589.9 1267.9L589.1 1264.2L587.4 1262.7L585 1263.6L583.3 1262.4L581.9 1258.8L580 1257.7L578 1259.4L576.2 1258.7L574.3 1255.4L572.5 1254.9L570.9 1257.3L569.1 1257.1L566.9 1254.3L565.1 1254.4L564 1257.3L562.4 1257.7L559.9 1255.5L558.2 1256.1" fill="none" stroke-width="2.4"/>
<path d="M566 1356.5L593.4 1344.3" stroke-width="2.4"/>
<path d="M530.8 1268.3L558.2 1256.1" stroke-width="2.4"/>
<path d="M570.2 1352.3L597.6 1340.1" stroke-width="2.6"/>
<path d="M572 1348.7L599.4 1336.5" stroke-width="1.1"/>
<path d="M575.1 1346.9L602.5 1334.7" stroke-width="2.6"/>
<path d="M576.1 1342.5L603.5 1330.3" stroke-width="1.1"/>
<path d="M578.6 1339.7L606 1327.5" stroke-width="2.6"/>
<path d="M578.9 1334.9L606.3 1322.7" stroke-width="1.1"/>
<path d="M580.7 1331.2L608.1 1319" stroke-width="2.6"/>
<path d="M580.1 1326.1L607.5 1313.9" stroke-width="1.1"/>
<path d="M581.1 1321.8L608.5 1309.6" stroke-width="2.6"/>
<path d="M579.7 1316.7L607.1 1304.5" stroke-width="1.1"/>
<path d="M579.9 1311.8L607.3 1299.6" stroke-width="2.6"/>
<path d="M577.8 1307L605.2 1294.8" stroke-width="1.1"/>
<path d="M577.1 1301.9L604.5 1289.7" stroke-width="2.6"/>
<path d="M574.3 1297.6L601.7 1285.4" stroke-width="1.1"/>
<path d="M572.9 1292.6L600.3 1280.4" stroke-width="2.6"/>
<path d="M569.6 1289L597 1276.8" stroke-width="1.1"/>
<path d="M567.4 1284.2L594.8 1272" stroke-width="2.6"/>
<path d="M563.8 1281.5L591.2 1269.3" stroke-width="1.1"/>
<path d="M561 1277.2L588.4 1265" stroke-width="2.6"/>
<path d="M557.3 1275.6L584.7 1263.4" stroke-width="1.1"/>
<path d="M554 1272L581.4 1259.8" stroke-width="2.6"/>
<path d="M550.3 1271.5L577.7 1259.3" stroke-width="1.1"/>
<path d="M546.7 1268.9L574.1 1256.7" stroke-width="2.6"/>
<path d="M543.2 1269.5L570.6 1257.3" stroke-width="1.1"/>
<path d="M539.4 1267.9L566.8 1255.7" stroke-width="2.6"/>
<path d="M536.3 1269.6L563.7 1257.4" stroke-width="1.1"/>
<ellipse cx="553.4" cy="1314.4" rx="35" ry="24.5" transform="rotate(70 553.4 1314.4)" fill="none" stroke-width="2.4"/>
<ellipse cx="553.4" cy="1314.4" rx="32" ry="22" transform="rotate(70 553.4 1314.4)" fill="none" stroke-width="1.0"/>
<path d="M572.8 1318.7A20 13.5 70 0 0 559.1 1293.9A20 13.5 70 0 0 544 1307.2" fill="none" stroke-width="2.0"/>
<path d="M541.4 1295.6A24 16 70 0 0 543.3 1325" fill="none" stroke-width="1.2"/>
<ellipse cx="543.9" cy="1291.3" rx="3.2" ry="2.2" transform="rotate(70 543.9 1291.3)" fill="none" stroke-width="1.6"/>
<ellipse cx="538.7" cy="1295.9" rx="3.2" ry="2.2" transform="rotate(70 538.7 1295.9)" fill="none" stroke-width="1.6"/>
<ellipse cx="559.1" cy="1340.5" rx="3.2" ry="2.2" transform="rotate(70 559.1 1340.5)" fill="none" stroke-width="1.6"/>
<ellipse cx="566.5" cy="1337.5" rx="3.2" ry="2.2" transform="rotate(70 566.5 1337.5)" fill="none" stroke-width="1.6"/>
<ellipse cx="571.4" cy="1329.8" rx="3.2" ry="2.2" transform="rotate(70 571.4 1329.8)" fill="none" stroke-width="1.6"/>
<path d="M537.1 1301.8A24 16 70 0 0 540.2 1324L543.1 1321.9A19 12.5 70 0 1 540.6 1304.4Z" fill="none" stroke-width="1.8"/>
<path d="M663.4 1305.2L668 1303.2A36 26 70 0 0 678.2 1259.3A36 26 70 0 0 640.9 1236.5L636.4 1238.6" fill="none" stroke-width="2.6"/>
<ellipse cx="649.9" cy="1271.9" rx="36" ry="26" transform="rotate(70 649.9 1271.9)" fill="none" stroke-width="2.6"/>
<ellipse cx="649.9" cy="1271.9" rx="33.8" ry="24.4" transform="rotate(70 649.9 1271.9)" fill="none" stroke-width="1.1"/>
<ellipse cx="659.8" cy="1299" rx="3.6" ry="2.6" transform="rotate(70 659.8 1299)" fill="none" stroke-width="2.2"/>
<ellipse cx="667.3" cy="1293.2" rx="3.6" ry="2.6" transform="rotate(70 667.3 1293.2)" fill="none" stroke-width="2.2"/>
<ellipse cx="671.3" cy="1283.2" rx="3.6" ry="2.6" transform="rotate(70 671.3 1283.2)" fill="none" stroke-width="2.2"/>
<ellipse cx="671.1" cy="1271" rx="3.6" ry="2.6" transform="rotate(70 671.1 1271)" fill="none" stroke-width="2.2"/>
<ellipse cx="666.8" cy="1258.9" rx="3.6" ry="2.6" transform="rotate(70 666.8 1258.9)" fill="none" stroke-width="2.2"/>
<ellipse cx="659" cy="1249.5" rx="3.6" ry="2.6" transform="rotate(70 659 1249.5)" fill="none" stroke-width="2.2"/>
<ellipse cx="649.5" cy="1244.4" rx="3.6" ry="2.6" transform="rotate(70 649.5 1244.4)" fill="none" stroke-width="2.2"/>
<ellipse cx="640" cy="1244.8" rx="3.6" ry="2.6" transform="rotate(70 640 1244.8)" fill="none" stroke-width="2.2"/>
<ellipse cx="632.5" cy="1250.6" rx="3.6" ry="2.6" transform="rotate(70 632.5 1250.6)" fill="none" stroke-width="2.2"/>
<ellipse cx="628.5" cy="1260.6" rx="3.6" ry="2.6" transform="rotate(70 628.5 1260.6)" fill="none" stroke-width="2.2"/>
<ellipse cx="628.7" cy="1272.8" rx="3.6" ry="2.6" transform="rotate(70 628.7 1272.8)" fill="none" stroke-width="2.2"/>
<ellipse cx="633" cy="1284.9" rx="3.6" ry="2.6" transform="rotate(70 633 1284.9)" fill="none" stroke-width="2.2"/>
<ellipse cx="640.8" cy="1294.3" rx="3.6" ry="2.6" transform="rotate(70 640.8 1294.3)" fill="none" stroke-width="2.2"/>
<ellipse cx="650.3" cy="1299.4" rx="3.6" ry="2.6" transform="rotate(70 650.3 1299.4)" fill="none" stroke-width="2.2"/>
<path d="M637.2 1302.8L656.4 1294.2A22 16 70 0 0 662.7 1267.3A22 16 70 0 0 639.8 1253.5L620.6 1262A22 16 70 0 0 614.3 1288.9A22 16 70 0 0 637.2 1302.8Z" fill="#fff" stroke-width="2.6"/>
<ellipse cx="628.9" cy="1282.4" rx="22" ry="16" transform="rotate(70 628.9 1282.4)" fill="none" stroke-width="2.6"/>
<ellipse cx="628.9" cy="1282.4" rx="22" ry="16" transform="rotate(70 628.9 1282.4)" fill="none" stroke-width="2.6"/>
<ellipse cx="628.9" cy="1282.4" rx="19.8" ry="14.4" transform="rotate(70 628.9 1282.4)" fill="none" stroke-width="1.0"/>
<ellipse cx="629.9" cy="1281.4" rx="16" ry="11.5" transform="rotate(70 629.9 1281.4)" fill="none" stroke-width="1.4"/>
<path d="M628.3 1296A16 11.5 70 0 0 641.1 1278.5" fill="none" stroke-width="3.0"/>
<path d="M697.3 1274.9L709.2 1269.6A19.5 15 70 0 0 715.5 1245.5A19.5 15 70 0 0 694.4 1233.6L682.5 1238.9A19.5 15 70 0 0 676.2 1263A19.5 15 70 0 0 697.3 1274.9Z" fill="#9b9b9b" stroke-width="2.6"/>
<ellipse cx="689.9" cy="1256.9" rx="19.5" ry="15" transform="rotate(70 689.9 1256.9)" fill="none" stroke-width="2.6"/>
<ellipse cx="689.9" cy="1256.9" rx="19.5" ry="15" transform="rotate(70 689.9 1256.9)" fill="#9b9b9b" stroke-width="2.6"/>
<ellipse cx="696.4" cy="1255.9" rx="11" ry="8" transform="rotate(70 696.4 1255.9)" fill="#9b9b9b" stroke-width="2.2"/>
<path d="M697.8 1266.6A11 8 70 0 0 702.9 1250.9" fill="none" stroke-width="3.5"/>
<path d="M459.1 1357.5L489.9 1344.2" stroke-width="2.2"/>
<path d="M539.8 1320.9L568.1 1310.1" stroke-width="2.2"/>
<path d="M613 1291L636.3 1281" stroke-width="2.2"/>
<path d="M676.2 1262.7L689.5 1256" stroke-width="2.2"/>
<path d="M716.2 1244.4L729.4 1237.7" stroke-width="2.2"/>
<path d="M934.5 1170.7L971 1154.4A24 14.9 70 0 0 975.8 1126A24 14.9 70 0 0 953.4 1109.8L916.9 1126.1A24 14.9 70 0 0 912.1 1154.4A24 14.9 70 0 0 934.5 1170.7Z" fill="#fff" stroke-width="3.0"/>
<ellipse cx="925.7" cy="1148.4" rx="24" ry="14.9" transform="rotate(70 925.7 1148.4)" fill="#fff" stroke-width="3.0"/>
<path d="M934.4 1198.9L940.8 1196A50 27 73.5 0 0 949.6 1137.7A50 27 73.5 0 0 908.8 1101.5L902.4 1104.3A50 27 73.5 0 0 893.6 1162.7A50 27 73.5 0 0 934.4 1198.9Z" fill="#fff" stroke-width="2.6"/>
<ellipse cx="918.4" cy="1151.6" rx="50" ry="27" transform="rotate(73.5 918.4 1151.6)" fill="#fff" stroke-width="2.6"/>
<ellipse cx="918.4" cy="1151.6" rx="47" ry="25.4" transform="rotate(73.5 918.4 1151.6)" fill="none" stroke-width="1.0"/>
<ellipse cx="934.6" cy="1184.5" rx="5.8" ry="4" transform="rotate(73.5 934.6 1184.5)" fill="none" stroke-width="2.4"/>
<ellipse cx="940.2" cy="1168.4" rx="5.8" ry="4" transform="rotate(73.5 940.2 1168.4)" fill="none" stroke-width="2.4"/>
<ellipse cx="937.5" cy="1145.9" rx="5.8" ry="4" transform="rotate(73.5 937.5 1145.9)" fill="none" stroke-width="2.4"/>
<ellipse cx="927.5" cy="1125.6" rx="5.8" ry="4" transform="rotate(73.5 927.5 1125.6)" fill="none" stroke-width="2.4"/>
<ellipse cx="914" cy="1115.2" rx="5.8" ry="4" transform="rotate(73.5 914 1115.2)" fill="none" stroke-width="2.4"/>
<ellipse cx="902.2" cy="1118.7" rx="5.8" ry="4" transform="rotate(73.5 902.2 1118.7)" fill="none" stroke-width="2.4"/>
<ellipse cx="896.5" cy="1134.8" rx="5.8" ry="4" transform="rotate(73.5 896.5 1134.8)" fill="none" stroke-width="2.4"/>
<ellipse cx="899.2" cy="1157.3" rx="5.8" ry="4" transform="rotate(73.5 899.2 1157.3)" fill="none" stroke-width="2.4"/>
<ellipse cx="909.2" cy="1177.6" rx="5.8" ry="4" transform="rotate(73.5 909.2 1177.6)" fill="none" stroke-width="2.4"/>
<ellipse cx="922.7" cy="1188" rx="5.8" ry="4" transform="rotate(73.5 922.7 1188)" fill="none" stroke-width="2.4"/>
<path d="M908.5 1186.6L919.5 1181.7A28 16.8 70 0 0 924.6 1148.8A28 16.8 70 0 0 899 1129.6L888 1134.5A28 16.8 70 0 0 882.9 1167.4A28 16.8 70 0 0 908.5 1186.6Z" fill="#fff" stroke-width="2.6"/>
<ellipse cx="898.3" cy="1160.6" rx="28" ry="16.8" transform="rotate(70 898.3 1160.6)" fill="#fff" stroke-width="2.6"/>
<ellipse cx="898.3" cy="1160.6" rx="25.2" ry="15.1" transform="rotate(70 898.3 1160.6)" fill="none" stroke-width="1.0"/>
<path d="M843.9 1207.7L907.8 1179.3A21 13 70 0 0 912 1154.5A21 13 70 0 0 892.4 1140.2L828.5 1168.7A21 13 70 0 0 824.2 1193.5A21 13 70 0 0 843.9 1207.7Z" fill="#fff" stroke-width="3.0"/>
<ellipse cx="836.2" cy="1188.2" rx="21" ry="13" transform="rotate(70 836.2 1188.2)" fill="#fff" stroke-width="3.0"/>
<path d="M847.7 1212.6L856.9 1208.5A27 14.9 70 0 0 860.7 1177.3A27 14.9 70 0 0 837.4 1158.2L828.2 1162.3A27 14.9 70 0 0 824.4 1193.5A27 14.9 70 0 0 847.7 1212.6Z" fill="#fff" stroke-width="2.8"/>
<ellipse cx="838" cy="1187.4" rx="27" ry="14.9" transform="rotate(70 838 1187.4)" fill="#fff" stroke-width="2.8"/>
<path d="M841.2 1240.4L847.6 1237.5A50 27 73.5 0 0 856.4 1179.2A50 27 73.5 0 0 815.6 1143L809.2 1145.8A50 27 73.5 0 0 800.4 1204.2A50 27 73.5 0 0 841.2 1240.4Z" fill="#fff" stroke-width="2.6"/>
<ellipse cx="825.2" cy="1193.1" rx="50" ry="27" transform="rotate(73.5 825.2 1193.1)" fill="#fff" stroke-width="2.6"/>
<ellipse cx="825.2" cy="1193.1" rx="47" ry="25.4" transform="rotate(73.5 825.2 1193.1)" fill="none" stroke-width="1.0"/>
<ellipse cx="841.4" cy="1226" rx="5.8" ry="4" transform="rotate(73.5 841.4 1226)" fill="none" stroke-width="2.4"/>
<ellipse cx="847" cy="1209.9" rx="5.8" ry="4" transform="rotate(73.5 847 1209.9)" fill="none" stroke-width="2.4"/>
<ellipse cx="844.4" cy="1187.4" rx="5.8" ry="4" transform="rotate(73.5 844.4 1187.4)" fill="none" stroke-width="2.4"/>
<ellipse cx="834.3" cy="1167.1" rx="5.8" ry="4" transform="rotate(73.5 834.3 1167.1)" fill="none" stroke-width="2.4"/>
<ellipse cx="820.9" cy="1156.7" rx="5.8" ry="4" transform="rotate(73.5 820.9 1156.7)" fill="none" stroke-width="2.4"/>
<ellipse cx="809" cy="1160.2" rx="5.8" ry="4" transform="rotate(73.5 809 1160.2)" fill="none" stroke-width="2.4"/>
<ellipse cx="803.4" cy="1176.3" rx="5.8" ry="4" transform="rotate(73.5 803.4 1176.3)" fill="none" stroke-width="2.4"/>
<ellipse cx="806" cy="1198.8" rx="5.8" ry="4" transform="rotate(73.5 806 1198.8)" fill="none" stroke-width="2.4"/>
<ellipse cx="816" cy="1219.1" rx="5.8" ry="4" transform="rotate(73.5 816 1219.1)" fill="none" stroke-width="2.4"/>
<ellipse cx="829.5" cy="1229.5" rx="5.8" ry="4" transform="rotate(73.5 829.5 1229.5)" fill="none" stroke-width="2.4"/>
<path d="M800.6 1231.4L821.6 1222A25 15.5 70 0 0 826.6 1192.5A25 15.5 70 0 0 803.2 1175.6L782.2 1184.9A25 15.5 70 0 0 777.2 1214.5A25 15.5 70 0 0 800.6 1231.4Z" fill="#fff" stroke-width="2.4"/>
<ellipse cx="791.4" cy="1208.2" rx="25" ry="15.5" transform="rotate(70 791.4 1208.2)" fill="#fff" stroke-width="2.4"/>
<ellipse cx="791.4" cy="1208.2" rx="22.5" ry="14" transform="rotate(70 791.4 1208.2)" fill="none" stroke-width="1.0"/>
<path d="M792.2 1231.9L801.3 1227.8A22 13.6 70 0 0 805.7 1201.8A22 13.6 70 0 0 785.1 1186.9L776 1191A22 13.6 70 0 0 771.6 1217A22 13.6 70 0 0 792.2 1231.9Z" fill="#fff" stroke-width="2.2"/>
<ellipse cx="784.1" cy="1211.4" rx="22" ry="13.6" transform="rotate(70 784.1 1211.4)" fill="#fff" stroke-width="2.2"/>
<path d="M788.5 1238.9L794 1236.5A27 16.7 70 0 0 799.4 1204.6A27 16.7 70 0 0 774.2 1186.3L768.7 1188.7A27 16.7 70 0 0 763.3 1220.7A27 16.7 70 0 0 788.5 1238.9Z" fill="#fff" stroke-width="2.6"/>
<ellipse cx="778.6" cy="1213.8" rx="27" ry="16.7" transform="rotate(70 778.6 1213.8)" fill="#fff" stroke-width="2.6"/>
<ellipse cx="778.6" cy="1213.8" rx="24.8" ry="15.4" transform="rotate(70 778.6 1213.8)" fill="none" stroke-width="1.0"/>
<path d="M777.5 1238.4L786.7 1234.3A22 13.6 70 0 0 791.1 1208.3A22 13.6 70 0 0 770.5 1193.4L761.4 1197.5A22 13.6 70 0 0 757 1223.5A22 13.6 70 0 0 777.5 1238.4Z" fill="#fff" stroke-width="2.2"/>
<ellipse cx="769.5" cy="1217.9" rx="22" ry="13.6" transform="rotate(70 769.5 1217.9)" fill="#fff" stroke-width="2.2"/>
<path d="M771.7 1239.9L777.2 1237.4A21 13 70 0 0 781.4 1212.6A21 13 70 0 0 761.8 1198.4L756.3 1200.8A21 13 70 0 0 752.1 1225.7A21 13 70 0 0 771.7 1239.9Z" fill="#fff" stroke-width="2.4"/>
<ellipse cx="764" cy="1220.4" rx="21" ry="13" transform="rotate(70 764 1220.4)" fill="#fff" stroke-width="2.4"/>
<ellipse cx="764" cy="1220.4" rx="18.9" ry="11.7" transform="rotate(70 764 1220.4)" fill="none" stroke-width="1.0"/>
<path d="M746.8 1247.7L772.4 1236.3A18 11.2 70 0 0 776 1215A18 11.2 70 0 0 759.2 1202.8L733.6 1214.2A18 11.2 70 0 0 730 1235.5A18 11.2 70 0 0 746.8 1247.7Z" fill="#fff" stroke-width="2.2"/>
<ellipse cx="740.2" cy="1230.9" rx="18" ry="11.2" transform="rotate(70 740.2 1230.9)" fill="#fff" stroke-width="2.2"/>
<path d="M746.9 1225.3L765.2 1217.2" stroke-width="1.8"/>
<path d="M748.9 1230.3L767.2 1222.2" stroke-width="1.8"/>
<path d="M738.1 1247.2L752.7 1240.7A14 8.7 70 0 0 755.5 1224.1A14 8.7 70 0 0 742.4 1214.7L727.8 1221.2A14 8.7 70 0 0 725 1237.7A14 8.7 70 0 0 738.1 1247.2Z" fill="#fff" stroke-width="2.0"/>
<ellipse cx="732.9" cy="1234.2" rx="14" ry="8.7" transform="rotate(70 732.9 1234.2)" fill="#fff" stroke-width="2.0"/>
<path d="M727.3 1240.2A14 8.7 70 0 0 739.8 1246.3A14 8.7 70 0 0 741.9 1230.4" fill="none" stroke-width="1.0"/>
<path d="M729.3 1239.3A14 8.7 70 0 0 741.8 1245.4A14 8.7 70 0 0 743.9 1229.5" fill="none" stroke-width="1.0"/>
<path d="M731.3 1238.4A14 8.7 70 0 0 743.8 1244.6A14 8.7 70 0 0 745.9 1228.6" fill="none" stroke-width="1.0"/>
<path d="M733.3 1237.5A14 8.7 70 0 0 745.8 1243.7A14 8.7 70 0 0 747.9 1227.7" fill="none" stroke-width="1.0"/>
<path d="M735.3 1236.6A14 8.7 70 0 0 747.8 1242.8A14 8.7 70 0 0 749.9 1226.8" fill="none" stroke-width="1.0"/>
<path d="M737.3 1235.7A14 8.7 70 0 0 749.8 1241.9A14 8.7 70 0 0 751.9 1226" fill="none" stroke-width="1.0"/>
<path d="M739.3 1234.8A14 8.7 70 0 0 751.9 1241A14 8.7 70 0 0 753.9 1225.1" fill="none" stroke-width="1.0"/>
<ellipse cx="732.9" cy="1234.2" rx="9" ry="5.6" transform="rotate(70 732.9 1234.2)" fill="none" stroke-width="1.5"/>
<path d="M740.8 1229.1A17 11.2 70 0 0 720.1 1224.7A17 11.2 70 0 0 732.6 1251.3" fill="none" stroke-width="2.6"/>
<path d="M737.6 1228A13.6 9 70 0 0 722.3 1226.8A13.6 9 70 0 0 730.3 1247.4" fill="none" stroke-width="1.4"/>
<path d="M996.1 1133L998.4 1132A15.5 12 82 0 0 1004.8 1112.4A15.5 12 82 0 0 989 1102.8L986.7 1103.8A15.5 12 82 0 0 980.3 1123.4A15.5 12 82 0 0 996.1 1133Z" fill="#fff" stroke-width="2.6"/>
<ellipse cx="991.4" cy="1118.4" rx="15.5" ry="12" transform="rotate(82 991.4 1118.4)" fill="#fff" stroke-width="2.6"/>
<ellipse cx="991.4" cy="1118.4" rx="14.4" ry="11.2" transform="rotate(82 991.4 1118.4)" fill="none" stroke-width="1.0"/>
<path d="M728.9 1195.4L741.4 1189.4L745.4 1189.9L747.4 1193.4L745.4 1198.4L733.4 1204.4L729.4 1202.4Z" fill="#fff" stroke-width="2.4"/>
<path d="M731.4 1198.4L745.4 1192.4" stroke-width="1.2"/>
<text transform="translate(80.5 1478) scale(0.9 1)" class="t" font-size="32" fill="#000" stroke="#000" stroke-width="0.5">TST00509</text>
</g>
</svg>
</body></html>
